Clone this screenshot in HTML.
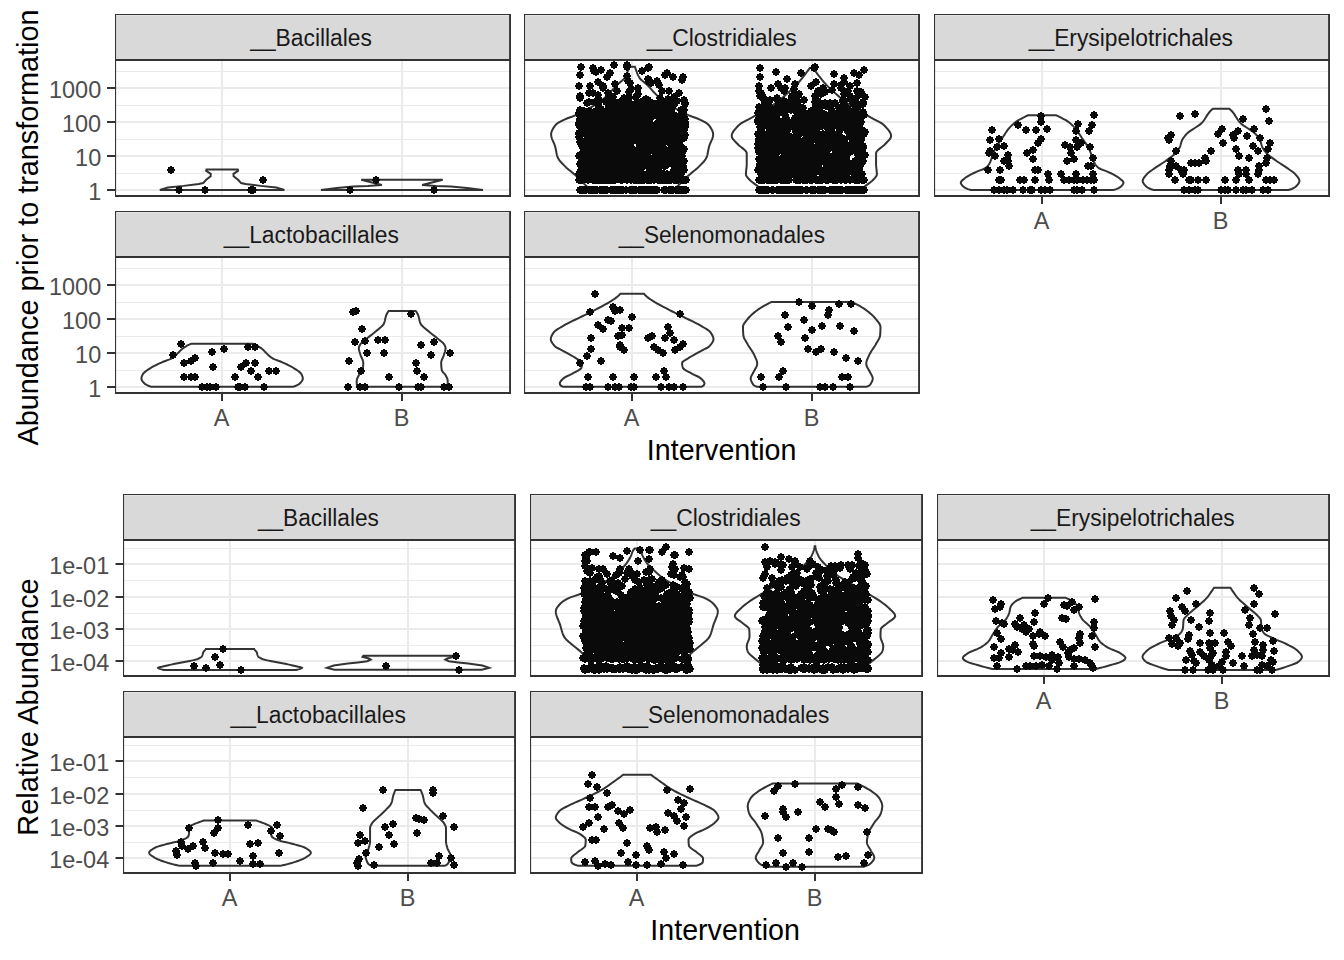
<!DOCTYPE html>
<html><head><meta charset="utf-8"><title>Abundance violin plots</title>
<style>html,body{margin:0;padding:0;background:#fff}body{width:1344px;height:960px;overflow:hidden;font-family:"Liberation Sans",sans-serif}svg{display:block}</style>
</head><body>
<svg width="1344" height="960" viewBox="0 0 1344 960" font-family="'Liberation Sans', sans-serif">
<rect width="1344" height="960" fill="#fff"/>
<defs><path id="p" d="M-1-4h2v1h2v2h1v2h-1v2h-2v1h-2v-1h-2v-2h-1v-2h1v-2h2z" fill="#0a0a0a"/></defs>
<g>
<rect x="115" y="14" width="396" height="46" fill="#D9D9D9"/>
<path d="M116 15h393v1h-392v43h-1z" fill="#E4E4E4"/>
<path d="M115 71h396v1h-396zM115 105h396v1h-396zM115 139h396v1h-396zM115 173h396v1h-396zM115 87h396v2h-396zM115 121h396v2h-396zM115 155h396v2h-396zM115 189h396v2h-396zM221 60h2v137h-2zM401 60h2v137h-2z" fill="#EBEBEB"/>
<path d="M206.5 169.48 L206.17 170.82 L210.75 173.83 L210.64 176.18 L205.94 180.09 L203.16 183.1 L198.69 184 L183.63 185.88 L168 187.45 L159.84 189.91 L284.41 189.91 L276.26 187.45 L260.63 185.88 L245.57 184 L241.1 183.1 L238.32 180.09 L233.62 176.18 L233.5 173.83 L238.09 170.82 L237.76 169.48Z" fill="none" stroke="#333333" stroke-width="2" stroke-linejoin="miter" stroke-miterlimit="6"/>
<path d="M361.24 179.73 L381.86 185.08 L367.78 186.03 L353.05 186.42 L337.01 188.03 L320.97 189.89 L483.02 189.89 L466.98 188.03 L450.94 186.42 L436.21 186.03 L422.13 185.08 L442.75 179.73Z" fill="none" stroke="#333333" stroke-width="2" stroke-linejoin="miter" stroke-miterlimit="6"/>
<use href="#p" x="171" y="170"/><use href="#p" x="179" y="190"/><use href="#p" x="205" y="190"/><use href="#p" x="251" y="190"/><use href="#p" x="253" y="190"/><use href="#p" x="263" y="180"/>
<use href="#p" x="350" y="190"/><use href="#p" x="376" y="180"/><use href="#p" x="434" y="190"/>
<path d="M115 14h396v1.1h-396zM115 14h1.1v183h-1.1zM509.1 14h1.9v183h-1.9zM115 59h396v2h-396zM115 195h396v2h-396z" fill="#333333"/>
<text x="250.2" y="46.4" font-size="23.47" fill="#1A1A1A" textLength="121.8" lengthAdjust="spacingAndGlyphs">__Bacillales</text>
<path d="M107 87H115v2H107zM107 121H115v2H107zM107 155H115v2H107zM107 189H115v2H107z" fill="#333333"/>
<text x="101.2" y="97.7" font-size="23.47" fill="#4D4D4D" text-anchor="end">1000</text>
<text x="101.2" y="131.7" font-size="23.47" fill="#4D4D4D" text-anchor="end">100</text>
<text x="101.2" y="165.7" font-size="23.47" fill="#4D4D4D" text-anchor="end">10</text>
<text x="101.2" y="199.7" font-size="23.47" fill="#4D4D4D" text-anchor="end">1</text>
</g>
<g>
<rect x="524" y="14" width="396" height="46" fill="#D9D9D9"/>
<path d="M525 15h393v1h-392v43h-1z" fill="#E4E4E4"/>
<path d="M524 71h396v1h-396zM524 105h396v1h-396zM524 139h396v1h-396zM524 173h396v1h-396zM524 87h396v2h-396zM524 121h396v2h-396zM524 155h396v2h-396zM524 189h396v2h-396zM631 60h2v137h-2zM811 60h2v137h-2z" fill="#EBEBEB"/>
<path d="M629.35 66.79 L628.83 68.35 L628.28 69.91 L627.69 71.47 L627.11 73.03 L626.48 74.59 L625.76 76.15 L624.89 77.71 L623.66 79.27 L621.95 80.83 L619.99 82.39 L618.04 83.95 L616.36 85.51 L614.92 87.07 L613.58 88.63 L612.26 90.19 L610.88 91.75 L609.38 93.31 L607.82 94.87 L606.19 96.43 L604.48 97.99 L602.64 99.55 L600.66 101.11 L598.47 102.67 L596.08 104.23 L593.53 105.79 L590.86 107.35 L588.12 108.91 L585.3 110.47 L582.35 112.03 L579.22 113.59 L575.85 115.15 L571.85 116.71 L567.48 118.27 L563.85 119.83 L560.82 121.39 L558.1 122.95 L555.99 124.51 L554.69 126.07 L553.62 127.64 L552.68 129.2 L551.92 130.76 L551.38 132.32 L551.12 133.88 L551.16 135.44 L551.46 137 L551.94 138.56 L552.55 140.12 L553.24 141.68 L553.93 143.24 L554.57 144.8 L555.11 146.36 L555.5 147.92 L555.83 149.48 L556.12 151.04 L556.41 152.6 L556.74 154.16 L557.14 155.72 L557.64 157.28 L558.4 158.84 L559.48 160.4 L560.8 161.96 L562.28 163.52 L563.81 165.08 L565.34 166.64 L566.99 168.2 L568.81 169.76 L570.73 171.32 L572.67 172.88 L574.56 174.44 L576.33 176 L577.96 177.56 L579.51 179.12 L581.01 180.68 L582.53 182.24 L584.12 183.8 L585.8 185.36 L587.55 186.92 L589.35 188.48 L591.21 190.04 L673.05 190.04 L674.9 188.48 L676.71 186.92 L678.46 185.36 L680.14 183.8 L681.72 182.24 L683.24 180.68 L684.75 179.12 L686.29 177.56 L687.92 176 L689.7 174.44 L691.59 172.88 L693.53 171.32 L695.44 169.76 L697.26 168.2 L698.92 166.64 L700.44 165.08 L701.98 163.52 L703.46 161.96 L704.78 160.4 L705.86 158.84 L706.62 157.28 L707.12 155.72 L707.52 154.16 L707.84 152.6 L708.13 151.04 L708.43 149.48 L708.75 147.92 L709.15 146.36 L709.68 144.8 L710.33 143.24 L711.02 141.68 L711.7 140.12 L712.31 138.56 L712.8 137 L713.09 135.44 L713.14 133.88 L712.87 132.32 L712.34 130.76 L711.57 129.2 L710.63 127.64 L709.56 126.07 L708.26 124.51 L706.15 122.95 L703.44 121.39 L700.41 119.83 L696.77 118.27 L692.41 116.71 L688.41 115.15 L685.04 113.59 L681.9 112.03 L678.95 110.47 L676.14 108.91 L673.39 107.35 L670.73 105.79 L668.18 104.23 L665.79 102.67 L663.6 101.11 L661.61 99.55 L659.78 97.99 L658.06 96.43 L656.44 94.87 L654.88 93.31 L653.37 91.75 L651.99 90.19 L650.67 88.63 L649.34 87.07 L647.9 85.51 L646.21 83.95 L644.27 82.39 L642.31 80.83 L640.59 79.27 L639.36 77.71 L638.49 76.15 L637.77 74.59 L637.15 73.03 L636.57 71.47 L635.98 69.91 L635.42 68.35 L634.91 66.79Z" fill="none" stroke="#333333" stroke-width="2" stroke-linejoin="miter" stroke-miterlimit="6"/>
<path d="M809.76 68.1 L808.63 69.64 L807.48 71.18 L806.32 72.73 L805.14 74.27 L803.95 75.81 L802.77 77.36 L801.58 78.9 L800.34 80.44 L799.04 81.99 L797.66 83.53 L796.21 85.08 L794.69 86.62 L793.12 88.16 L791.5 89.71 L789.83 91.25 L788.11 92.79 L786.36 94.34 L784.58 95.88 L782.76 97.42 L780.91 98.97 L779.01 100.51 L777.04 102.06 L775.01 103.6 L772.89 105.14 L770.68 106.69 L768.35 108.23 L765.82 109.77 L763.15 111.32 L760.39 112.86 L757.6 114.41 L754.86 115.95 L752.1 117.49 L749.1 119.04 L746.05 120.58 L743.17 122.12 L740.66 123.67 L738.73 125.21 L737.26 126.75 L735.83 128.3 L734.52 129.84 L733.38 131.39 L732.48 132.93 L731.89 134.47 L731.68 136.02 L732.04 137.56 L732.99 139.1 L734.33 140.65 L735.84 142.19 L737.32 143.73 L738.79 145.28 L740.69 146.82 L742.74 148.37 L744.64 149.91 L746.08 151.45 L746.73 153 L746.74 154.54 L746.74 156.08 L746.74 157.63 L746.74 159.17 L746.74 160.72 L746.74 162.26 L746.74 163.8 L746.7 165.35 L746.58 166.89 L746.42 168.43 L746.24 169.98 L746.08 171.52 L745.96 173.06 L745.93 174.61 L746.44 176.15 L747.6 177.7 L749.07 179.24 L750.57 180.78 L752.43 182.33 L754.57 183.87 L756.69 185.41 L758.62 186.96 L760.47 188.5 L762.29 190.04 L860.51 190.04 L862.32 188.5 L864.18 186.96 L866.11 185.41 L868.23 183.87 L870.37 182.33 L872.23 180.78 L873.72 179.24 L875.19 177.7 L876.36 176.15 L876.87 174.61 L876.83 173.06 L876.72 171.52 L876.56 169.98 L876.38 168.43 L876.22 166.89 L876.1 165.35 L876.06 163.8 L876.06 162.26 L876.06 160.72 L876.06 159.17 L876.06 157.63 L876.06 156.08 L876.06 154.54 L876.07 153 L876.72 151.45 L878.15 149.91 L880.06 148.37 L882.11 146.82 L884.01 145.28 L885.48 143.73 L886.96 142.19 L888.47 140.65 L889.8 139.1 L890.76 137.56 L891.12 136.02 L890.9 134.47 L890.32 132.93 L889.42 131.39 L888.28 129.84 L886.97 128.3 L885.54 126.75 L884.07 125.21 L882.14 123.67 L879.63 122.12 L876.75 120.58 L873.7 119.04 L870.7 117.49 L867.93 115.95 L865.19 114.41 L862.41 112.86 L859.65 111.32 L856.97 109.77 L854.44 108.23 L852.11 106.69 L849.9 105.14 L847.79 103.6 L845.75 102.06 L843.79 100.51 L841.89 98.97 L840.03 97.42 L838.22 95.88 L836.43 94.34 L834.68 92.79 L832.97 91.25 L831.3 89.71 L829.68 88.16 L828.1 86.62 L826.59 85.08 L825.14 83.53 L823.75 81.99 L822.45 80.44 L821.22 78.9 L820.03 77.36 L818.85 75.81 L817.66 74.27 L816.48 72.73 L815.31 71.18 L814.17 69.64 L813.04 68.1Z" fill="none" stroke="#333333" stroke-width="2" stroke-linejoin="miter" stroke-miterlimit="6"/>
<use href="#p" x="589" y="141"/><use href="#p" x="634" y="118"/><use href="#p" x="614" y="180"/><use href="#p" x="640" y="103"/><use href="#p" x="605" y="161"/><use href="#p" x="656" y="108"/><use href="#p" x="631" y="120"/><use href="#p" x="662" y="117"/><use href="#p" x="655" y="147"/><use href="#p" x="631" y="104"/><use href="#p" x="629" y="146"/><use href="#p" x="624" y="122"/><use href="#p" x="660" y="110"/><use href="#p" x="681" y="170"/><use href="#p" x="633" y="132"/><use href="#p" x="671" y="142"/><use href="#p" x="662" y="158"/><use href="#p" x="671" y="159"/><use href="#p" x="654" y="140"/><use href="#p" x="622" y="148"/><use href="#p" x="623" y="156"/><use href="#p" x="601" y="130"/><use href="#p" x="607" y="131"/><use href="#p" x="611" y="129"/><use href="#p" x="598" y="180"/><use href="#p" x="617" y="150"/><use href="#p" x="582" y="174"/><use href="#p" x="659" y="121"/><use href="#p" x="641" y="180"/><use href="#p" x="664" y="166"/><use href="#p" x="684" y="122"/><use href="#p" x="684" y="124"/><use href="#p" x="669" y="156"/><use href="#p" x="593" y="164"/><use href="#p" x="631" y="129"/><use href="#p" x="649" y="118"/><use href="#p" x="634" y="164"/><use href="#p" x="590" y="161"/><use href="#p" x="638" y="180"/><use href="#p" x="621" y="190"/><use href="#p" x="590" y="190"/><use href="#p" x="654" y="180"/><use href="#p" x="615" y="164"/><use href="#p" x="668" y="152"/><use href="#p" x="664" y="190"/><use href="#p" x="673" y="190"/><use href="#p" x="653" y="141"/><use href="#p" x="672" y="147"/><use href="#p" x="600" y="152"/><use href="#p" x="661" y="133"/><use href="#p" x="643" y="129"/><use href="#p" x="662" y="102"/><use href="#p" x="651" y="180"/><use href="#p" x="594" y="174"/><use href="#p" x="681" y="190"/><use href="#p" x="585" y="126"/><use href="#p" x="588" y="115"/><use href="#p" x="678" y="124"/><use href="#p" x="616" y="136"/><use href="#p" x="635" y="115"/><use href="#p" x="620" y="115"/><use href="#p" x="673" y="159"/><use href="#p" x="594" y="112"/><use href="#p" x="648" y="127"/><use href="#p" x="614" y="161"/><use href="#p" x="626" y="135"/><use href="#p" x="661" y="166"/><use href="#p" x="630" y="146"/><use href="#p" x="642" y="116"/><use href="#p" x="667" y="164"/><use href="#p" x="605" y="166"/><use href="#p" x="593" y="164"/><use href="#p" x="620" y="122"/><use href="#p" x="617" y="140"/><use href="#p" x="677" y="151"/><use href="#p" x="638" y="164"/><use href="#p" x="596" y="137"/><use href="#p" x="587" y="139"/><use href="#p" x="685" y="119"/><use href="#p" x="650" y="190"/><use href="#p" x="668" y="99"/><use href="#p" x="661" y="156"/><use href="#p" x="596" y="123"/><use href="#p" x="627" y="180"/><use href="#p" x="603" y="141"/><use href="#p" x="662" y="91"/><use href="#p" x="624" y="116"/><use href="#p" x="641" y="166"/><use href="#p" x="582" y="146"/><use href="#p" x="583" y="190"/><use href="#p" x="668" y="139"/><use href="#p" x="596" y="72"/><use href="#p" x="654" y="190"/><use href="#p" x="643" y="158"/><use href="#p" x="597" y="174"/><use href="#p" x="654" y="190"/><use href="#p" x="635" y="125"/><use href="#p" x="680" y="190"/><use href="#p" x="662" y="126"/><use href="#p" x="682" y="113"/><use href="#p" x="681" y="156"/><use href="#p" x="640" y="106"/><use href="#p" x="624" y="145"/><use href="#p" x="648" y="147"/><use href="#p" x="633" y="134"/><use href="#p" x="640" y="147"/><use href="#p" x="666" y="190"/><use href="#p" x="672" y="190"/><use href="#p" x="658" y="103"/><use href="#p" x="683" y="130"/><use href="#p" x="675" y="164"/><use href="#p" x="622" y="190"/><use href="#p" x="650" y="140"/><use href="#p" x="663" y="147"/><use href="#p" x="627" y="107"/><use href="#p" x="588" y="159"/><use href="#p" x="580" y="98"/><use href="#p" x="672" y="147"/><use href="#p" x="626" y="190"/><use href="#p" x="626" y="137"/><use href="#p" x="624" y="103"/><use href="#p" x="670" y="190"/><use href="#p" x="622" y="110"/><use href="#p" x="586" y="117"/><use href="#p" x="630" y="112"/><use href="#p" x="675" y="161"/><use href="#p" x="586" y="132"/><use href="#p" x="671" y="110"/><use href="#p" x="590" y="118"/><use href="#p" x="673" y="149"/><use href="#p" x="652" y="190"/><use href="#p" x="665" y="139"/><use href="#p" x="671" y="133"/><use href="#p" x="646" y="155"/><use href="#p" x="645" y="136"/><use href="#p" x="599" y="142"/><use href="#p" x="684" y="190"/><use href="#p" x="672" y="100"/><use href="#p" x="642" y="190"/><use href="#p" x="674" y="166"/><use href="#p" x="598" y="149"/><use href="#p" x="613" y="97"/><use href="#p" x="657" y="161"/><use href="#p" x="616" y="136"/><use href="#p" x="655" y="170"/><use href="#p" x="585" y="153"/><use href="#p" x="673" y="131"/><use href="#p" x="685" y="180"/><use href="#p" x="637" y="123"/><use href="#p" x="586" y="156"/><use href="#p" x="621" y="144"/><use href="#p" x="660" y="115"/><use href="#p" x="579" y="180"/><use href="#p" x="649" y="80"/><use href="#p" x="607" y="190"/><use href="#p" x="583" y="122"/><use href="#p" x="663" y="174"/><use href="#p" x="613" y="140"/><use href="#p" x="644" y="144"/><use href="#p" x="583" y="170"/><use href="#p" x="667" y="137"/><use href="#p" x="595" y="150"/><use href="#p" x="678" y="190"/><use href="#p" x="674" y="144"/><use href="#p" x="620" y="159"/><use href="#p" x="646" y="123"/><use href="#p" x="581" y="141"/><use href="#p" x="625" y="111"/><use href="#p" x="652" y="138"/><use href="#p" x="602" y="123"/><use href="#p" x="630" y="114"/><use href="#p" x="627" y="158"/><use href="#p" x="667" y="156"/><use href="#p" x="582" y="190"/><use href="#p" x="639" y="156"/><use href="#p" x="622" y="136"/><use href="#p" x="602" y="126"/><use href="#p" x="591" y="190"/><use href="#p" x="645" y="190"/><use href="#p" x="582" y="132"/><use href="#p" x="638" y="141"/><use href="#p" x="621" y="138"/><use href="#p" x="590" y="156"/><use href="#p" x="621" y="136"/><use href="#p" x="623" y="139"/><use href="#p" x="673" y="106"/><use href="#p" x="668" y="142"/><use href="#p" x="604" y="122"/><use href="#p" x="636" y="170"/><use href="#p" x="605" y="116"/><use href="#p" x="590" y="190"/><use href="#p" x="615" y="190"/><use href="#p" x="608" y="99"/><use href="#p" x="638" y="132"/><use href="#p" x="665" y="111"/><use href="#p" x="580" y="75"/><use href="#p" x="664" y="124"/><use href="#p" x="671" y="190"/><use href="#p" x="664" y="161"/><use href="#p" x="655" y="104"/><use href="#p" x="630" y="117"/><use href="#p" x="615" y="125"/><use href="#p" x="631" y="131"/><use href="#p" x="619" y="190"/><use href="#p" x="665" y="150"/><use href="#p" x="581" y="127"/><use href="#p" x="651" y="136"/><use href="#p" x="580" y="190"/><use href="#p" x="638" y="174"/><use href="#p" x="592" y="143"/><use href="#p" x="674" y="137"/><use href="#p" x="665" y="142"/><use href="#p" x="597" y="180"/><use href="#p" x="667" y="174"/><use href="#p" x="628" y="110"/><use href="#p" x="673" y="77"/><use href="#p" x="587" y="114"/><use href="#p" x="626" y="174"/><use href="#p" x="685" y="127"/><use href="#p" x="670" y="126"/><use href="#p" x="590" y="190"/><use href="#p" x="603" y="174"/><use href="#p" x="604" y="119"/><use href="#p" x="581" y="170"/><use href="#p" x="621" y="180"/><use href="#p" x="616" y="190"/><use href="#p" x="642" y="148"/><use href="#p" x="607" y="134"/><use href="#p" x="625" y="113"/><use href="#p" x="675" y="121"/><use href="#p" x="598" y="151"/><use href="#p" x="600" y="137"/><use href="#p" x="651" y="83"/><use href="#p" x="634" y="138"/><use href="#p" x="660" y="119"/><use href="#p" x="644" y="190"/><use href="#p" x="606" y="180"/><use href="#p" x="589" y="125"/><use href="#p" x="606" y="190"/><use href="#p" x="592" y="190"/><use href="#p" x="626" y="174"/><use href="#p" x="587" y="147"/><use href="#p" x="678" y="180"/><use href="#p" x="666" y="108"/><use href="#p" x="632" y="174"/><use href="#p" x="589" y="93"/><use href="#p" x="671" y="174"/><use href="#p" x="591" y="150"/><use href="#p" x="635" y="174"/><use href="#p" x="590" y="113"/><use href="#p" x="648" y="140"/><use href="#p" x="631" y="190"/><use href="#p" x="608" y="93"/><use href="#p" x="636" y="137"/><use href="#p" x="634" y="125"/><use href="#p" x="668" y="159"/><use href="#p" x="614" y="135"/><use href="#p" x="651" y="190"/><use href="#p" x="664" y="105"/><use href="#p" x="607" y="190"/><use href="#p" x="592" y="114"/><use href="#p" x="607" y="170"/><use href="#p" x="672" y="103"/><use href="#p" x="635" y="190"/><use href="#p" x="591" y="152"/><use href="#p" x="611" y="180"/><use href="#p" x="628" y="144"/><use href="#p" x="685" y="122"/><use href="#p" x="637" y="174"/><use href="#p" x="618" y="190"/><use href="#p" x="598" y="82"/><use href="#p" x="616" y="109"/><use href="#p" x="617" y="129"/><use href="#p" x="657" y="170"/><use href="#p" x="682" y="115"/><use href="#p" x="605" y="147"/><use href="#p" x="615" y="190"/><use href="#p" x="615" y="150"/><use href="#p" x="600" y="119"/><use href="#p" x="634" y="170"/><use href="#p" x="631" y="170"/><use href="#p" x="684" y="129"/><use href="#p" x="683" y="114"/><use href="#p" x="651" y="190"/><use href="#p" x="657" y="126"/><use href="#p" x="633" y="108"/><use href="#p" x="681" y="124"/><use href="#p" x="672" y="132"/><use href="#p" x="686" y="190"/><use href="#p" x="648" y="115"/><use href="#p" x="582" y="120"/><use href="#p" x="673" y="115"/><use href="#p" x="613" y="134"/><use href="#p" x="679" y="127"/><use href="#p" x="614" y="174"/><use href="#p" x="613" y="155"/><use href="#p" x="587" y="161"/><use href="#p" x="628" y="147"/><use href="#p" x="646" y="156"/><use href="#p" x="585" y="190"/><use href="#p" x="660" y="113"/><use href="#p" x="634" y="159"/><use href="#p" x="658" y="150"/><use href="#p" x="627" y="120"/><use href="#p" x="652" y="170"/><use href="#p" x="683" y="116"/><use href="#p" x="615" y="84"/><use href="#p" x="671" y="180"/><use href="#p" x="597" y="112"/><use href="#p" x="586" y="123"/><use href="#p" x="601" y="109"/><use href="#p" x="638" y="111"/><use href="#p" x="604" y="138"/><use href="#p" x="678" y="159"/><use href="#p" x="600" y="153"/><use href="#p" x="614" y="151"/><use href="#p" x="677" y="158"/><use href="#p" x="591" y="153"/><use href="#p" x="661" y="174"/><use href="#p" x="581" y="180"/><use href="#p" x="682" y="153"/><use href="#p" x="663" y="138"/><use href="#p" x="667" y="159"/><use href="#p" x="679" y="147"/><use href="#p" x="597" y="161"/><use href="#p" x="651" y="114"/><use href="#p" x="622" y="190"/><use href="#p" x="602" y="153"/><use href="#p" x="622" y="170"/><use href="#p" x="610" y="159"/><use href="#p" x="663" y="180"/><use href="#p" x="597" y="180"/><use href="#p" x="586" y="116"/><use href="#p" x="611" y="133"/><use href="#p" x="598" y="112"/><use href="#p" x="605" y="161"/><use href="#p" x="674" y="174"/><use href="#p" x="590" y="86"/><use href="#p" x="587" y="127"/><use href="#p" x="657" y="137"/><use href="#p" x="595" y="180"/><use href="#p" x="627" y="98"/><use href="#p" x="596" y="131"/><use href="#p" x="617" y="128"/><use href="#p" x="607" y="124"/><use href="#p" x="664" y="174"/><use href="#p" x="621" y="174"/><use href="#p" x="682" y="114"/><use href="#p" x="652" y="174"/><use href="#p" x="579" y="133"/><use href="#p" x="660" y="98"/><use href="#p" x="658" y="133"/><use href="#p" x="595" y="180"/><use href="#p" x="667" y="174"/><use href="#p" x="678" y="180"/><use href="#p" x="599" y="112"/><use href="#p" x="614" y="190"/><use href="#p" x="643" y="180"/><use href="#p" x="674" y="132"/><use href="#p" x="599" y="126"/><use href="#p" x="627" y="118"/><use href="#p" x="614" y="134"/><use href="#p" x="617" y="164"/><use href="#p" x="602" y="123"/><use href="#p" x="596" y="126"/><use href="#p" x="617" y="119"/><use href="#p" x="649" y="190"/><use href="#p" x="614" y="118"/><use href="#p" x="678" y="146"/><use href="#p" x="602" y="129"/><use href="#p" x="685" y="103"/><use href="#p" x="630" y="190"/><use href="#p" x="674" y="97"/><use href="#p" x="651" y="161"/><use href="#p" x="605" y="153"/><use href="#p" x="594" y="145"/><use href="#p" x="596" y="133"/><use href="#p" x="631" y="143"/><use href="#p" x="639" y="190"/><use href="#p" x="608" y="115"/><use href="#p" x="645" y="131"/><use href="#p" x="653" y="144"/><use href="#p" x="653" y="108"/><use href="#p" x="586" y="142"/><use href="#p" x="649" y="124"/><use href="#p" x="583" y="125"/><use href="#p" x="600" y="134"/><use href="#p" x="616" y="190"/><use href="#p" x="629" y="121"/><use href="#p" x="600" y="190"/><use href="#p" x="636" y="161"/><use href="#p" x="683" y="119"/><use href="#p" x="667" y="134"/><use href="#p" x="621" y="190"/><use href="#p" x="584" y="142"/><use href="#p" x="658" y="127"/><use href="#p" x="658" y="149"/><use href="#p" x="580" y="190"/><use href="#p" x="602" y="119"/><use href="#p" x="677" y="190"/><use href="#p" x="652" y="142"/><use href="#p" x="593" y="151"/><use href="#p" x="598" y="129"/><use href="#p" x="593" y="93"/><use href="#p" x="595" y="102"/><use href="#p" x="592" y="151"/><use href="#p" x="679" y="119"/><use href="#p" x="637" y="112"/><use href="#p" x="661" y="133"/><use href="#p" x="681" y="190"/><use href="#p" x="600" y="180"/><use href="#p" x="600" y="174"/><use href="#p" x="639" y="126"/><use href="#p" x="597" y="190"/><use href="#p" x="607" y="77"/><use href="#p" x="654" y="143"/><use href="#p" x="667" y="180"/><use href="#p" x="592" y="124"/><use href="#p" x="617" y="156"/><use href="#p" x="595" y="141"/><use href="#p" x="662" y="180"/><use href="#p" x="636" y="155"/><use href="#p" x="604" y="158"/><use href="#p" x="633" y="125"/><use href="#p" x="612" y="164"/><use href="#p" x="661" y="140"/><use href="#p" x="623" y="161"/><use href="#p" x="673" y="138"/><use href="#p" x="614" y="152"/><use href="#p" x="652" y="103"/><use href="#p" x="631" y="138"/><use href="#p" x="608" y="119"/><use href="#p" x="684" y="137"/><use href="#p" x="648" y="153"/><use href="#p" x="586" y="150"/><use href="#p" x="620" y="170"/><use href="#p" x="595" y="125"/><use href="#p" x="603" y="125"/><use href="#p" x="619" y="174"/><use href="#p" x="669" y="124"/><use href="#p" x="650" y="159"/><use href="#p" x="603" y="116"/><use href="#p" x="679" y="190"/><use href="#p" x="624" y="126"/><use href="#p" x="591" y="170"/><use href="#p" x="627" y="155"/><use href="#p" x="603" y="88"/><use href="#p" x="591" y="190"/><use href="#p" x="657" y="174"/><use href="#p" x="680" y="190"/><use href="#p" x="654" y="158"/><use href="#p" x="677" y="151"/><use href="#p" x="661" y="129"/><use href="#p" x="596" y="190"/><use href="#p" x="684" y="161"/><use href="#p" x="650" y="119"/><use href="#p" x="624" y="122"/><use href="#p" x="603" y="142"/><use href="#p" x="598" y="180"/><use href="#p" x="591" y="114"/><use href="#p" x="611" y="110"/><use href="#p" x="614" y="133"/><use href="#p" x="659" y="123"/><use href="#p" x="613" y="111"/><use href="#p" x="607" y="170"/><use href="#p" x="615" y="136"/><use href="#p" x="653" y="190"/><use href="#p" x="666" y="161"/><use href="#p" x="597" y="122"/><use href="#p" x="603" y="190"/><use href="#p" x="602" y="166"/><use href="#p" x="672" y="142"/><use href="#p" x="657" y="152"/><use href="#p" x="665" y="166"/><use href="#p" x="606" y="174"/><use href="#p" x="612" y="141"/><use href="#p" x="614" y="151"/><use href="#p" x="638" y="88"/><use href="#p" x="640" y="140"/><use href="#p" x="602" y="130"/><use href="#p" x="681" y="190"/><use href="#p" x="668" y="153"/><use href="#p" x="668" y="141"/><use href="#p" x="614" y="174"/><use href="#p" x="602" y="142"/><use href="#p" x="665" y="116"/><use href="#p" x="589" y="158"/><use href="#p" x="605" y="164"/><use href="#p" x="609" y="117"/><use href="#p" x="599" y="170"/><use href="#p" x="659" y="133"/><use href="#p" x="600" y="164"/><use href="#p" x="642" y="180"/><use href="#p" x="670" y="151"/><use href="#p" x="599" y="180"/><use href="#p" x="644" y="141"/><use href="#p" x="686" y="190"/><use href="#p" x="579" y="174"/><use href="#p" x="580" y="164"/><use href="#p" x="640" y="180"/><use href="#p" x="608" y="116"/><use href="#p" x="612" y="170"/><use href="#p" x="620" y="103"/><use href="#p" x="681" y="161"/><use href="#p" x="598" y="155"/><use href="#p" x="673" y="164"/><use href="#p" x="664" y="156"/><use href="#p" x="643" y="190"/><use href="#p" x="678" y="174"/><use href="#p" x="621" y="190"/><use href="#p" x="657" y="134"/><use href="#p" x="658" y="174"/><use href="#p" x="628" y="139"/><use href="#p" x="606" y="174"/><use href="#p" x="643" y="101"/><use href="#p" x="606" y="102"/><use href="#p" x="642" y="131"/><use href="#p" x="670" y="190"/><use href="#p" x="597" y="164"/><use href="#p" x="592" y="129"/><use href="#p" x="678" y="142"/><use href="#p" x="677" y="133"/><use href="#p" x="618" y="119"/><use href="#p" x="665" y="190"/><use href="#p" x="623" y="190"/><use href="#p" x="646" y="150"/><use href="#p" x="677" y="180"/><use href="#p" x="636" y="170"/><use href="#p" x="588" y="146"/><use href="#p" x="661" y="150"/><use href="#p" x="591" y="190"/><use href="#p" x="589" y="190"/><use href="#p" x="597" y="174"/><use href="#p" x="678" y="126"/><use href="#p" x="630" y="143"/><use href="#p" x="648" y="121"/><use href="#p" x="598" y="130"/><use href="#p" x="619" y="174"/><use href="#p" x="639" y="142"/><use href="#p" x="648" y="153"/><use href="#p" x="591" y="122"/><use href="#p" x="676" y="138"/><use href="#p" x="662" y="156"/><use href="#p" x="618" y="146"/><use href="#p" x="604" y="136"/><use href="#p" x="624" y="126"/><use href="#p" x="671" y="143"/><use href="#p" x="591" y="116"/><use href="#p" x="606" y="139"/><use href="#p" x="664" y="190"/><use href="#p" x="663" y="111"/><use href="#p" x="676" y="174"/><use href="#p" x="671" y="119"/><use href="#p" x="668" y="100"/><use href="#p" x="594" y="180"/><use href="#p" x="628" y="164"/><use href="#p" x="620" y="123"/><use href="#p" x="636" y="180"/><use href="#p" x="596" y="149"/><use href="#p" x="607" y="159"/><use href="#p" x="610" y="180"/><use href="#p" x="646" y="134"/><use href="#p" x="674" y="125"/><use href="#p" x="633" y="158"/><use href="#p" x="586" y="141"/><use href="#p" x="607" y="180"/><use href="#p" x="679" y="151"/><use href="#p" x="671" y="141"/><use href="#p" x="617" y="126"/><use href="#p" x="580" y="110"/><use href="#p" x="678" y="138"/><use href="#p" x="664" y="156"/><use href="#p" x="612" y="174"/><use href="#p" x="625" y="152"/><use href="#p" x="587" y="141"/><use href="#p" x="590" y="190"/><use href="#p" x="629" y="148"/><use href="#p" x="594" y="190"/><use href="#p" x="639" y="106"/><use href="#p" x="641" y="166"/><use href="#p" x="657" y="164"/><use href="#p" x="663" y="147"/><use href="#p" x="656" y="147"/><use href="#p" x="622" y="132"/><use href="#p" x="619" y="117"/><use href="#p" x="668" y="164"/><use href="#p" x="599" y="107"/><use href="#p" x="580" y="142"/><use href="#p" x="646" y="146"/><use href="#p" x="665" y="190"/><use href="#p" x="604" y="131"/><use href="#p" x="626" y="164"/><use href="#p" x="646" y="106"/><use href="#p" x="640" y="166"/><use href="#p" x="654" y="180"/><use href="#p" x="651" y="134"/><use href="#p" x="654" y="134"/><use href="#p" x="626" y="153"/><use href="#p" x="680" y="190"/><use href="#p" x="646" y="106"/><use href="#p" x="658" y="180"/><use href="#p" x="650" y="132"/><use href="#p" x="669" y="190"/><use href="#p" x="585" y="159"/><use href="#p" x="656" y="115"/><use href="#p" x="661" y="106"/><use href="#p" x="684" y="136"/><use href="#p" x="595" y="152"/><use href="#p" x="639" y="148"/><use href="#p" x="641" y="190"/><use href="#p" x="683" y="170"/><use href="#p" x="647" y="112"/><use href="#p" x="682" y="119"/><use href="#p" x="652" y="125"/><use href="#p" x="648" y="152"/><use href="#p" x="631" y="116"/><use href="#p" x="615" y="161"/><use href="#p" x="613" y="121"/><use href="#p" x="605" y="122"/><use href="#p" x="632" y="133"/><use href="#p" x="657" y="81"/><use href="#p" x="584" y="159"/><use href="#p" x="590" y="166"/><use href="#p" x="585" y="155"/><use href="#p" x="580" y="164"/><use href="#p" x="609" y="117"/><use href="#p" x="662" y="126"/><use href="#p" x="633" y="136"/><use href="#p" x="647" y="190"/><use href="#p" x="667" y="174"/><use href="#p" x="624" y="122"/><use href="#p" x="643" y="140"/><use href="#p" x="632" y="139"/><use href="#p" x="606" y="180"/><use href="#p" x="623" y="153"/><use href="#p" x="677" y="122"/><use href="#p" x="643" y="190"/><use href="#p" x="639" y="170"/><use href="#p" x="677" y="151"/><use href="#p" x="597" y="190"/><use href="#p" x="624" y="147"/><use href="#p" x="594" y="190"/><use href="#p" x="602" y="174"/><use href="#p" x="633" y="190"/><use href="#p" x="614" y="180"/><use href="#p" x="584" y="133"/><use href="#p" x="583" y="174"/><use href="#p" x="610" y="151"/><use href="#p" x="623" y="190"/><use href="#p" x="682" y="180"/><use href="#p" x="678" y="180"/><use href="#p" x="620" y="120"/><use href="#p" x="595" y="148"/><use href="#p" x="619" y="140"/><use href="#p" x="598" y="170"/><use href="#p" x="634" y="113"/><use href="#p" x="620" y="142"/><use href="#p" x="654" y="159"/><use href="#p" x="604" y="180"/><use href="#p" x="669" y="119"/><use href="#p" x="619" y="156"/><use href="#p" x="627" y="151"/><use href="#p" x="646" y="99"/><use href="#p" x="611" y="190"/><use href="#p" x="659" y="123"/><use href="#p" x="636" y="180"/><use href="#p" x="671" y="158"/><use href="#p" x="674" y="170"/><use href="#p" x="680" y="119"/><use href="#p" x="588" y="132"/><use href="#p" x="649" y="149"/><use href="#p" x="660" y="180"/><use href="#p" x="640" y="180"/><use href="#p" x="592" y="130"/><use href="#p" x="657" y="111"/><use href="#p" x="640" y="131"/><use href="#p" x="588" y="128"/><use href="#p" x="624" y="174"/><use href="#p" x="627" y="180"/><use href="#p" x="587" y="166"/><use href="#p" x="623" y="120"/><use href="#p" x="600" y="159"/><use href="#p" x="632" y="190"/><use href="#p" x="595" y="112"/><use href="#p" x="630" y="174"/><use href="#p" x="668" y="161"/><use href="#p" x="589" y="159"/><use href="#p" x="611" y="103"/><use href="#p" x="592" y="117"/><use href="#p" x="621" y="164"/><use href="#p" x="613" y="161"/><use href="#p" x="634" y="128"/><use href="#p" x="607" y="142"/><use href="#p" x="640" y="190"/><use href="#p" x="605" y="120"/><use href="#p" x="647" y="180"/><use href="#p" x="672" y="114"/><use href="#p" x="636" y="190"/><use href="#p" x="618" y="153"/><use href="#p" x="662" y="161"/><use href="#p" x="649" y="67"/><use href="#p" x="637" y="125"/><use href="#p" x="669" y="130"/><use href="#p" x="660" y="129"/><use href="#p" x="673" y="131"/><use href="#p" x="620" y="121"/><use href="#p" x="611" y="156"/><use href="#p" x="642" y="174"/><use href="#p" x="653" y="144"/><use href="#p" x="616" y="138"/><use href="#p" x="619" y="166"/><use href="#p" x="626" y="141"/><use href="#p" x="685" y="180"/><use href="#p" x="680" y="130"/><use href="#p" x="630" y="170"/><use href="#p" x="658" y="153"/><use href="#p" x="580" y="134"/><use href="#p" x="613" y="138"/><use href="#p" x="683" y="117"/><use href="#p" x="677" y="133"/><use href="#p" x="592" y="116"/><use href="#p" x="651" y="115"/><use href="#p" x="671" y="134"/><use href="#p" x="645" y="133"/><use href="#p" x="605" y="131"/><use href="#p" x="646" y="114"/><use href="#p" x="626" y="159"/><use href="#p" x="620" y="164"/><use href="#p" x="684" y="161"/><use href="#p" x="630" y="83"/><use href="#p" x="651" y="170"/><use href="#p" x="643" y="174"/><use href="#p" x="682" y="156"/><use href="#p" x="581" y="190"/><use href="#p" x="684" y="138"/><use href="#p" x="656" y="174"/><use href="#p" x="636" y="155"/><use href="#p" x="630" y="148"/><use href="#p" x="600" y="174"/><use href="#p" x="620" y="102"/><use href="#p" x="643" y="156"/><use href="#p" x="587" y="120"/><use href="#p" x="681" y="147"/><use href="#p" x="674" y="140"/><use href="#p" x="580" y="96"/><use href="#p" x="681" y="180"/><use href="#p" x="609" y="132"/><use href="#p" x="676" y="149"/><use href="#p" x="637" y="102"/><use href="#p" x="684" y="180"/><use href="#p" x="582" y="190"/><use href="#p" x="641" y="123"/><use href="#p" x="634" y="190"/><use href="#p" x="642" y="122"/><use href="#p" x="676" y="117"/><use href="#p" x="647" y="124"/><use href="#p" x="638" y="115"/><use href="#p" x="631" y="152"/><use href="#p" x="649" y="123"/><use href="#p" x="682" y="159"/><use href="#p" x="579" y="123"/><use href="#p" x="645" y="164"/><use href="#p" x="681" y="127"/><use href="#p" x="603" y="111"/><use href="#p" x="639" y="120"/><use href="#p" x="642" y="134"/><use href="#p" x="614" y="190"/><use href="#p" x="669" y="180"/><use href="#p" x="622" y="105"/><use href="#p" x="601" y="174"/><use href="#p" x="598" y="180"/><use href="#p" x="666" y="164"/><use href="#p" x="661" y="164"/><use href="#p" x="682" y="137"/><use href="#p" x="662" y="155"/><use href="#p" x="614" y="135"/><use href="#p" x="675" y="180"/><use href="#p" x="593" y="125"/><use href="#p" x="653" y="151"/><use href="#p" x="660" y="149"/><use href="#p" x="682" y="139"/><use href="#p" x="613" y="146"/><use href="#p" x="648" y="159"/><use href="#p" x="621" y="174"/><use href="#p" x="677" y="170"/><use href="#p" x="666" y="107"/><use href="#p" x="642" y="140"/><use href="#p" x="605" y="153"/><use href="#p" x="586" y="128"/><use href="#p" x="653" y="170"/><use href="#p" x="614" y="155"/><use href="#p" x="677" y="170"/><use href="#p" x="589" y="102"/><use href="#p" x="626" y="151"/><use href="#p" x="675" y="174"/><use href="#p" x="669" y="91"/><use href="#p" x="602" y="147"/><use href="#p" x="582" y="161"/><use href="#p" x="679" y="174"/><use href="#p" x="626" y="190"/><use href="#p" x="590" y="190"/><use href="#p" x="582" y="133"/><use href="#p" x="659" y="155"/><use href="#p" x="656" y="148"/><use href="#p" x="628" y="81"/><use href="#p" x="668" y="139"/><use href="#p" x="634" y="170"/><use href="#p" x="612" y="180"/><use href="#p" x="587" y="103"/><use href="#p" x="679" y="151"/><use href="#p" x="662" y="138"/><use href="#p" x="595" y="161"/><use href="#p" x="678" y="174"/><use href="#p" x="583" y="190"/><use href="#p" x="639" y="136"/><use href="#p" x="593" y="180"/><use href="#p" x="597" y="170"/><use href="#p" x="651" y="114"/><use href="#p" x="624" y="151"/><use href="#p" x="612" y="180"/><use href="#p" x="653" y="166"/><use href="#p" x="589" y="111"/><use href="#p" x="618" y="164"/><use href="#p" x="681" y="161"/><use href="#p" x="634" y="110"/><use href="#p" x="594" y="132"/><use href="#p" x="620" y="174"/><use href="#p" x="635" y="116"/><use href="#p" x="580" y="119"/><use href="#p" x="660" y="127"/><use href="#p" x="579" y="125"/><use href="#p" x="679" y="144"/><use href="#p" x="598" y="151"/><use href="#p" x="673" y="141"/><use href="#p" x="655" y="148"/><use href="#p" x="638" y="170"/><use href="#p" x="583" y="129"/><use href="#p" x="586" y="146"/><use href="#p" x="596" y="130"/><use href="#p" x="622" y="190"/><use href="#p" x="634" y="180"/><use href="#p" x="674" y="141"/><use href="#p" x="617" y="144"/><use href="#p" x="671" y="116"/><use href="#p" x="665" y="166"/><use href="#p" x="639" y="135"/><use href="#p" x="655" y="174"/><use href="#p" x="675" y="118"/><use href="#p" x="623" y="174"/><use href="#p" x="589" y="135"/><use href="#p" x="685" y="123"/><use href="#p" x="662" y="138"/><use href="#p" x="629" y="125"/><use href="#p" x="648" y="152"/><use href="#p" x="638" y="94"/><use href="#p" x="677" y="101"/><use href="#p" x="628" y="166"/><use href="#p" x="653" y="174"/><use href="#p" x="647" y="180"/><use href="#p" x="657" y="124"/><use href="#p" x="644" y="180"/><use href="#p" x="641" y="112"/><use href="#p" x="587" y="139"/><use href="#p" x="631" y="190"/><use href="#p" x="622" y="106"/><use href="#p" x="675" y="158"/><use href="#p" x="656" y="166"/><use href="#p" x="642" y="152"/><use href="#p" x="646" y="125"/><use href="#p" x="634" y="138"/><use href="#p" x="666" y="119"/><use href="#p" x="669" y="180"/><use href="#p" x="601" y="190"/><use href="#p" x="614" y="141"/><use href="#p" x="655" y="146"/><use href="#p" x="599" y="131"/><use href="#p" x="674" y="155"/><use href="#p" x="584" y="111"/><use href="#p" x="592" y="119"/><use href="#p" x="616" y="111"/><use href="#p" x="621" y="137"/><use href="#p" x="642" y="140"/><use href="#p" x="681" y="166"/><use href="#p" x="615" y="152"/><use href="#p" x="645" y="136"/><use href="#p" x="615" y="158"/><use href="#p" x="607" y="156"/><use href="#p" x="671" y="132"/><use href="#p" x="677" y="190"/><use href="#p" x="630" y="134"/><use href="#p" x="636" y="97"/><use href="#p" x="596" y="180"/><use href="#p" x="673" y="120"/><use href="#p" x="685" y="125"/><use href="#p" x="663" y="180"/><use href="#p" x="609" y="139"/><use href="#p" x="584" y="150"/><use href="#p" x="678" y="180"/><use href="#p" x="667" y="161"/><use href="#p" x="605" y="137"/><use href="#p" x="615" y="190"/><use href="#p" x="606" y="145"/><use href="#p" x="594" y="174"/><use href="#p" x="658" y="153"/><use href="#p" x="666" y="133"/><use href="#p" x="601" y="115"/><use href="#p" x="636" y="164"/><use href="#p" x="660" y="164"/><use href="#p" x="620" y="143"/><use href="#p" x="684" y="149"/><use href="#p" x="679" y="93"/><use href="#p" x="612" y="130"/><use href="#p" x="589" y="170"/><use href="#p" x="595" y="190"/><use href="#p" x="599" y="101"/><use href="#p" x="596" y="161"/><use href="#p" x="595" y="190"/><use href="#p" x="605" y="144"/><use href="#p" x="642" y="129"/><use href="#p" x="644" y="190"/><use href="#p" x="660" y="116"/><use href="#p" x="633" y="156"/><use href="#p" x="667" y="164"/><use href="#p" x="650" y="170"/><use href="#p" x="633" y="166"/><use href="#p" x="594" y="180"/><use href="#p" x="666" y="153"/><use href="#p" x="684" y="190"/><use href="#p" x="612" y="180"/><use href="#p" x="625" y="107"/><use href="#p" x="584" y="170"/><use href="#p" x="674" y="150"/><use href="#p" x="630" y="120"/><use href="#p" x="636" y="126"/><use href="#p" x="594" y="174"/><use href="#p" x="581" y="128"/><use href="#p" x="589" y="161"/><use href="#p" x="651" y="174"/><use href="#p" x="638" y="140"/><use href="#p" x="597" y="125"/><use href="#p" x="631" y="158"/><use href="#p" x="684" y="130"/><use href="#p" x="640" y="142"/><use href="#p" x="599" y="128"/><use href="#p" x="621" y="131"/><use href="#p" x="667" y="152"/><use href="#p" x="643" y="113"/><use href="#p" x="595" y="148"/><use href="#p" x="665" y="75"/><use href="#p" x="661" y="142"/><use href="#p" x="623" y="138"/><use href="#p" x="659" y="161"/><use href="#p" x="603" y="190"/><use href="#p" x="675" y="122"/><use href="#p" x="610" y="180"/><use href="#p" x="660" y="180"/><use href="#p" x="681" y="174"/><use href="#p" x="584" y="153"/><use href="#p" x="594" y="190"/><use href="#p" x="663" y="123"/><use href="#p" x="609" y="99"/><use href="#p" x="602" y="180"/><use href="#p" x="682" y="164"/><use href="#p" x="617" y="91"/><use href="#p" x="683" y="123"/><use href="#p" x="673" y="190"/><use href="#p" x="582" y="146"/><use href="#p" x="656" y="190"/><use href="#p" x="610" y="116"/><use href="#p" x="615" y="161"/><use href="#p" x="677" y="136"/><use href="#p" x="673" y="126"/><use href="#p" x="684" y="100"/><use href="#p" x="629" y="98"/><use href="#p" x="676" y="190"/><use href="#p" x="620" y="190"/><use href="#p" x="643" y="174"/><use href="#p" x="624" y="111"/><use href="#p" x="639" y="119"/><use href="#p" x="682" y="148"/><use href="#p" x="635" y="114"/><use href="#p" x="596" y="141"/><use href="#p" x="685" y="180"/><use href="#p" x="600" y="190"/><use href="#p" x="640" y="123"/><use href="#p" x="599" y="107"/><use href="#p" x="579" y="174"/><use href="#p" x="595" y="119"/><use href="#p" x="604" y="143"/><use href="#p" x="673" y="122"/><use href="#p" x="684" y="110"/><use href="#p" x="622" y="190"/><use href="#p" x="594" y="180"/><use href="#p" x="607" y="161"/><use href="#p" x="592" y="127"/><use href="#p" x="641" y="137"/><use href="#p" x="632" y="149"/><use href="#p" x="648" y="100"/><use href="#p" x="617" y="190"/><use href="#p" x="601" y="141"/><use href="#p" x="608" y="109"/><use href="#p" x="583" y="145"/><use href="#p" x="665" y="166"/><use href="#p" x="647" y="130"/><use href="#p" x="593" y="122"/><use href="#p" x="685" y="124"/><use href="#p" x="651" y="164"/><use href="#p" x="659" y="131"/><use href="#p" x="678" y="138"/><use href="#p" x="612" y="120"/><use href="#p" x="616" y="123"/><use href="#p" x="618" y="170"/><use href="#p" x="660" y="110"/><use href="#p" x="680" y="133"/><use href="#p" x="677" y="127"/><use href="#p" x="616" y="130"/><use href="#p" x="637" y="128"/><use href="#p" x="623" y="137"/><use href="#p" x="630" y="118"/><use href="#p" x="664" y="128"/><use href="#p" x="674" y="139"/><use href="#p" x="602" y="130"/><use href="#p" x="629" y="120"/><use href="#p" x="584" y="133"/><use href="#p" x="673" y="190"/><use href="#p" x="642" y="71"/><use href="#p" x="655" y="174"/><use href="#p" x="614" y="65"/><use href="#p" x="674" y="164"/><use href="#p" x="661" y="106"/><use href="#p" x="618" y="190"/><use href="#p" x="579" y="137"/><use href="#p" x="657" y="135"/><use href="#p" x="664" y="180"/><use href="#p" x="683" y="190"/><use href="#p" x="633" y="127"/><use href="#p" x="633" y="156"/><use href="#p" x="621" y="147"/><use href="#p" x="649" y="149"/><use href="#p" x="596" y="111"/><use href="#p" x="658" y="137"/><use href="#p" x="594" y="180"/><use href="#p" x="603" y="190"/><use href="#p" x="621" y="164"/><use href="#p" x="661" y="138"/><use href="#p" x="612" y="110"/><use href="#p" x="592" y="159"/><use href="#p" x="639" y="133"/><use href="#p" x="645" y="139"/><use href="#p" x="586" y="190"/><use href="#p" x="659" y="111"/><use href="#p" x="594" y="174"/><use href="#p" x="671" y="116"/><use href="#p" x="603" y="152"/><use href="#p" x="664" y="105"/><use href="#p" x="656" y="151"/><use href="#p" x="609" y="126"/><use href="#p" x="679" y="164"/><use href="#p" x="643" y="174"/><use href="#p" x="647" y="150"/><use href="#p" x="588" y="134"/><use href="#p" x="579" y="156"/><use href="#p" x="675" y="152"/><use href="#p" x="673" y="150"/><use href="#p" x="610" y="115"/><use href="#p" x="643" y="132"/><use href="#p" x="651" y="170"/><use href="#p" x="650" y="158"/><use href="#p" x="657" y="148"/><use href="#p" x="648" y="79"/><use href="#p" x="674" y="119"/><use href="#p" x="653" y="159"/><use href="#p" x="588" y="180"/><use href="#p" x="627" y="128"/><use href="#p" x="588" y="174"/><use href="#p" x="579" y="114"/><use href="#p" x="677" y="130"/><use href="#p" x="603" y="150"/><use href="#p" x="583" y="155"/><use href="#p" x="604" y="116"/><use href="#p" x="657" y="190"/><use href="#p" x="604" y="190"/><use href="#p" x="660" y="158"/><use href="#p" x="607" y="152"/><use href="#p" x="590" y="117"/><use href="#p" x="619" y="123"/><use href="#p" x="604" y="190"/><use href="#p" x="663" y="133"/><use href="#p" x="624" y="98"/><use href="#p" x="603" y="190"/><use href="#p" x="632" y="141"/><use href="#p" x="680" y="164"/><use href="#p" x="582" y="190"/><use href="#p" x="590" y="155"/><use href="#p" x="648" y="134"/><use href="#p" x="622" y="142"/><use href="#p" x="609" y="127"/><use href="#p" x="625" y="150"/><use href="#p" x="581" y="67"/><use href="#p" x="594" y="71"/><use href="#p" x="625" y="126"/><use href="#p" x="603" y="174"/><use href="#p" x="638" y="124"/><use href="#p" x="651" y="147"/><use href="#p" x="647" y="135"/><use href="#p" x="629" y="92"/><use href="#p" x="610" y="114"/><use href="#p" x="673" y="131"/><use href="#p" x="649" y="180"/><use href="#p" x="681" y="170"/><use href="#p" x="608" y="151"/><use href="#p" x="640" y="110"/><use href="#p" x="681" y="110"/><use href="#p" x="615" y="132"/><use href="#p" x="668" y="159"/><use href="#p" x="648" y="105"/><use href="#p" x="649" y="164"/><use href="#p" x="618" y="122"/><use href="#p" x="649" y="82"/><use href="#p" x="658" y="170"/><use href="#p" x="668" y="161"/><use href="#p" x="644" y="190"/><use href="#p" x="681" y="118"/><use href="#p" x="665" y="155"/><use href="#p" x="615" y="180"/><use href="#p" x="605" y="190"/><use href="#p" x="613" y="180"/><use href="#p" x="622" y="164"/><use href="#p" x="591" y="121"/><use href="#p" x="626" y="164"/><use href="#p" x="608" y="170"/><use href="#p" x="631" y="180"/><use href="#p" x="595" y="180"/><use href="#p" x="597" y="190"/><use href="#p" x="594" y="170"/><use href="#p" x="615" y="116"/><use href="#p" x="656" y="153"/><use href="#p" x="599" y="100"/><use href="#p" x="648" y="174"/><use href="#p" x="671" y="101"/><use href="#p" x="582" y="180"/><use href="#p" x="636" y="116"/><use href="#p" x="676" y="190"/><use href="#p" x="642" y="125"/><use href="#p" x="603" y="148"/><use href="#p" x="685" y="135"/><use href="#p" x="597" y="180"/><use href="#p" x="647" y="174"/><use href="#p" x="654" y="115"/><use href="#p" x="626" y="149"/><use href="#p" x="638" y="153"/><use href="#p" x="633" y="190"/><use href="#p" x="603" y="86"/><use href="#p" x="600" y="131"/><use href="#p" x="602" y="190"/><use href="#p" x="594" y="164"/><use href="#p" x="645" y="132"/><use href="#p" x="642" y="166"/><use href="#p" x="589" y="131"/><use href="#p" x="674" y="180"/><use href="#p" x="591" y="174"/><use href="#p" x="634" y="158"/><use href="#p" x="669" y="127"/><use href="#p" x="676" y="174"/><use href="#p" x="637" y="125"/><use href="#p" x="662" y="146"/><use href="#p" x="579" y="113"/><use href="#p" x="621" y="170"/><use href="#p" x="675" y="161"/><use href="#p" x="616" y="103"/><use href="#p" x="643" y="147"/><use href="#p" x="644" y="166"/><use href="#p" x="647" y="190"/><use href="#p" x="623" y="118"/><use href="#p" x="641" y="164"/><use href="#p" x="618" y="141"/><use href="#p" x="684" y="170"/><use href="#p" x="675" y="103"/><use href="#p" x="613" y="180"/><use href="#p" x="602" y="124"/><use href="#p" x="667" y="155"/><use href="#p" x="669" y="130"/><use href="#p" x="639" y="190"/><use href="#p" x="650" y="147"/><use href="#p" x="671" y="156"/><use href="#p" x="596" y="113"/><use href="#p" x="682" y="139"/><use href="#p" x="676" y="123"/><use href="#p" x="657" y="113"/><use href="#p" x="666" y="180"/><use href="#p" x="672" y="138"/><use href="#p" x="627" y="125"/><use href="#p" x="589" y="166"/><use href="#p" x="580" y="155"/><use href="#p" x="666" y="114"/><use href="#p" x="685" y="190"/><use href="#p" x="654" y="180"/><use href="#p" x="641" y="174"/><use href="#p" x="683" y="166"/><use href="#p" x="608" y="174"/><use href="#p" x="640" y="129"/><use href="#p" x="619" y="148"/><use href="#p" x="605" y="190"/><use href="#p" x="665" y="119"/><use href="#p" x="630" y="108"/><use href="#p" x="613" y="190"/><use href="#p" x="655" y="126"/><use href="#p" x="633" y="161"/><use href="#p" x="625" y="151"/><use href="#p" x="611" y="139"/><use href="#p" x="681" y="166"/><use href="#p" x="609" y="141"/><use href="#p" x="670" y="130"/><use href="#p" x="658" y="134"/><use href="#p" x="674" y="161"/><use href="#p" x="630" y="110"/><use href="#p" x="591" y="190"/><use href="#p" x="664" y="174"/><use href="#p" x="579" y="134"/><use href="#p" x="659" y="85"/><use href="#p" x="647" y="114"/><use href="#p" x="636" y="133"/><use href="#p" x="609" y="174"/><use href="#p" x="670" y="180"/><use href="#p" x="601" y="119"/><use href="#p" x="591" y="142"/><use href="#p" x="581" y="120"/><use href="#p" x="594" y="180"/><use href="#p" x="622" y="180"/><use href="#p" x="626" y="164"/><use href="#p" x="600" y="180"/><use href="#p" x="595" y="164"/><use href="#p" x="676" y="190"/><use href="#p" x="600" y="190"/><use href="#p" x="657" y="174"/><use href="#p" x="595" y="151"/><use href="#p" x="686" y="180"/><use href="#p" x="598" y="95"/><use href="#p" x="648" y="133"/><use href="#p" x="683" y="77"/><use href="#p" x="671" y="100"/><use href="#p" x="606" y="124"/><use href="#p" x="660" y="152"/><use href="#p" x="684" y="117"/><use href="#p" x="631" y="89"/><use href="#p" x="591" y="148"/><use href="#p" x="638" y="116"/><use href="#p" x="606" y="101"/><use href="#p" x="605" y="161"/><use href="#p" x="654" y="190"/><use href="#p" x="676" y="122"/><use href="#p" x="618" y="170"/><use href="#p" x="661" y="127"/><use href="#p" x="583" y="190"/><use href="#p" x="623" y="174"/><use href="#p" x="586" y="127"/><use href="#p" x="670" y="190"/><use href="#p" x="583" y="112"/><use href="#p" x="661" y="143"/><use href="#p" x="634" y="136"/><use href="#p" x="633" y="129"/><use href="#p" x="665" y="141"/><use href="#p" x="640" y="116"/><use href="#p" x="613" y="190"/><use href="#p" x="651" y="131"/><use href="#p" x="658" y="123"/><use href="#p" x="609" y="180"/><use href="#p" x="676" y="116"/><use href="#p" x="629" y="144"/><use href="#p" x="644" y="131"/><use href="#p" x="662" y="174"/><use href="#p" x="631" y="123"/><use href="#p" x="595" y="152"/><use href="#p" x="629" y="117"/><use href="#p" x="592" y="113"/><use href="#p" x="627" y="76"/><use href="#p" x="627" y="65"/><use href="#p" x="621" y="164"/><use href="#p" x="581" y="127"/><use href="#p" x="680" y="190"/><use href="#p" x="593" y="68"/><use href="#p" x="601" y="70"/><use href="#p" x="610" y="73"/><use href="#p" x="627" y="67"/><use href="#p" x="648" y="68"/><use href="#p" x="667" y="73"/><use href="#p" x="682" y="80"/><use href="#p" x="685" y="104"/><use href="#p" x="579" y="86"/>
<use href="#p" x="854" y="103"/><use href="#p" x="794" y="190"/><use href="#p" x="818" y="164"/><use href="#p" x="791" y="104"/><use href="#p" x="802" y="148"/><use href="#p" x="785" y="123"/><use href="#p" x="821" y="149"/><use href="#p" x="806" y="190"/><use href="#p" x="796" y="164"/><use href="#p" x="852" y="190"/><use href="#p" x="818" y="150"/><use href="#p" x="799" y="94"/><use href="#p" x="818" y="180"/><use href="#p" x="822" y="106"/><use href="#p" x="782" y="140"/><use href="#p" x="774" y="115"/><use href="#p" x="759" y="91"/><use href="#p" x="801" y="142"/><use href="#p" x="841" y="166"/><use href="#p" x="814" y="113"/><use href="#p" x="840" y="129"/><use href="#p" x="758" y="113"/><use href="#p" x="849" y="120"/><use href="#p" x="769" y="144"/><use href="#p" x="778" y="101"/><use href="#p" x="825" y="121"/><use href="#p" x="855" y="180"/><use href="#p" x="773" y="115"/><use href="#p" x="816" y="151"/><use href="#p" x="760" y="145"/><use href="#p" x="830" y="103"/><use href="#p" x="782" y="126"/><use href="#p" x="788" y="161"/><use href="#p" x="788" y="166"/><use href="#p" x="825" y="147"/><use href="#p" x="834" y="84"/><use href="#p" x="779" y="138"/><use href="#p" x="862" y="115"/><use href="#p" x="760" y="145"/><use href="#p" x="808" y="119"/><use href="#p" x="821" y="118"/><use href="#p" x="860" y="153"/><use href="#p" x="765" y="174"/><use href="#p" x="838" y="137"/><use href="#p" x="792" y="174"/><use href="#p" x="809" y="158"/><use href="#p" x="771" y="88"/><use href="#p" x="836" y="190"/><use href="#p" x="861" y="164"/><use href="#p" x="817" y="147"/><use href="#p" x="804" y="121"/><use href="#p" x="801" y="174"/><use href="#p" x="833" y="158"/><use href="#p" x="772" y="128"/><use href="#p" x="803" y="144"/><use href="#p" x="771" y="170"/><use href="#p" x="801" y="190"/><use href="#p" x="814" y="174"/><use href="#p" x="807" y="132"/><use href="#p" x="810" y="174"/><use href="#p" x="828" y="170"/><use href="#p" x="778" y="170"/><use href="#p" x="800" y="117"/><use href="#p" x="793" y="141"/><use href="#p" x="797" y="170"/><use href="#p" x="780" y="170"/><use href="#p" x="761" y="164"/><use href="#p" x="821" y="190"/><use href="#p" x="794" y="146"/><use href="#p" x="759" y="152"/><use href="#p" x="844" y="174"/><use href="#p" x="859" y="161"/><use href="#p" x="779" y="151"/><use href="#p" x="845" y="153"/><use href="#p" x="857" y="170"/><use href="#p" x="797" y="135"/><use href="#p" x="761" y="153"/><use href="#p" x="794" y="147"/><use href="#p" x="802" y="144"/><use href="#p" x="829" y="170"/><use href="#p" x="804" y="158"/><use href="#p" x="786" y="190"/><use href="#p" x="785" y="158"/><use href="#p" x="791" y="100"/><use href="#p" x="810" y="143"/><use href="#p" x="822" y="180"/><use href="#p" x="809" y="116"/><use href="#p" x="782" y="123"/><use href="#p" x="760" y="190"/><use href="#p" x="808" y="133"/><use href="#p" x="808" y="149"/><use href="#p" x="811" y="86"/><use href="#p" x="759" y="190"/><use href="#p" x="776" y="158"/><use href="#p" x="776" y="147"/><use href="#p" x="806" y="190"/><use href="#p" x="778" y="84"/><use href="#p" x="810" y="180"/><use href="#p" x="799" y="122"/><use href="#p" x="812" y="131"/><use href="#p" x="816" y="113"/><use href="#p" x="792" y="190"/><use href="#p" x="833" y="164"/><use href="#p" x="768" y="155"/><use href="#p" x="809" y="174"/><use href="#p" x="798" y="180"/><use href="#p" x="761" y="174"/><use href="#p" x="788" y="166"/><use href="#p" x="822" y="150"/><use href="#p" x="805" y="166"/><use href="#p" x="848" y="109"/><use href="#p" x="813" y="158"/><use href="#p" x="840" y="190"/><use href="#p" x="863" y="153"/><use href="#p" x="822" y="113"/><use href="#p" x="806" y="180"/><use href="#p" x="824" y="152"/><use href="#p" x="854" y="174"/><use href="#p" x="793" y="190"/><use href="#p" x="841" y="85"/><use href="#p" x="801" y="129"/><use href="#p" x="804" y="149"/><use href="#p" x="759" y="149"/><use href="#p" x="830" y="170"/><use href="#p" x="815" y="67"/><use href="#p" x="797" y="190"/><use href="#p" x="824" y="149"/><use href="#p" x="856" y="174"/><use href="#p" x="857" y="190"/><use href="#p" x="835" y="174"/><use href="#p" x="850" y="152"/><use href="#p" x="814" y="156"/><use href="#p" x="818" y="137"/><use href="#p" x="797" y="150"/><use href="#p" x="785" y="190"/><use href="#p" x="819" y="105"/><use href="#p" x="794" y="153"/><use href="#p" x="842" y="161"/><use href="#p" x="776" y="159"/><use href="#p" x="844" y="104"/><use href="#p" x="823" y="158"/><use href="#p" x="779" y="127"/><use href="#p" x="833" y="170"/><use href="#p" x="764" y="113"/><use href="#p" x="778" y="148"/><use href="#p" x="847" y="130"/><use href="#p" x="820" y="170"/><use href="#p" x="856" y="119"/><use href="#p" x="785" y="153"/><use href="#p" x="829" y="117"/><use href="#p" x="838" y="156"/><use href="#p" x="796" y="143"/><use href="#p" x="833" y="166"/><use href="#p" x="831" y="164"/><use href="#p" x="859" y="180"/><use href="#p" x="847" y="161"/><use href="#p" x="786" y="135"/><use href="#p" x="763" y="97"/><use href="#p" x="824" y="190"/><use href="#p" x="802" y="129"/><use href="#p" x="776" y="138"/><use href="#p" x="760" y="120"/><use href="#p" x="851" y="190"/><use href="#p" x="792" y="149"/><use href="#p" x="764" y="100"/><use href="#p" x="783" y="190"/><use href="#p" x="777" y="190"/><use href="#p" x="779" y="107"/><use href="#p" x="792" y="96"/><use href="#p" x="833" y="143"/><use href="#p" x="842" y="190"/><use href="#p" x="811" y="166"/><use href="#p" x="808" y="126"/><use href="#p" x="802" y="113"/><use href="#p" x="826" y="125"/><use href="#p" x="844" y="152"/><use href="#p" x="759" y="139"/><use href="#p" x="815" y="190"/><use href="#p" x="765" y="114"/><use href="#p" x="765" y="149"/><use href="#p" x="838" y="153"/><use href="#p" x="772" y="174"/><use href="#p" x="779" y="113"/><use href="#p" x="830" y="190"/><use href="#p" x="825" y="103"/><use href="#p" x="807" y="180"/><use href="#p" x="815" y="115"/><use href="#p" x="782" y="128"/><use href="#p" x="801" y="133"/><use href="#p" x="828" y="147"/><use href="#p" x="787" y="137"/><use href="#p" x="795" y="143"/><use href="#p" x="789" y="174"/><use href="#p" x="764" y="170"/><use href="#p" x="860" y="161"/><use href="#p" x="788" y="159"/><use href="#p" x="838" y="164"/><use href="#p" x="768" y="118"/><use href="#p" x="845" y="92"/><use href="#p" x="858" y="147"/><use href="#p" x="772" y="128"/><use href="#p" x="840" y="144"/><use href="#p" x="760" y="68"/><use href="#p" x="852" y="134"/><use href="#p" x="863" y="148"/><use href="#p" x="834" y="190"/><use href="#p" x="795" y="129"/><use href="#p" x="785" y="166"/><use href="#p" x="839" y="190"/><use href="#p" x="809" y="151"/><use href="#p" x="838" y="141"/><use href="#p" x="844" y="170"/><use href="#p" x="770" y="161"/><use href="#p" x="862" y="135"/><use href="#p" x="763" y="122"/><use href="#p" x="857" y="153"/><use href="#p" x="809" y="151"/><use href="#p" x="860" y="190"/><use href="#p" x="813" y="174"/><use href="#p" x="848" y="122"/><use href="#p" x="839" y="166"/><use href="#p" x="820" y="115"/><use href="#p" x="825" y="121"/><use href="#p" x="851" y="120"/><use href="#p" x="808" y="140"/><use href="#p" x="780" y="170"/><use href="#p" x="832" y="111"/><use href="#p" x="759" y="111"/><use href="#p" x="856" y="98"/><use href="#p" x="820" y="125"/><use href="#p" x="858" y="159"/><use href="#p" x="762" y="136"/><use href="#p" x="840" y="141"/><use href="#p" x="820" y="143"/><use href="#p" x="761" y="144"/><use href="#p" x="788" y="144"/><use href="#p" x="762" y="190"/><use href="#p" x="803" y="161"/><use href="#p" x="825" y="170"/><use href="#p" x="774" y="180"/><use href="#p" x="802" y="190"/><use href="#p" x="826" y="140"/><use href="#p" x="787" y="174"/><use href="#p" x="815" y="151"/><use href="#p" x="763" y="119"/><use href="#p" x="798" y="131"/><use href="#p" x="767" y="164"/><use href="#p" x="777" y="119"/><use href="#p" x="761" y="130"/><use href="#p" x="802" y="170"/><use href="#p" x="789" y="136"/><use href="#p" x="762" y="118"/><use href="#p" x="810" y="143"/><use href="#p" x="777" y="174"/><use href="#p" x="812" y="190"/><use href="#p" x="793" y="170"/><use href="#p" x="837" y="180"/><use href="#p" x="824" y="174"/><use href="#p" x="831" y="161"/><use href="#p" x="807" y="164"/><use href="#p" x="835" y="147"/><use href="#p" x="797" y="113"/><use href="#p" x="829" y="133"/><use href="#p" x="859" y="170"/><use href="#p" x="856" y="151"/><use href="#p" x="857" y="143"/><use href="#p" x="761" y="190"/><use href="#p" x="808" y="161"/><use href="#p" x="758" y="122"/><use href="#p" x="853" y="103"/><use href="#p" x="825" y="170"/><use href="#p" x="784" y="147"/><use href="#p" x="834" y="180"/><use href="#p" x="856" y="119"/><use href="#p" x="770" y="180"/><use href="#p" x="777" y="98"/><use href="#p" x="780" y="127"/><use href="#p" x="848" y="166"/><use href="#p" x="846" y="174"/><use href="#p" x="824" y="92"/><use href="#p" x="817" y="166"/><use href="#p" x="864" y="70"/><use href="#p" x="856" y="126"/><use href="#p" x="759" y="140"/><use href="#p" x="767" y="114"/><use href="#p" x="780" y="128"/><use href="#p" x="779" y="121"/><use href="#p" x="772" y="170"/><use href="#p" x="789" y="159"/><use href="#p" x="827" y="161"/><use href="#p" x="806" y="134"/><use href="#p" x="827" y="123"/><use href="#p" x="782" y="145"/><use href="#p" x="760" y="121"/><use href="#p" x="862" y="180"/><use href="#p" x="844" y="153"/><use href="#p" x="776" y="161"/><use href="#p" x="838" y="138"/><use href="#p" x="817" y="159"/><use href="#p" x="817" y="121"/><use href="#p" x="834" y="126"/><use href="#p" x="759" y="86"/><use href="#p" x="773" y="142"/><use href="#p" x="788" y="139"/><use href="#p" x="770" y="125"/><use href="#p" x="835" y="103"/><use href="#p" x="863" y="146"/><use href="#p" x="843" y="170"/><use href="#p" x="833" y="144"/><use href="#p" x="788" y="129"/><use href="#p" x="832" y="174"/><use href="#p" x="857" y="161"/><use href="#p" x="815" y="108"/><use href="#p" x="775" y="156"/><use href="#p" x="771" y="113"/><use href="#p" x="825" y="92"/><use href="#p" x="825" y="146"/><use href="#p" x="766" y="190"/><use href="#p" x="816" y="131"/><use href="#p" x="850" y="133"/><use href="#p" x="796" y="132"/><use href="#p" x="820" y="116"/><use href="#p" x="799" y="190"/><use href="#p" x="783" y="106"/><use href="#p" x="768" y="142"/><use href="#p" x="818" y="112"/><use href="#p" x="822" y="156"/><use href="#p" x="817" y="164"/><use href="#p" x="785" y="131"/><use href="#p" x="772" y="138"/><use href="#p" x="771" y="164"/><use href="#p" x="853" y="150"/><use href="#p" x="798" y="139"/><use href="#p" x="859" y="166"/><use href="#p" x="773" y="147"/><use href="#p" x="801" y="190"/><use href="#p" x="796" y="156"/><use href="#p" x="765" y="138"/><use href="#p" x="852" y="116"/><use href="#p" x="796" y="180"/><use href="#p" x="833" y="190"/><use href="#p" x="793" y="124"/><use href="#p" x="776" y="145"/><use href="#p" x="784" y="91"/><use href="#p" x="795" y="123"/><use href="#p" x="852" y="148"/><use href="#p" x="811" y="152"/><use href="#p" x="794" y="158"/><use href="#p" x="813" y="156"/><use href="#p" x="784" y="174"/><use href="#p" x="839" y="148"/><use href="#p" x="797" y="125"/><use href="#p" x="801" y="122"/><use href="#p" x="784" y="153"/><use href="#p" x="814" y="159"/><use href="#p" x="823" y="118"/><use href="#p" x="772" y="174"/><use href="#p" x="785" y="103"/><use href="#p" x="843" y="102"/><use href="#p" x="833" y="190"/><use href="#p" x="834" y="166"/><use href="#p" x="784" y="190"/><use href="#p" x="799" y="121"/><use href="#p" x="758" y="148"/><use href="#p" x="852" y="138"/><use href="#p" x="784" y="174"/><use href="#p" x="799" y="116"/><use href="#p" x="800" y="180"/><use href="#p" x="780" y="123"/><use href="#p" x="842" y="166"/><use href="#p" x="811" y="174"/><use href="#p" x="775" y="174"/><use href="#p" x="797" y="164"/><use href="#p" x="760" y="190"/><use href="#p" x="832" y="133"/><use href="#p" x="801" y="128"/><use href="#p" x="836" y="139"/><use href="#p" x="838" y="115"/><use href="#p" x="794" y="170"/><use href="#p" x="783" y="141"/><use href="#p" x="823" y="88"/><use href="#p" x="773" y="116"/><use href="#p" x="797" y="180"/><use href="#p" x="780" y="130"/><use href="#p" x="770" y="119"/><use href="#p" x="797" y="102"/><use href="#p" x="822" y="121"/><use href="#p" x="832" y="170"/><use href="#p" x="797" y="96"/><use href="#p" x="768" y="156"/><use href="#p" x="797" y="170"/><use href="#p" x="827" y="150"/><use href="#p" x="793" y="156"/><use href="#p" x="802" y="122"/><use href="#p" x="765" y="170"/><use href="#p" x="842" y="127"/><use href="#p" x="781" y="125"/><use href="#p" x="802" y="190"/><use href="#p" x="790" y="158"/><use href="#p" x="789" y="180"/><use href="#p" x="777" y="129"/><use href="#p" x="788" y="156"/><use href="#p" x="844" y="107"/><use href="#p" x="798" y="143"/><use href="#p" x="826" y="115"/><use href="#p" x="804" y="180"/><use href="#p" x="785" y="159"/><use href="#p" x="826" y="164"/><use href="#p" x="797" y="138"/><use href="#p" x="766" y="148"/><use href="#p" x="774" y="110"/><use href="#p" x="784" y="156"/><use href="#p" x="789" y="122"/><use href="#p" x="778" y="106"/><use href="#p" x="798" y="95"/><use href="#p" x="800" y="174"/><use href="#p" x="798" y="170"/><use href="#p" x="788" y="190"/><use href="#p" x="832" y="90"/><use href="#p" x="773" y="147"/><use href="#p" x="849" y="148"/><use href="#p" x="822" y="126"/><use href="#p" x="850" y="137"/><use href="#p" x="812" y="118"/><use href="#p" x="812" y="140"/><use href="#p" x="851" y="137"/><use href="#p" x="845" y="143"/><use href="#p" x="781" y="88"/><use href="#p" x="864" y="190"/><use href="#p" x="784" y="133"/><use href="#p" x="816" y="170"/><use href="#p" x="760" y="96"/><use href="#p" x="800" y="161"/><use href="#p" x="767" y="180"/><use href="#p" x="785" y="88"/><use href="#p" x="806" y="180"/><use href="#p" x="782" y="122"/><use href="#p" x="860" y="159"/><use href="#p" x="802" y="190"/><use href="#p" x="828" y="156"/><use href="#p" x="773" y="190"/><use href="#p" x="764" y="151"/><use href="#p" x="798" y="158"/><use href="#p" x="860" y="190"/><use href="#p" x="864" y="180"/><use href="#p" x="775" y="119"/><use href="#p" x="844" y="82"/><use href="#p" x="857" y="152"/><use href="#p" x="837" y="136"/><use href="#p" x="852" y="144"/><use href="#p" x="820" y="125"/><use href="#p" x="774" y="127"/><use href="#p" x="788" y="140"/><use href="#p" x="814" y="112"/><use href="#p" x="817" y="180"/><use href="#p" x="779" y="150"/><use href="#p" x="832" y="137"/><use href="#p" x="833" y="113"/><use href="#p" x="830" y="143"/><use href="#p" x="846" y="118"/><use href="#p" x="847" y="190"/><use href="#p" x="775" y="140"/><use href="#p" x="806" y="170"/><use href="#p" x="861" y="174"/><use href="#p" x="797" y="112"/><use href="#p" x="841" y="180"/><use href="#p" x="839" y="190"/><use href="#p" x="825" y="145"/><use href="#p" x="863" y="112"/><use href="#p" x="782" y="159"/><use href="#p" x="859" y="95"/><use href="#p" x="838" y="190"/><use href="#p" x="857" y="180"/><use href="#p" x="780" y="174"/><use href="#p" x="758" y="144"/><use href="#p" x="758" y="170"/><use href="#p" x="774" y="135"/><use href="#p" x="827" y="155"/><use href="#p" x="782" y="139"/><use href="#p" x="791" y="155"/><use href="#p" x="764" y="159"/><use href="#p" x="813" y="138"/><use href="#p" x="846" y="150"/><use href="#p" x="817" y="109"/><use href="#p" x="849" y="190"/><use href="#p" x="836" y="145"/><use href="#p" x="799" y="155"/><use href="#p" x="815" y="102"/><use href="#p" x="769" y="106"/><use href="#p" x="841" y="170"/><use href="#p" x="765" y="125"/><use href="#p" x="796" y="170"/><use href="#p" x="841" y="164"/><use href="#p" x="823" y="190"/><use href="#p" x="833" y="119"/><use href="#p" x="788" y="159"/><use href="#p" x="830" y="164"/><use href="#p" x="777" y="150"/><use href="#p" x="789" y="127"/><use href="#p" x="805" y="151"/><use href="#p" x="783" y="190"/><use href="#p" x="780" y="170"/><use href="#p" x="787" y="122"/><use href="#p" x="820" y="180"/><use href="#p" x="863" y="104"/><use href="#p" x="800" y="142"/><use href="#p" x="824" y="150"/><use href="#p" x="760" y="110"/><use href="#p" x="818" y="126"/><use href="#p" x="783" y="124"/><use href="#p" x="785" y="174"/><use href="#p" x="855" y="190"/><use href="#p" x="760" y="132"/><use href="#p" x="761" y="164"/><use href="#p" x="818" y="161"/><use href="#p" x="825" y="119"/><use href="#p" x="802" y="170"/><use href="#p" x="788" y="180"/><use href="#p" x="770" y="129"/><use href="#p" x="819" y="117"/><use href="#p" x="819" y="121"/><use href="#p" x="847" y="164"/><use href="#p" x="782" y="127"/><use href="#p" x="856" y="124"/><use href="#p" x="835" y="174"/><use href="#p" x="856" y="133"/><use href="#p" x="784" y="101"/><use href="#p" x="773" y="166"/><use href="#p" x="807" y="123"/><use href="#p" x="759" y="114"/><use href="#p" x="838" y="164"/><use href="#p" x="859" y="119"/><use href="#p" x="789" y="156"/><use href="#p" x="804" y="143"/><use href="#p" x="810" y="121"/><use href="#p" x="839" y="136"/><use href="#p" x="829" y="170"/><use href="#p" x="832" y="166"/><use href="#p" x="818" y="147"/><use href="#p" x="814" y="170"/><use href="#p" x="862" y="130"/><use href="#p" x="856" y="102"/><use href="#p" x="764" y="180"/><use href="#p" x="811" y="159"/><use href="#p" x="772" y="151"/><use href="#p" x="787" y="124"/><use href="#p" x="827" y="174"/><use href="#p" x="836" y="137"/><use href="#p" x="848" y="91"/><use href="#p" x="859" y="132"/><use href="#p" x="792" y="138"/><use href="#p" x="761" y="133"/><use href="#p" x="762" y="132"/><use href="#p" x="853" y="170"/><use href="#p" x="808" y="122"/><use href="#p" x="849" y="132"/><use href="#p" x="783" y="148"/><use href="#p" x="803" y="180"/><use href="#p" x="863" y="155"/><use href="#p" x="761" y="131"/><use href="#p" x="811" y="170"/><use href="#p" x="836" y="151"/><use href="#p" x="832" y="142"/><use href="#p" x="846" y="180"/><use href="#p" x="809" y="174"/><use href="#p" x="790" y="190"/><use href="#p" x="861" y="159"/><use href="#p" x="838" y="190"/><use href="#p" x="815" y="96"/><use href="#p" x="795" y="84"/><use href="#p" x="853" y="190"/><use href="#p" x="773" y="136"/><use href="#p" x="839" y="136"/><use href="#p" x="853" y="150"/><use href="#p" x="766" y="164"/><use href="#p" x="762" y="158"/><use href="#p" x="828" y="174"/><use href="#p" x="856" y="143"/><use href="#p" x="813" y="164"/><use href="#p" x="787" y="125"/><use href="#p" x="832" y="190"/><use href="#p" x="826" y="106"/><use href="#p" x="841" y="122"/><use href="#p" x="842" y="116"/><use href="#p" x="787" y="105"/><use href="#p" x="834" y="156"/><use href="#p" x="768" y="126"/><use href="#p" x="782" y="149"/><use href="#p" x="777" y="180"/><use href="#p" x="776" y="131"/><use href="#p" x="834" y="74"/><use href="#p" x="855" y="115"/><use href="#p" x="801" y="166"/><use href="#p" x="784" y="134"/><use href="#p" x="810" y="164"/><use href="#p" x="799" y="180"/><use href="#p" x="775" y="180"/><use href="#p" x="760" y="180"/><use href="#p" x="795" y="118"/><use href="#p" x="771" y="126"/><use href="#p" x="790" y="174"/><use href="#p" x="805" y="147"/><use href="#p" x="789" y="170"/><use href="#p" x="786" y="122"/><use href="#p" x="770" y="164"/><use href="#p" x="843" y="100"/><use href="#p" x="842" y="118"/><use href="#p" x="796" y="170"/><use href="#p" x="846" y="190"/><use href="#p" x="862" y="174"/><use href="#p" x="803" y="146"/><use href="#p" x="771" y="180"/><use href="#p" x="805" y="159"/><use href="#p" x="850" y="112"/><use href="#p" x="784" y="140"/><use href="#p" x="794" y="164"/><use href="#p" x="816" y="180"/><use href="#p" x="831" y="170"/><use href="#p" x="759" y="159"/><use href="#p" x="770" y="100"/><use href="#p" x="775" y="164"/><use href="#p" x="823" y="190"/><use href="#p" x="852" y="125"/><use href="#p" x="817" y="166"/><use href="#p" x="812" y="166"/><use href="#p" x="764" y="151"/><use href="#p" x="773" y="142"/><use href="#p" x="767" y="190"/><use href="#p" x="776" y="128"/><use href="#p" x="859" y="156"/><use href="#p" x="760" y="132"/><use href="#p" x="764" y="152"/><use href="#p" x="855" y="190"/><use href="#p" x="840" y="110"/><use href="#p" x="763" y="180"/><use href="#p" x="828" y="180"/><use href="#p" x="822" y="174"/><use href="#p" x="821" y="94"/><use href="#p" x="778" y="134"/><use href="#p" x="786" y="136"/><use href="#p" x="858" y="131"/><use href="#p" x="843" y="150"/><use href="#p" x="861" y="140"/><use href="#p" x="811" y="114"/><use href="#p" x="815" y="159"/><use href="#p" x="763" y="146"/><use href="#p" x="791" y="147"/><use href="#p" x="767" y="190"/><use href="#p" x="820" y="170"/><use href="#p" x="849" y="133"/><use href="#p" x="850" y="86"/><use href="#p" x="791" y="164"/><use href="#p" x="863" y="102"/><use href="#p" x="855" y="127"/><use href="#p" x="835" y="136"/><use href="#p" x="805" y="113"/><use href="#p" x="863" y="134"/><use href="#p" x="791" y="190"/><use href="#p" x="852" y="130"/><use href="#p" x="769" y="109"/><use href="#p" x="850" y="180"/><use href="#p" x="851" y="137"/><use href="#p" x="768" y="180"/><use href="#p" x="820" y="119"/><use href="#p" x="817" y="149"/><use href="#p" x="812" y="161"/><use href="#p" x="834" y="174"/><use href="#p" x="816" y="105"/><use href="#p" x="771" y="156"/><use href="#p" x="847" y="155"/><use href="#p" x="854" y="73"/><use href="#p" x="790" y="152"/><use href="#p" x="761" y="93"/><use href="#p" x="839" y="132"/><use href="#p" x="820" y="190"/><use href="#p" x="806" y="132"/><use href="#p" x="833" y="180"/><use href="#p" x="820" y="159"/><use href="#p" x="830" y="120"/><use href="#p" x="816" y="139"/><use href="#p" x="781" y="149"/><use href="#p" x="796" y="109"/><use href="#p" x="844" y="152"/><use href="#p" x="836" y="159"/><use href="#p" x="819" y="161"/><use href="#p" x="825" y="190"/><use href="#p" x="784" y="164"/><use href="#p" x="850" y="99"/><use href="#p" x="788" y="161"/><use href="#p" x="794" y="174"/><use href="#p" x="806" y="166"/><use href="#p" x="850" y="170"/><use href="#p" x="862" y="180"/><use href="#p" x="805" y="174"/><use href="#p" x="786" y="166"/><use href="#p" x="786" y="118"/><use href="#p" x="818" y="101"/><use href="#p" x="799" y="150"/><use href="#p" x="821" y="117"/><use href="#p" x="844" y="78"/><use href="#p" x="784" y="190"/><use href="#p" x="806" y="120"/><use href="#p" x="778" y="138"/><use href="#p" x="761" y="190"/><use href="#p" x="780" y="147"/><use href="#p" x="834" y="158"/><use href="#p" x="823" y="134"/><use href="#p" x="844" y="148"/><use href="#p" x="859" y="146"/><use href="#p" x="775" y="109"/><use href="#p" x="818" y="134"/><use href="#p" x="773" y="164"/><use href="#p" x="841" y="88"/><use href="#p" x="770" y="112"/><use href="#p" x="854" y="174"/><use href="#p" x="788" y="109"/><use href="#p" x="773" y="190"/><use href="#p" x="785" y="180"/><use href="#p" x="830" y="129"/><use href="#p" x="763" y="134"/><use href="#p" x="762" y="180"/><use href="#p" x="787" y="103"/><use href="#p" x="855" y="161"/><use href="#p" x="776" y="180"/><use href="#p" x="762" y="122"/><use href="#p" x="830" y="136"/><use href="#p" x="853" y="190"/><use href="#p" x="844" y="115"/><use href="#p" x="859" y="105"/><use href="#p" x="818" y="142"/><use href="#p" x="760" y="127"/><use href="#p" x="791" y="170"/><use href="#p" x="803" y="108"/><use href="#p" x="834" y="190"/><use href="#p" x="787" y="140"/><use href="#p" x="851" y="130"/><use href="#p" x="767" y="119"/><use href="#p" x="796" y="166"/><use href="#p" x="783" y="180"/><use href="#p" x="769" y="101"/><use href="#p" x="771" y="116"/><use href="#p" x="773" y="118"/><use href="#p" x="789" y="138"/><use href="#p" x="815" y="164"/><use href="#p" x="812" y="156"/><use href="#p" x="825" y="170"/><use href="#p" x="841" y="120"/><use href="#p" x="842" y="190"/><use href="#p" x="822" y="126"/><use href="#p" x="771" y="140"/><use href="#p" x="816" y="82"/><use href="#p" x="809" y="156"/><use href="#p" x="812" y="190"/><use href="#p" x="815" y="125"/><use href="#p" x="808" y="155"/><use href="#p" x="800" y="129"/><use href="#p" x="781" y="124"/><use href="#p" x="800" y="166"/><use href="#p" x="850" y="96"/><use href="#p" x="798" y="105"/><use href="#p" x="842" y="138"/><use href="#p" x="768" y="109"/><use href="#p" x="771" y="125"/><use href="#p" x="772" y="190"/><use href="#p" x="837" y="180"/><use href="#p" x="787" y="190"/><use href="#p" x="802" y="153"/><use href="#p" x="844" y="94"/><use href="#p" x="779" y="190"/><use href="#p" x="766" y="112"/><use href="#p" x="778" y="121"/><use href="#p" x="849" y="151"/><use href="#p" x="783" y="136"/><use href="#p" x="832" y="116"/><use href="#p" x="820" y="153"/><use href="#p" x="790" y="123"/><use href="#p" x="765" y="116"/><use href="#p" x="844" y="113"/><use href="#p" x="836" y="116"/><use href="#p" x="845" y="128"/><use href="#p" x="771" y="153"/><use href="#p" x="819" y="144"/><use href="#p" x="813" y="112"/><use href="#p" x="770" y="113"/><use href="#p" x="825" y="148"/><use href="#p" x="760" y="137"/><use href="#p" x="807" y="190"/><use href="#p" x="846" y="116"/><use href="#p" x="791" y="110"/><use href="#p" x="786" y="161"/><use href="#p" x="805" y="150"/><use href="#p" x="795" y="190"/><use href="#p" x="836" y="138"/><use href="#p" x="804" y="100"/><use href="#p" x="844" y="150"/><use href="#p" x="801" y="161"/><use href="#p" x="796" y="190"/><use href="#p" x="830" y="148"/><use href="#p" x="847" y="129"/><use href="#p" x="819" y="127"/><use href="#p" x="794" y="89"/><use href="#p" x="831" y="190"/><use href="#p" x="785" y="150"/><use href="#p" x="805" y="144"/><use href="#p" x="770" y="142"/><use href="#p" x="795" y="190"/><use href="#p" x="855" y="106"/><use href="#p" x="818" y="190"/><use href="#p" x="801" y="161"/><use href="#p" x="859" y="190"/><use href="#p" x="863" y="161"/><use href="#p" x="765" y="152"/><use href="#p" x="811" y="147"/><use href="#p" x="781" y="139"/><use href="#p" x="785" y="190"/><use href="#p" x="845" y="180"/><use href="#p" x="787" y="180"/><use href="#p" x="852" y="132"/><use href="#p" x="769" y="180"/><use href="#p" x="843" y="174"/><use href="#p" x="861" y="137"/><use href="#p" x="822" y="180"/><use href="#p" x="852" y="120"/><use href="#p" x="802" y="116"/><use href="#p" x="795" y="156"/><use href="#p" x="834" y="190"/><use href="#p" x="860" y="159"/><use href="#p" x="855" y="180"/><use href="#p" x="862" y="150"/><use href="#p" x="822" y="190"/><use href="#p" x="856" y="131"/><use href="#p" x="851" y="164"/><use href="#p" x="782" y="174"/><use href="#p" x="799" y="180"/><use href="#p" x="785" y="115"/><use href="#p" x="826" y="156"/><use href="#p" x="838" y="190"/><use href="#p" x="791" y="190"/><use href="#p" x="833" y="170"/><use href="#p" x="839" y="108"/><use href="#p" x="775" y="138"/><use href="#p" x="858" y="155"/><use href="#p" x="758" y="134"/><use href="#p" x="824" y="125"/><use href="#p" x="784" y="170"/><use href="#p" x="789" y="174"/><use href="#p" x="837" y="161"/><use href="#p" x="831" y="109"/><use href="#p" x="788" y="146"/><use href="#p" x="759" y="115"/><use href="#p" x="839" y="150"/><use href="#p" x="775" y="121"/><use href="#p" x="821" y="142"/><use href="#p" x="806" y="174"/><use href="#p" x="814" y="190"/><use href="#p" x="820" y="135"/><use href="#p" x="776" y="118"/><use href="#p" x="848" y="123"/><use href="#p" x="814" y="190"/><use href="#p" x="800" y="190"/><use href="#p" x="844" y="123"/><use href="#p" x="795" y="153"/><use href="#p" x="861" y="92"/><use href="#p" x="812" y="180"/><use href="#p" x="762" y="166"/><use href="#p" x="805" y="144"/><use href="#p" x="791" y="109"/><use href="#p" x="831" y="126"/><use href="#p" x="852" y="132"/><use href="#p" x="824" y="143"/><use href="#p" x="764" y="106"/><use href="#p" x="847" y="174"/><use href="#p" x="858" y="121"/><use href="#p" x="858" y="107"/><use href="#p" x="801" y="153"/><use href="#p" x="768" y="190"/><use href="#p" x="781" y="190"/><use href="#p" x="824" y="174"/><use href="#p" x="799" y="153"/><use href="#p" x="767" y="180"/><use href="#p" x="843" y="112"/><use href="#p" x="832" y="124"/><use href="#p" x="798" y="190"/><use href="#p" x="785" y="112"/><use href="#p" x="794" y="155"/><use href="#p" x="837" y="166"/><use href="#p" x="787" y="166"/><use href="#p" x="857" y="190"/><use href="#p" x="825" y="126"/><use href="#p" x="761" y="120"/><use href="#p" x="818" y="124"/><use href="#p" x="807" y="141"/><use href="#p" x="850" y="190"/><use href="#p" x="861" y="122"/><use href="#p" x="857" y="91"/><use href="#p" x="836" y="164"/><use href="#p" x="843" y="158"/><use href="#p" x="807" y="145"/><use href="#p" x="824" y="174"/><use href="#p" x="839" y="114"/><use href="#p" x="772" y="180"/><use href="#p" x="843" y="174"/><use href="#p" x="865" y="132"/><use href="#p" x="778" y="174"/><use href="#p" x="836" y="180"/><use href="#p" x="812" y="190"/><use href="#p" x="856" y="164"/><use href="#p" x="846" y="156"/><use href="#p" x="856" y="135"/><use href="#p" x="763" y="174"/><use href="#p" x="785" y="180"/><use href="#p" x="768" y="135"/><use href="#p" x="824" y="174"/><use href="#p" x="777" y="170"/><use href="#p" x="849" y="190"/><use href="#p" x="796" y="190"/><use href="#p" x="857" y="190"/><use href="#p" x="793" y="138"/><use href="#p" x="835" y="155"/><use href="#p" x="805" y="159"/><use href="#p" x="836" y="180"/><use href="#p" x="860" y="166"/><use href="#p" x="853" y="101"/><use href="#p" x="770" y="166"/><use href="#p" x="764" y="164"/><use href="#p" x="786" y="190"/><use href="#p" x="799" y="174"/><use href="#p" x="854" y="139"/><use href="#p" x="864" y="190"/><use href="#p" x="759" y="107"/><use href="#p" x="782" y="180"/><use href="#p" x="808" y="114"/><use href="#p" x="769" y="133"/><use href="#p" x="781" y="180"/><use href="#p" x="798" y="170"/><use href="#p" x="864" y="115"/><use href="#p" x="770" y="174"/><use href="#p" x="785" y="152"/><use href="#p" x="769" y="153"/><use href="#p" x="834" y="126"/><use href="#p" x="786" y="130"/><use href="#p" x="804" y="155"/><use href="#p" x="849" y="190"/><use href="#p" x="835" y="122"/><use href="#p" x="862" y="114"/><use href="#p" x="841" y="126"/><use href="#p" x="826" y="120"/><use href="#p" x="787" y="134"/><use href="#p" x="784" y="136"/><use href="#p" x="772" y="180"/><use href="#p" x="766" y="190"/><use href="#p" x="833" y="180"/><use href="#p" x="822" y="148"/><use href="#p" x="760" y="164"/><use href="#p" x="784" y="180"/><use href="#p" x="862" y="190"/><use href="#p" x="855" y="110"/><use href="#p" x="838" y="159"/><use href="#p" x="768" y="190"/><use href="#p" x="765" y="121"/><use href="#p" x="831" y="164"/><use href="#p" x="766" y="141"/><use href="#p" x="767" y="190"/><use href="#p" x="759" y="121"/><use href="#p" x="772" y="148"/><use href="#p" x="820" y="138"/><use href="#p" x="807" y="137"/><use href="#p" x="865" y="155"/><use href="#p" x="765" y="190"/><use href="#p" x="832" y="128"/><use href="#p" x="833" y="120"/><use href="#p" x="865" y="97"/><use href="#p" x="831" y="134"/><use href="#p" x="829" y="136"/><use href="#p" x="855" y="130"/><use href="#p" x="812" y="136"/><use href="#p" x="818" y="91"/><use href="#p" x="859" y="119"/><use href="#p" x="807" y="152"/><use href="#p" x="852" y="148"/><use href="#p" x="813" y="151"/><use href="#p" x="805" y="155"/><use href="#p" x="764" y="170"/><use href="#p" x="803" y="141"/><use href="#p" x="840" y="121"/><use href="#p" x="763" y="155"/><use href="#p" x="845" y="180"/><use href="#p" x="858" y="114"/><use href="#p" x="797" y="147"/><use href="#p" x="758" y="120"/><use href="#p" x="764" y="190"/><use href="#p" x="807" y="149"/><use href="#p" x="846" y="161"/><use href="#p" x="846" y="121"/><use href="#p" x="826" y="145"/><use href="#p" x="825" y="159"/><use href="#p" x="859" y="190"/><use href="#p" x="823" y="122"/><use href="#p" x="828" y="125"/><use href="#p" x="852" y="190"/><use href="#p" x="760" y="133"/><use href="#p" x="837" y="151"/><use href="#p" x="800" y="174"/><use href="#p" x="807" y="161"/><use href="#p" x="823" y="161"/><use href="#p" x="807" y="190"/><use href="#p" x="811" y="111"/><use href="#p" x="781" y="164"/><use href="#p" x="803" y="180"/><use href="#p" x="776" y="174"/><use href="#p" x="861" y="174"/><use href="#p" x="826" y="142"/><use href="#p" x="796" y="118"/><use href="#p" x="826" y="180"/><use href="#p" x="818" y="166"/><use href="#p" x="861" y="138"/><use href="#p" x="811" y="190"/><use href="#p" x="829" y="130"/><use href="#p" x="839" y="170"/><use href="#p" x="787" y="121"/><use href="#p" x="774" y="110"/><use href="#p" x="802" y="155"/><use href="#p" x="759" y="180"/><use href="#p" x="844" y="139"/><use href="#p" x="776" y="72"/><use href="#p" x="776" y="121"/><use href="#p" x="837" y="174"/><use href="#p" x="782" y="180"/><use href="#p" x="787" y="139"/><use href="#p" x="855" y="174"/><use href="#p" x="760" y="166"/><use href="#p" x="801" y="128"/><use href="#p" x="829" y="174"/><use href="#p" x="794" y="174"/><use href="#p" x="795" y="161"/><use href="#p" x="779" y="190"/><use href="#p" x="860" y="128"/><use href="#p" x="818" y="151"/><use href="#p" x="836" y="149"/><use href="#p" x="864" y="134"/><use href="#p" x="834" y="142"/><use href="#p" x="760" y="77"/><use href="#p" x="859" y="75"/><use href="#p" x="857" y="83"/><use href="#p" x="814" y="68"/><use href="#p" x="801" y="73"/><use href="#p" x="787" y="79"/>
<path d="M524 14h396v1.1h-396zM524 14h1.1v183h-1.1zM918.1 14h1.9v183h-1.9zM524 59h396v2h-396zM524 195h396v2h-396z" fill="#333333"/>
<text x="646.7" y="46.4" font-size="23.47" fill="#1A1A1A" textLength="150.1" lengthAdjust="spacingAndGlyphs">__Clostridiales</text>
</g>
<g>
<rect x="934" y="14" width="396" height="46" fill="#D9D9D9"/>
<path d="M935 15h393v1h-392v43h-1z" fill="#E4E4E4"/>
<path d="M934 71h396v1h-396zM934 105h396v1h-396zM934 139h396v1h-396zM934 173h396v1h-396zM934 87h396v2h-396zM934 121h396v2h-396zM934 155h396v2h-396zM934 189h396v2h-396zM1041 60h2v137h-2zM1220 60h2v137h-2z" fill="#EBEBEB"/>
<path d="M1028.21 115.24 L1026.19 116.19 L1024.26 117.13 L1022.41 118.08 L1020.58 119.03 L1018.86 119.97 L1017.31 120.92 L1015.97 121.87 L1014.72 122.81 L1013.56 123.76 L1012.48 124.71 L1011.47 125.65 L1010.53 126.6 L1009.65 127.55 L1008.83 128.49 L1008.07 129.44 L1007.35 130.39 L1006.68 131.34 L1006.03 132.28 L1005.4 133.23 L1004.8 134.18 L1004.2 135.12 L1003.6 136.07 L1002.99 137.02 L1002.37 137.96 L1001.73 138.91 L1001.07 139.86 L1000.39 140.8 L999.7 141.75 L999.02 142.7 L998.35 143.65 L997.69 144.59 L997.07 145.54 L996.48 146.49 L995.93 147.43 L995.44 148.38 L994.99 149.33 L994.57 150.27 L994.18 151.22 L993.81 152.17 L993.46 153.11 L993.11 154.06 L992.76 155.01 L992.41 155.96 L992.05 156.9 L991.72 157.85 L991.41 158.8 L991.1 159.74 L990.77 160.69 L990.4 161.64 L989.98 162.58 L989.48 163.53 L988.89 164.48 L988.2 165.42 L987.38 166.37 L986.4 167.32 L985.19 168.27 L983.21 169.21 L980.68 170.16 L978.06 171.11 L975.8 172.05 L973.87 173 L971.97 173.95 L970.14 174.89 L968.42 175.84 L966.84 176.79 L965.44 177.73 L964.27 178.68 L963.13 179.63 L962.05 180.58 L961.21 181.52 L960.79 182.47 L960.92 183.42 L961.45 184.36 L962.19 185.31 L963.01 186.26 L964.1 187.2 L965.62 188.15 L967.92 189.1 L970.92 190.04 L1113.33 190.04 L1116.33 189.1 L1118.63 188.15 L1120.15 187.2 L1121.25 186.26 L1122.06 185.31 L1122.81 184.36 L1123.34 183.42 L1123.47 182.47 L1123.05 181.52 L1122.21 180.58 L1121.12 179.63 L1119.99 178.68 L1118.81 177.73 L1117.42 176.79 L1115.84 175.84 L1114.12 174.89 L1112.29 173.95 L1110.39 173 L1108.45 172.05 L1106.19 171.11 L1103.57 170.16 L1101.04 169.21 L1099.06 168.27 L1097.85 167.32 L1096.88 166.37 L1096.05 165.42 L1095.36 164.48 L1094.78 163.53 L1094.28 162.58 L1093.86 161.64 L1093.49 160.69 L1093.16 159.74 L1092.85 158.8 L1092.54 157.85 L1092.21 156.9 L1091.85 155.96 L1091.5 155.01 L1091.15 154.06 L1090.8 153.11 L1090.44 152.17 L1090.07 151.22 L1089.68 150.27 L1089.27 149.33 L1088.82 148.38 L1088.32 147.43 L1087.78 146.49 L1087.19 145.54 L1086.56 144.59 L1085.91 143.65 L1085.24 142.7 L1084.55 141.75 L1083.87 140.8 L1083.19 139.86 L1082.53 138.91 L1081.88 137.96 L1081.26 137.02 L1080.66 136.07 L1080.06 135.12 L1079.46 134.18 L1078.85 133.23 L1078.23 132.28 L1077.58 131.34 L1076.9 130.39 L1076.19 129.44 L1075.42 128.49 L1074.61 127.55 L1073.73 126.6 L1072.79 125.65 L1071.78 124.71 L1070.69 123.76 L1069.53 122.81 L1068.29 121.87 L1066.95 120.92 L1065.4 119.97 L1063.67 119.03 L1061.85 118.08 L1060 117.13 L1058.07 116.19 L1056.04 115.24Z" fill="none" stroke="#333333" stroke-width="2" stroke-linejoin="miter" stroke-miterlimit="6"/>
<path d="M1212.89 108.69 L1211.73 109.72 L1210.63 110.75 L1209.67 111.78 L1208.84 112.81 L1208.08 113.84 L1207.39 114.87 L1206.73 115.9 L1206.1 116.93 L1205.47 117.96 L1204.81 118.99 L1204.12 120.02 L1203.36 121.05 L1202.53 122.08 L1201.59 123.11 L1200.45 124.14 L1199.11 125.17 L1197.62 126.2 L1196.03 127.23 L1194.39 128.26 L1192.75 129.29 L1191.15 130.32 L1189.66 131.35 L1188.32 132.38 L1187.18 133.41 L1186.22 134.44 L1185.3 135.47 L1184.45 136.5 L1183.66 137.52 L1182.97 138.55 L1182.38 139.58 L1181.9 140.61 L1181.51 141.64 L1181.19 142.67 L1180.91 143.7 L1180.63 144.73 L1180.32 145.76 L1179.95 146.79 L1179.5 147.82 L1178.93 148.85 L1178.26 149.88 L1177.51 150.91 L1176.68 151.94 L1175.78 152.97 L1174.8 154 L1173.66 155.03 L1172.4 156.06 L1171.05 157.09 L1169.64 158.12 L1168.22 159.15 L1166.8 160.18 L1165.32 161.21 L1163.78 162.24 L1162.19 163.27 L1160.58 164.3 L1158.98 165.33 L1157.41 166.36 L1155.89 167.39 L1154.44 168.42 L1152.94 169.45 L1151.44 170.48 L1149.98 171.51 L1148.64 172.54 L1147.46 173.57 L1146.51 174.6 L1145.64 175.63 L1144.79 176.66 L1144.01 177.69 L1143.36 178.72 L1142.9 179.75 L1142.67 180.78 L1142.77 181.81 L1143.19 182.84 L1143.87 183.87 L1144.75 184.9 L1145.74 185.93 L1146.79 186.96 L1148.27 187.99 L1150.45 189.01 L1153.63 190.04 L1288.51 190.04 L1291.69 189.01 L1293.87 187.99 L1295.35 186.96 L1296.4 185.93 L1297.4 184.9 L1298.27 183.87 L1298.95 182.84 L1299.38 181.81 L1299.47 180.78 L1299.25 179.75 L1298.78 178.72 L1298.13 177.69 L1297.35 176.66 L1296.5 175.63 L1295.64 174.6 L1294.68 173.57 L1293.51 172.54 L1292.16 171.51 L1290.7 170.48 L1289.2 169.45 L1287.7 168.42 L1286.25 167.39 L1284.74 166.36 L1283.17 165.33 L1281.57 164.3 L1279.96 163.27 L1278.37 162.24 L1276.82 161.21 L1275.34 160.18 L1273.93 159.15 L1272.5 158.12 L1271.1 157.09 L1269.74 156.06 L1268.48 155.03 L1267.34 154 L1266.36 152.97 L1265.47 151.94 L1264.64 150.91 L1263.88 149.88 L1263.21 148.85 L1262.65 147.82 L1262.19 146.79 L1261.82 145.76 L1261.51 144.73 L1261.23 143.7 L1260.95 142.67 L1260.63 141.64 L1260.25 140.61 L1259.77 139.58 L1259.17 138.55 L1258.48 137.52 L1257.7 136.5 L1256.84 135.47 L1255.93 134.44 L1254.96 133.41 L1253.82 132.38 L1252.48 131.35 L1250.99 130.32 L1249.4 129.29 L1247.76 128.26 L1246.11 127.23 L1244.52 126.2 L1243.03 125.17 L1241.69 124.14 L1240.56 123.11 L1239.62 122.08 L1238.78 121.05 L1238.03 120.02 L1237.33 118.99 L1236.68 117.96 L1236.04 116.93 L1235.41 115.9 L1234.76 114.87 L1234.06 113.84 L1233.31 112.81 L1232.47 111.78 L1231.51 110.75 L1230.41 109.72 L1229.26 108.69Z" fill="none" stroke="#333333" stroke-width="2" stroke-linejoin="miter" stroke-miterlimit="6"/>
<use href="#p" x="994" y="190"/><use href="#p" x="999" y="190"/><use href="#p" x="1004" y="190"/><use href="#p" x="1007" y="190"/><use href="#p" x="1013" y="190"/><use href="#p" x="1023" y="190"/><use href="#p" x="1030" y="190"/><use href="#p" x="1032" y="190"/><use href="#p" x="1041" y="190"/><use href="#p" x="1045" y="190"/><use href="#p" x="1050" y="190"/><use href="#p" x="1074" y="190"/><use href="#p" x="1077" y="190"/><use href="#p" x="1082" y="190"/><use href="#p" x="1094" y="190"/><use href="#p" x="999" y="180"/><use href="#p" x="1001" y="180"/><use href="#p" x="1020" y="180"/><use href="#p" x="1024" y="180"/><use href="#p" x="1035" y="180"/><use href="#p" x="1049" y="180"/><use href="#p" x="1064" y="180"/><use href="#p" x="1069" y="180"/><use href="#p" x="1074" y="180"/><use href="#p" x="1077" y="180"/><use href="#p" x="1083" y="180"/><use href="#p" x="1087" y="180"/><use href="#p" x="1091" y="180"/><use href="#p" x="1094" y="180"/><use href="#p" x="1048" y="174"/><use href="#p" x="1061" y="174"/><use href="#p" x="1076" y="174"/><use href="#p" x="1093" y="174"/><use href="#p" x="988" y="170"/><use href="#p" x="1000" y="170"/><use href="#p" x="1035" y="170"/><use href="#p" x="1038" y="170"/><use href="#p" x="1009" y="166"/><use href="#p" x="1088" y="166"/><use href="#p" x="1091" y="166"/><use href="#p" x="1004" y="161"/><use href="#p" x="1008" y="161"/><use href="#p" x="1067" y="161"/><use href="#p" x="1033" y="159"/><use href="#p" x="1074" y="159"/><use href="#p" x="1093" y="158"/><use href="#p" x="995" y="156"/><use href="#p" x="1008" y="155"/><use href="#p" x="989" y="153"/><use href="#p" x="1027" y="153"/><use href="#p" x="1071" y="153"/><use href="#p" x="990" y="151"/><use href="#p" x="1033" y="150"/><use href="#p" x="997" y="147"/><use href="#p" x="1004" y="146"/><use href="#p" x="1070" y="147"/><use href="#p" x="1077" y="147"/><use href="#p" x="1090" y="147"/><use href="#p" x="1065" y="145"/><use href="#p" x="1038" y="143"/><use href="#p" x="1081" y="143"/><use href="#p" x="990" y="140"/><use href="#p" x="999" y="139"/><use href="#p" x="1041" y="139"/><use href="#p" x="1076" y="140"/><use href="#p" x="992" y="130"/><use href="#p" x="1026" y="130"/><use href="#p" x="1036" y="130"/><use href="#p" x="1047" y="129"/><use href="#p" x="1089" y="131"/><use href="#p" x="1076" y="131"/><use href="#p" x="1018" y="125"/><use href="#p" x="1092" y="125"/><use href="#p" x="1078" y="124"/><use href="#p" x="1041" y="122"/><use href="#p" x="1041" y="116"/><use href="#p" x="1094" y="115"/>
<use href="#p" x="1184" y="190"/><use href="#p" x="1189" y="190"/><use href="#p" x="1195" y="190"/><use href="#p" x="1198" y="190"/><use href="#p" x="1221" y="190"/><use href="#p" x="1225" y="190"/><use href="#p" x="1228" y="190"/><use href="#p" x="1236" y="190"/><use href="#p" x="1243" y="190"/><use href="#p" x="1246" y="190"/><use href="#p" x="1252" y="190"/><use href="#p" x="1263" y="190"/><use href="#p" x="1268" y="190"/><use href="#p" x="1175" y="180"/><use href="#p" x="1189" y="180"/><use href="#p" x="1191" y="180"/><use href="#p" x="1198" y="180"/><use href="#p" x="1206" y="180"/><use href="#p" x="1225" y="180"/><use href="#p" x="1236" y="180"/><use href="#p" x="1249" y="180"/><use href="#p" x="1266" y="180"/><use href="#p" x="1270" y="180"/><use href="#p" x="1274" y="180"/><use href="#p" x="1169" y="174"/><use href="#p" x="1183" y="174"/><use href="#p" x="1239" y="174"/><use href="#p" x="1246" y="174"/><use href="#p" x="1258" y="174"/><use href="#p" x="1169" y="170"/><use href="#p" x="1181" y="170"/><use href="#p" x="1184" y="170"/><use href="#p" x="1238" y="170"/><use href="#p" x="1246" y="170"/><use href="#p" x="1259" y="170"/><use href="#p" x="1170" y="166"/><use href="#p" x="1176" y="166"/><use href="#p" x="1259" y="166"/><use href="#p" x="1191" y="163"/><use href="#p" x="1195" y="163"/><use href="#p" x="1199" y="163"/><use href="#p" x="1266" y="163"/><use href="#p" x="1171" y="161"/><use href="#p" x="1206" y="161"/><use href="#p" x="1205" y="158"/><use href="#p" x="1249" y="158"/><use href="#p" x="1267" y="158"/><use href="#p" x="1239" y="156"/><use href="#p" x="1176" y="151"/><use href="#p" x="1211" y="151"/><use href="#p" x="1258" y="151"/><use href="#p" x="1236" y="149"/><use href="#p" x="1268" y="149"/><use href="#p" x="1253" y="146"/><use href="#p" x="1223" y="143"/><use href="#p" x="1270" y="143"/><use href="#p" x="1169" y="140"/><use href="#p" x="1168" y="138"/><use href="#p" x="1234" y="138"/><use href="#p" x="1260" y="138"/><use href="#p" x="1171" y="135"/><use href="#p" x="1233" y="135"/><use href="#p" x="1247" y="136"/><use href="#p" x="1218" y="134"/><use href="#p" x="1238" y="131"/><use href="#p" x="1222" y="129"/><use href="#p" x="1254" y="129"/><use href="#p" x="1269" y="121"/><use href="#p" x="1243" y="119"/><use href="#p" x="1180" y="116"/><use href="#p" x="1195" y="114"/><use href="#p" x="1266" y="109"/>
<path d="M934 14h396v1.1h-396zM934 14h1.1v183h-1.1zM1328.1 14h1.9v183h-1.9zM934 59h396v2h-396zM934 195h396v2h-396z" fill="#333333"/>
<text x="1028.75" y="46.4" font-size="23.47" fill="#1A1A1A" textLength="204.25" lengthAdjust="spacingAndGlyphs">__Erysipelotrichales</text>
<path d="M1041 197h2v6.9h-2zM1220 197h2v6.9h-2z" fill="#333333"/>
<text x="1041.5" y="228.8" font-size="23.47" fill="#4D4D4D" text-anchor="middle">A</text>
<text x="1220.5" y="228.8" font-size="23.47" fill="#4D4D4D" text-anchor="middle">B</text>
</g>
<g>
<rect x="115" y="211" width="396" height="46" fill="#D9D9D9"/>
<path d="M116 212h393v1h-392v43h-1z" fill="#E4E4E4"/>
<path d="M115 268h396v1h-396zM115 302h396v1h-396zM115 336h396v1h-396zM115 370h396v1h-396zM115 284h396v2h-396zM115 318h396v2h-396zM115 352h396v2h-396zM115 386h396v2h-396zM221 257h2v137h-2zM401 257h2v137h-2z" fill="#EBEBEB"/>
<path d="M191.03 343.79 L189.79 344.34 L188.62 344.88 L187.54 345.43 L186.56 345.97 L185.63 346.52 L184.76 347.06 L183.93 347.61 L183.16 348.15 L182.44 348.7 L181.77 349.24 L181.17 349.79 L180.62 350.33 L180.1 350.88 L179.59 351.42 L179.08 351.97 L178.56 352.51 L178 353.06 L177.43 353.6 L176.87 354.15 L176.31 354.69 L175.75 355.24 L175.16 355.78 L174.54 356.33 L173.86 356.87 L173.13 357.42 L172.32 357.96 L171.36 358.51 L170.19 359.05 L168.86 359.6 L167.44 360.14 L165.98 360.69 L164.54 361.23 L163.18 361.78 L161.95 362.32 L160.76 362.87 L159.56 363.41 L158.38 363.96 L157.21 364.5 L156.08 365.05 L154.97 365.59 L153.91 366.14 L152.9 366.68 L151.94 367.23 L151.05 367.77 L150.21 368.32 L149.35 368.86 L148.5 369.41 L147.67 369.95 L146.86 370.5 L146.09 371.04 L145.36 371.59 L144.69 372.13 L144.08 372.68 L143.56 373.22 L143.12 373.77 L142.79 374.31 L142.52 374.86 L142.26 375.4 L142.03 375.95 L141.82 376.49 L141.65 377.04 L141.52 377.58 L141.44 378.13 L141.43 378.67 L141.52 379.22 L141.69 379.76 L141.94 380.31 L142.27 380.85 L142.65 381.4 L143.08 381.94 L143.54 382.49 L144.03 383.03 L144.54 383.58 L145.25 384.12 L146.14 384.67 L147.15 385.21 L148.37 385.76 L149.8 386.3 L151.41 386.85 L292.84 386.85 L294.45 386.3 L295.88 385.76 L297.1 385.21 L298.12 384.67 L299.01 384.12 L299.71 383.58 L300.23 383.03 L300.72 382.49 L301.18 381.94 L301.61 381.4 L301.99 380.85 L302.31 380.31 L302.57 379.76 L302.74 379.22 L302.82 378.67 L302.81 378.13 L302.74 377.58 L302.61 377.04 L302.44 376.49 L302.23 375.95 L301.99 375.4 L301.74 374.86 L301.47 374.31 L301.13 373.77 L300.7 373.22 L300.17 372.68 L299.57 372.13 L298.9 371.59 L298.17 371.04 L297.4 370.5 L296.59 369.95 L295.75 369.41 L294.9 368.86 L294.05 368.32 L293.2 367.77 L292.31 367.23 L291.36 366.68 L290.35 366.14 L289.28 365.59 L288.18 365.05 L287.04 364.5 L285.88 363.96 L284.69 363.41 L283.5 362.87 L282.3 362.32 L281.07 361.78 L279.72 361.23 L278.28 360.69 L276.82 360.14 L275.39 359.6 L274.07 359.05 L272.9 358.51 L271.94 357.96 L271.13 357.42 L270.39 356.87 L269.72 356.33 L269.1 355.78 L268.51 355.24 L267.94 354.69 L267.39 354.15 L266.83 353.6 L266.25 353.06 L265.7 352.51 L265.17 351.97 L264.67 351.42 L264.16 350.88 L263.64 350.33 L263.08 349.79 L262.48 349.24 L261.82 348.7 L261.1 348.15 L260.32 347.61 L259.5 347.06 L258.62 346.52 L257.7 345.97 L256.72 345.43 L255.63 344.88 L254.46 344.34 L253.23 343.79Z" fill="none" stroke="#333333" stroke-width="2" stroke-linejoin="miter" stroke-miterlimit="6"/>
<path d="M388.79 310.89 L388.04 311.85 L387.45 312.82 L386.93 313.78 L386.47 314.74 L386.09 315.7 L385.79 316.66 L385.54 317.62 L385.32 318.58 L385.11 319.55 L384.9 320.51 L384.66 321.47 L384.36 322.43 L384 323.39 L383.5 324.35 L382.75 325.31 L381.81 326.28 L380.72 327.24 L379.57 328.2 L378.4 329.16 L377.27 330.12 L376.17 331.08 L375.01 332.04 L373.82 333.01 L372.6 333.97 L371.36 334.93 L370.13 335.89 L368.91 336.85 L367.72 337.81 L366.56 338.77 L365.32 339.74 L364.04 340.7 L362.81 341.66 L361.72 342.62 L360.84 343.58 L360.23 344.54 L359.69 345.5 L359.23 346.47 L358.93 347.43 L358.84 348.39 L358.92 349.35 L359.1 350.31 L359.36 351.27 L359.66 352.23 L359.98 353.2 L360.29 354.16 L360.58 355.12 L360.94 356.08 L361.34 357.04 L361.78 358 L362.21 358.96 L362.6 359.93 L362.93 360.89 L363.16 361.85 L363.26 362.81 L363.25 363.77 L363.22 364.73 L363.16 365.69 L363.08 366.66 L362.99 367.62 L362.87 368.58 L362.73 369.54 L362.56 370.5 L362.07 371.46 L361.26 372.42 L360.32 373.39 L359.43 374.35 L358.8 375.31 L358.3 376.27 L357.81 377.23 L357.37 378.19 L357.01 379.15 L356.78 380.12 L356.71 381.08 L356.71 382.04 L356.73 383 L356.78 383.96 L356.86 384.92 L357 385.88 L357.2 386.85 L447.23 386.85 L447.44 385.88 L447.57 384.92 L447.66 383.96 L447.7 383 L447.72 382.04 L447.72 381.08 L447.65 380.12 L447.42 379.15 L447.07 378.19 L446.62 377.23 L446.14 376.27 L445.64 375.31 L445 374.35 L444.12 373.39 L443.17 372.42 L442.36 371.46 L441.87 370.5 L441.71 369.54 L441.57 368.58 L441.45 367.62 L441.35 366.66 L441.27 365.69 L441.22 364.73 L441.18 363.77 L441.18 362.81 L441.28 361.85 L441.5 360.89 L441.83 359.93 L442.23 358.96 L442.66 358 L443.09 357.04 L443.5 356.08 L443.85 355.12 L444.14 354.16 L444.45 353.2 L444.77 352.23 L445.08 351.27 L445.33 350.31 L445.51 349.35 L445.59 348.39 L445.51 347.43 L445.2 346.47 L444.74 345.5 L444.2 344.54 L443.59 343.58 L442.72 342.62 L441.62 341.66 L440.39 340.7 L439.12 339.74 L437.87 338.77 L436.71 337.81 L435.52 336.85 L434.31 335.89 L433.07 334.93 L431.84 333.97 L430.62 333.01 L429.42 332.04 L428.27 331.08 L427.16 330.12 L426.04 329.16 L424.87 328.2 L423.71 327.24 L422.63 326.28 L421.68 325.31 L420.94 324.35 L420.43 323.39 L420.07 322.43 L419.78 321.47 L419.54 320.51 L419.32 319.55 L419.12 318.58 L418.9 317.62 L418.65 316.66 L418.34 315.7 L417.96 314.74 L417.51 313.78 L416.99 312.82 L416.39 311.85 L415.64 310.89Z" fill="none" stroke="#333333" stroke-width="2" stroke-linejoin="miter" stroke-miterlimit="6"/>
<use href="#p" x="202" y="387"/><use href="#p" x="207" y="387"/><use href="#p" x="210" y="387"/><use href="#p" x="216" y="387"/><use href="#p" x="238" y="387"/><use href="#p" x="240" y="387"/><use href="#p" x="245" y="387"/><use href="#p" x="264" y="387"/><use href="#p" x="184" y="377"/><use href="#p" x="191" y="377"/><use href="#p" x="195" y="377"/><use href="#p" x="235" y="377"/><use href="#p" x="258" y="377"/><use href="#p" x="251" y="371"/><use href="#p" x="269" y="371"/><use href="#p" x="276" y="371"/><use href="#p" x="213" y="367"/><use href="#p" x="241" y="367"/><use href="#p" x="184" y="363"/><use href="#p" x="246" y="363"/><use href="#p" x="255" y="363"/><use href="#p" x="191" y="361"/><use href="#p" x="195" y="358"/><use href="#p" x="173" y="355"/><use href="#p" x="212" y="352"/><use href="#p" x="224" y="349"/><use href="#p" x="248" y="347"/><use href="#p" x="255" y="347"/><use href="#p" x="181" y="344"/>
<use href="#p" x="348" y="387"/><use href="#p" x="360" y="387"/><use href="#p" x="365" y="387"/><use href="#p" x="399" y="387"/><use href="#p" x="418" y="387"/><use href="#p" x="421" y="387"/><use href="#p" x="444" y="387"/><use href="#p" x="449" y="387"/><use href="#p" x="389" y="377"/><use href="#p" x="424" y="377"/><use href="#p" x="361" y="371"/><use href="#p" x="417" y="371"/><use href="#p" x="416" y="363"/><use href="#p" x="349" y="361"/><use href="#p" x="431" y="355"/><use href="#p" x="367" y="353"/><use href="#p" x="384" y="353"/><use href="#p" x="450" y="353"/><use href="#p" x="421" y="345"/><use href="#p" x="355" y="342"/><use href="#p" x="365" y="341"/><use href="#p" x="434" y="342"/><use href="#p" x="378" y="340"/><use href="#p" x="385" y="340"/><use href="#p" x="362" y="329"/><use href="#p" x="411" y="314"/><use href="#p" x="353" y="312"/><use href="#p" x="356" y="311"/>
<path d="M115 211h396v1.1h-396zM115 211h1.1v183h-1.1zM509.1 211h1.9v183h-1.9zM115 256h396v2h-396zM115 392h396v2h-396z" fill="#333333"/>
<text x="223.75" y="243.4" font-size="23.47" fill="#1A1A1A" textLength="175.15" lengthAdjust="spacingAndGlyphs">__Lactobacillales</text>
<path d="M221 394h2v6.9h-2zM401 394h2v6.9h-2z" fill="#333333"/>
<text x="221.5" y="425.8" font-size="23.47" fill="#4D4D4D" text-anchor="middle">A</text>
<text x="401.5" y="425.8" font-size="23.47" fill="#4D4D4D" text-anchor="middle">B</text>
<path d="M107 284H115v2H107zM107 318H115v2H107zM107 352H115v2H107zM107 386H115v2H107z" fill="#333333"/>
<text x="101.2" y="294.7" font-size="23.47" fill="#4D4D4D" text-anchor="end">1000</text>
<text x="101.2" y="328.7" font-size="23.47" fill="#4D4D4D" text-anchor="end">100</text>
<text x="101.2" y="362.7" font-size="23.47" fill="#4D4D4D" text-anchor="end">10</text>
<text x="101.2" y="396.7" font-size="23.47" fill="#4D4D4D" text-anchor="end">1</text>
</g>
<g>
<rect x="524" y="211" width="396" height="46" fill="#D9D9D9"/>
<path d="M525 212h393v1h-392v43h-1z" fill="#E4E4E4"/>
<path d="M524 268h396v1h-396zM524 302h396v1h-396zM524 336h396v1h-396zM524 370h396v1h-396zM524 284h396v2h-396zM524 318h396v2h-396zM524 352h396v2h-396zM524 386h396v2h-396zM631 257h2v137h-2zM811 257h2v137h-2z" fill="#EBEBEB"/>
<path d="M620.34 293.87 L619.19 295.05 L617.9 296.22 L616.47 297.4 L614.89 298.58 L613.18 299.75 L611.38 300.93 L609.46 302.11 L607.44 303.28 L605.34 304.46 L603.16 305.64 L600.95 306.82 L598.71 307.99 L596.48 309.17 L594.2 310.35 L591.87 311.52 L589.51 312.7 L587.12 313.88 L584.73 315.05 L582.34 316.23 L579.97 317.41 L577.55 318.58 L575.08 319.76 L572.6 320.94 L570.17 322.11 L567.83 323.29 L565.63 324.47 L563.61 325.65 L561.58 326.82 L559.55 328 L557.63 329.18 L555.92 330.35 L554.52 331.53 L553.53 332.71 L552.78 333.88 L552.08 335.06 L551.5 336.24 L551.05 337.41 L550.81 338.59 L550.81 339.77 L551.11 340.95 L551.67 342.12 L552.42 343.3 L553.32 344.48 L554.29 345.65 L555.59 346.83 L557.5 348.01 L559.75 349.18 L562.1 350.36 L564.28 351.54 L566.37 352.71 L568.52 353.89 L570.67 355.07 L572.75 356.25 L574.7 357.42 L576.56 358.6 L578.63 359.78 L580.56 360.95 L581.89 362.13 L582.2 363.31 L582.11 364.48 L581.93 365.66 L581.67 366.84 L581.33 368.01 L580.27 369.19 L578.43 370.37 L576.23 371.55 L574.09 372.72 L571.92 373.9 L569.44 375.08 L566.97 376.25 L564.81 377.43 L563.26 378.61 L562.04 379.78 L560.93 380.96 L560.12 382.14 L559.78 383.31 L560.05 384.49 L560.86 385.67 L562.89 386.85 L701.37 386.85 L703.4 385.67 L704.21 384.49 L704.48 383.31 L704.13 382.14 L703.32 380.96 L702.22 379.78 L700.99 378.61 L699.44 377.43 L697.28 376.25 L694.81 375.08 L692.34 373.9 L690.16 372.72 L688.02 371.55 L685.82 370.37 L683.98 369.19 L682.93 368.01 L682.59 366.84 L682.33 365.66 L682.14 364.48 L682.06 363.31 L682.37 362.13 L683.69 360.95 L685.63 359.78 L687.7 358.6 L689.55 357.42 L691.51 356.25 L693.59 355.07 L695.73 353.89 L697.88 352.71 L699.97 351.54 L702.16 350.36 L704.51 349.18 L706.76 348.01 L708.66 346.83 L709.97 345.65 L710.94 344.48 L711.83 343.3 L712.59 342.12 L713.14 340.95 L713.44 339.77 L713.45 338.59 L713.2 337.41 L712.76 336.24 L712.17 335.06 L711.48 333.88 L710.73 332.71 L709.74 331.53 L708.34 330.35 L706.63 329.18 L704.71 328 L702.68 326.82 L700.65 325.65 L698.62 324.47 L696.42 323.29 L694.08 322.11 L691.65 320.94 L689.18 319.76 L686.7 318.58 L684.28 317.41 L681.92 316.23 L679.53 315.05 L677.14 313.88 L674.75 312.7 L672.38 311.52 L670.05 310.35 L667.78 309.17 L665.54 307.99 L663.31 306.82 L661.09 305.64 L658.92 304.46 L656.81 303.28 L654.79 302.11 L652.88 300.93 L651.08 299.75 L649.37 298.58 L647.79 297.4 L646.36 296.22 L645.07 295.05 L643.91 293.87Z" fill="none" stroke="#333333" stroke-width="2" stroke-linejoin="miter" stroke-miterlimit="6"/>
<path d="M771.79 301.89 L769.54 302.97 L767.39 304.04 L765.38 305.12 L763.44 306.19 L761.58 307.27 L759.87 308.34 L758.34 309.42 L756.89 310.49 L755.48 311.57 L754.13 312.64 L752.84 313.72 L751.62 314.79 L750.49 315.87 L749.43 316.95 L748.48 318.02 L747.61 319.1 L746.74 320.17 L745.86 321.25 L745.02 322.32 L744.26 323.4 L743.64 324.47 L743.2 325.55 L742.99 326.62 L742.98 327.7 L743 328.77 L743.02 329.85 L743.06 330.93 L743.11 332 L743.17 333.08 L743.24 334.15 L743.31 335.23 L743.5 336.3 L743.84 337.38 L744.3 338.45 L744.86 339.53 L745.48 340.6 L746.13 341.68 L746.78 342.75 L747.4 343.83 L748 344.91 L748.65 345.98 L749.34 347.06 L750.06 348.13 L750.8 349.21 L751.52 350.28 L752.23 351.36 L752.89 352.43 L753.5 353.51 L754.03 354.58 L754.51 355.66 L755.02 356.73 L755.52 357.81 L756 358.89 L756.43 359.96 L756.79 361.04 L757.05 362.11 L757.2 363.19 L757.19 364.26 L756.98 365.34 L756.59 366.41 L756.07 367.49 L755.47 368.56 L754.84 369.64 L754.23 370.71 L753.69 371.79 L753.16 372.87 L752.54 373.94 L751.9 375.02 L751.32 376.09 L750.89 377.17 L750.68 378.24 L750.75 379.32 L751.05 380.39 L751.5 381.47 L752.04 382.54 L752.57 383.62 L753.18 384.69 L754.41 385.77 L756.89 386.85 L866.56 386.85 L869.04 385.77 L870.27 384.69 L870.88 383.62 L871.41 382.54 L871.95 381.47 L872.4 380.39 L872.7 379.32 L872.77 378.24 L872.56 377.17 L872.13 376.09 L871.56 375.02 L870.92 373.94 L870.29 372.87 L869.76 371.79 L869.22 370.71 L868.61 369.64 L867.98 368.56 L867.38 367.49 L866.86 366.41 L866.47 365.34 L866.26 364.26 L866.26 363.19 L866.4 362.11 L866.67 361.04 L867.02 359.96 L867.45 358.89 L867.93 357.81 L868.43 356.73 L868.94 355.66 L869.42 354.58 L869.96 353.51 L870.56 352.43 L871.22 351.36 L871.93 350.28 L872.65 349.21 L873.39 348.13 L874.11 347.06 L874.81 345.98 L875.46 344.91 L876.05 343.83 L876.67 342.75 L877.32 341.68 L877.97 340.6 L878.59 339.53 L879.15 338.45 L879.61 337.38 L879.95 336.3 L880.14 335.23 L880.22 334.15 L880.28 333.08 L880.34 332 L880.39 330.93 L880.43 329.85 L880.46 328.77 L880.47 327.7 L880.46 326.62 L880.25 325.55 L879.81 324.47 L879.19 323.4 L878.44 322.32 L877.6 321.25 L876.71 320.17 L875.84 319.1 L874.97 318.02 L874.02 316.95 L872.97 315.87 L871.83 314.79 L870.61 313.72 L869.33 312.64 L867.97 311.57 L866.57 310.49 L865.11 309.42 L863.59 308.34 L861.87 307.27 L860.02 306.19 L858.07 305.12 L856.06 304.04 L853.92 302.97 L851.67 301.89Z" fill="none" stroke="#333333" stroke-width="2" stroke-linejoin="miter" stroke-miterlimit="6"/>
<use href="#p" x="586" y="387"/><use href="#p" x="590" y="387"/><use href="#p" x="608" y="387"/><use href="#p" x="615" y="387"/><use href="#p" x="619" y="387"/><use href="#p" x="631" y="387"/><use href="#p" x="634" y="387"/><use href="#p" x="661" y="387"/><use href="#p" x="669" y="387"/><use href="#p" x="674" y="387"/><use href="#p" x="683" y="387"/><use href="#p" x="588" y="377"/><use href="#p" x="613" y="377"/><use href="#p" x="634" y="377"/><use href="#p" x="656" y="377"/><use href="#p" x="666" y="377"/><use href="#p" x="664" y="371"/><use href="#p" x="580" y="363"/><use href="#p" x="601" y="361"/><use href="#p" x="587" y="356"/><use href="#p" x="663" y="353"/><use href="#p" x="624" y="350"/><use href="#p" x="658" y="350"/><use href="#p" x="675" y="350"/><use href="#p" x="591" y="349"/><use href="#p" x="620" y="347"/><use href="#p" x="654" y="347"/><use href="#p" x="680" y="347"/><use href="#p" x="620" y="345"/><use href="#p" x="683" y="344"/><use href="#p" x="674" y="340"/><use href="#p" x="591" y="338"/><use href="#p" x="665" y="338"/><use href="#p" x="648" y="338"/><use href="#p" x="618" y="336"/><use href="#p" x="652" y="336"/><use href="#p" x="622" y="335"/><use href="#p" x="670" y="333"/><use href="#p" x="603" y="329"/><use href="#p" x="622" y="328"/><use href="#p" x="629" y="328"/><use href="#p" x="668" y="327"/><use href="#p" x="598" y="325"/><use href="#p" x="608" y="320"/><use href="#p" x="611" y="321"/><use href="#p" x="632" y="317"/><use href="#p" x="680" y="314"/><use href="#p" x="590" y="312"/><use href="#p" x="615" y="311"/><use href="#p" x="620" y="310"/><use href="#p" x="613" y="307"/><use href="#p" x="595" y="294"/>
<use href="#p" x="763" y="387"/><use href="#p" x="786" y="387"/><use href="#p" x="820" y="387"/><use href="#p" x="825" y="387"/><use href="#p" x="833" y="387"/><use href="#p" x="850" y="387"/><use href="#p" x="761" y="377"/><use href="#p" x="779" y="377"/><use href="#p" x="842" y="377"/><use href="#p" x="848" y="377"/><use href="#p" x="783" y="371"/><use href="#p" x="858" y="361"/><use href="#p" x="846" y="358"/><use href="#p" x="816" y="352"/><use href="#p" x="834" y="352"/><use href="#p" x="808" y="349"/><use href="#p" x="821" y="349"/><use href="#p" x="781" y="342"/><use href="#p" x="805" y="338"/><use href="#p" x="778" y="336"/><use href="#p" x="854" y="331"/><use href="#p" x="812" y="330"/><use href="#p" x="788" y="327"/><use href="#p" x="822" y="326"/><use href="#p" x="840" y="326"/><use href="#p" x="804" y="320"/><use href="#p" x="785" y="315"/><use href="#p" x="828" y="315"/><use href="#p" x="829" y="310"/><use href="#p" x="812" y="306"/><use href="#p" x="839" y="304"/><use href="#p" x="851" y="304"/><use href="#p" x="799" y="302"/>
<path d="M524 211h396v1.1h-396zM524 211h1.1v183h-1.1zM918.1 211h1.9v183h-1.9zM524 256h396v2h-396zM524 392h396v2h-396z" fill="#333333"/>
<text x="618.8" y="243.4" font-size="23.47" fill="#1A1A1A" textLength="206.2" lengthAdjust="spacingAndGlyphs">__Selenomonadales</text>
<path d="M631 394h2v6.9h-2zM811 394h2v6.9h-2z" fill="#333333"/>
<text x="631.5" y="425.8" font-size="23.47" fill="#4D4D4D" text-anchor="middle">A</text>
<text x="811.5" y="425.8" font-size="23.47" fill="#4D4D4D" text-anchor="middle">B</text>
</g>
<text x="721.6" y="460.2" font-size="29.33" fill="#000" text-anchor="middle" textLength="149.5" lengthAdjust="spacingAndGlyphs">Intervention</text>
<text transform="translate(37.5 227.5) rotate(-90)" font-size="29.33" fill="#000" text-anchor="middle" textLength="436" lengthAdjust="spacingAndGlyphs">Abundance prior to transformation</text>
<g>
<rect x="123" y="494" width="393" height="46" fill="#D9D9D9"/>
<path d="M124 495h390v1h-389v43h-1z" fill="#E4E4E4"/>
<path d="M123 548h393v1h-393zM123 580h393v1h-393zM123 613h393v1h-393zM123 645h393v1h-393zM123 563h393v2h-393zM123 596h393v2h-393zM123 628h393v2h-393zM123 660h393v2h-393zM229 540h2v137h-2zM407 540h2v137h-2z" fill="#EBEBEB"/>
<path d="M205.77 648.97 L205.61 649.24 L205.43 649.5 L205.25 649.77 L205.06 650.03 L204.84 650.3 L204.6 650.56 L204.35 650.83 L204.11 651.09 L203.88 651.36 L203.67 651.63 L203.5 651.89 L203.36 652.16 L203.24 652.42 L203.14 652.69 L203.05 652.95 L202.96 653.22 L202.89 653.48 L202.82 653.75 L202.75 654.01 L202.68 654.28 L202.6 654.54 L202.53 654.81 L202.44 655.07 L202.34 655.34 L202.23 655.6 L202.11 655.87 L201.97 656.13 L201.81 656.4 L201.6 656.66 L201.33 656.93 L201.01 657.2 L200.64 657.46 L200.22 657.73 L199.76 657.99 L199.25 658.26 L198.71 658.52 L198.12 658.79 L197.51 659.05 L196.86 659.32 L196.05 659.58 L195.06 659.85 L193.9 660.11 L192.61 660.38 L191.24 660.64 L189.83 660.91 L188.4 661.17 L186.99 661.44 L185.66 661.7 L184.37 661.97 L183.05 662.23 L181.71 662.5 L180.35 662.76 L178.99 663.03 L177.62 663.3 L176.26 663.56 L174.9 663.83 L173.56 664.09 L172.25 664.36 L170.96 664.62 L169.7 664.89 L168.48 665.15 L167.28 665.42 L166.1 665.68 L164.95 665.95 L163.83 666.21 L162.75 666.48 L161.7 666.74 L160.47 667.01 L159.26 667.27 L158.33 667.54 L157.98 667.8 L158.16 668.07 L158.6 668.33 L159.19 668.6 L159.82 668.86 L160.64 669.13 L161.66 669.4 L162.86 669.66 L164.2 669.93 L295.8 669.93 L297.14 669.66 L298.34 669.4 L299.36 669.13 L300.18 668.86 L300.81 668.6 L301.4 668.33 L301.84 668.07 L302.02 667.8 L301.67 667.54 L300.74 667.27 L299.53 667.01 L298.3 666.74 L297.25 666.48 L296.17 666.21 L295.05 665.95 L293.9 665.68 L292.72 665.42 L291.52 665.15 L290.3 664.89 L289.04 664.62 L287.75 664.36 L286.44 664.09 L285.1 663.83 L283.74 663.56 L282.38 663.3 L281.01 663.03 L279.65 662.76 L278.29 662.5 L276.95 662.23 L275.63 661.97 L274.34 661.7 L273.01 661.44 L271.6 661.17 L270.17 660.91 L268.76 660.64 L267.39 660.38 L266.1 660.11 L264.94 659.85 L263.95 659.58 L263.14 659.32 L262.49 659.05 L261.88 658.79 L261.29 658.52 L260.75 658.26 L260.24 657.99 L259.78 657.73 L259.36 657.46 L258.99 657.2 L258.67 656.93 L258.4 656.66 L258.19 656.4 L258.03 656.13 L257.89 655.87 L257.77 655.6 L257.66 655.34 L257.56 655.07 L257.47 654.81 L257.4 654.54 L257.32 654.28 L257.25 654.01 L257.18 653.75 L257.11 653.48 L257.04 653.22 L256.95 652.95 L256.86 652.69 L256.76 652.42 L256.64 652.16 L256.5 651.89 L256.33 651.63 L256.12 651.36 L255.89 651.09 L255.65 650.83 L255.4 650.56 L255.16 650.3 L254.94 650.03 L254.75 649.77 L254.57 649.5 L254.39 649.24 L254.23 648.97Z" fill="none" stroke="#333333" stroke-width="2" stroke-linejoin="miter" stroke-miterlimit="6"/>
<path d="M363.35 655.8 L362.53 656.94 L368.91 658.5 L370.71 659.69 L367.28 661.25 L357.78 662.4 L347.8 663.61 L333.72 665.56 L327.01 667.9 L334.38 669.84 L481.7 669.84 L489.06 667.9 L482.35 665.56 L468.27 663.61 L458.29 662.4 L448.79 661.25 L445.36 659.69 L447.16 658.5 L453.54 656.94 L452.72 655.8Z" fill="none" stroke="#333333" stroke-width="2" stroke-linejoin="miter" stroke-miterlimit="6"/>
<use href="#p" x="194" y="666"/><use href="#p" x="206" y="668"/><use href="#p" x="215" y="657"/><use href="#p" x="220" y="665"/><use href="#p" x="223" y="649"/><use href="#p" x="241" y="670"/>
<use href="#p" x="386" y="666"/><use href="#p" x="456" y="656"/><use href="#p" x="459" y="670"/>
<path d="M123 494h393v1.1h-393zM123 494h1.1v183h-1.1zM514.1 494h1.9v183h-1.9zM123 539h393v2h-393zM123 675h393v2h-393z" fill="#333333"/>
<text x="257.9" y="526.4" font-size="23.47" fill="#1A1A1A" textLength="121" lengthAdjust="spacingAndGlyphs">__Bacillales</text>
<path d="M115.5 563H123v2H115.5zM115.5 596H123v2H115.5zM115.5 628H123v2H115.5zM115.5 660H123v2H115.5z" fill="#333333"/>
<text x="109.2" y="573.7" font-size="23.47" fill="#4D4D4D" text-anchor="end">1e-01</text>
<text x="109.2" y="606.7" font-size="23.47" fill="#4D4D4D" text-anchor="end">1e-02</text>
<text x="109.2" y="638.7" font-size="23.47" fill="#4D4D4D" text-anchor="end">1e-03</text>
<text x="109.2" y="670.7" font-size="23.47" fill="#4D4D4D" text-anchor="end">1e-04</text>
</g>
<g>
<rect x="530" y="494" width="393" height="46" fill="#D9D9D9"/>
<path d="M531 495h390v1h-389v43h-1z" fill="#E4E4E4"/>
<path d="M530 548h393v1h-393zM530 580h393v1h-393zM530 613h393v1h-393zM530 645h393v1h-393zM530 563h393v2h-393zM530 596h393v2h-393zM530 628h393v2h-393zM530 660h393v2h-393zM636 540h2v137h-2zM814 540h2v137h-2z" fill="#EBEBEB"/>
<path d="M634.84 548.42 L633.44 549.95 L632.56 551.48 L631.96 553.01 L631.45 554.54 L630.84 556.07 L630.08 557.6 L629.24 559.13 L628.32 560.66 L627.32 562.19 L626.23 563.71 L625.05 565.24 L623.7 566.77 L622.13 568.3 L620.43 569.83 L618.66 571.36 L616.88 572.89 L615.11 574.42 L613.29 575.95 L611.36 577.48 L609.25 579.01 L606.9 580.53 L604.3 582.06 L601.51 583.59 L598.6 585.12 L595.65 586.65 L592.71 588.18 L589.77 589.71 L586.72 591.24 L583.42 592.77 L579.63 594.3 L574.9 595.83 L570.4 597.36 L567.18 598.88 L564.48 600.41 L562.2 601.94 L560.45 603.47 L559.1 605 L557.84 606.53 L556.78 608.06 L556.05 609.59 L555.77 611.12 L555.87 612.65 L556.15 614.18 L556.57 615.71 L557.1 617.23 L557.7 618.76 L558.34 620.29 L558.98 621.82 L559.6 623.35 L560.14 624.88 L560.61 626.41 L561.04 627.94 L561.45 629.47 L561.88 631 L562.35 632.53 L562.88 634.06 L563.52 635.58 L564.32 637.11 L565.5 638.64 L567 640.17 L568.71 641.7 L570.5 643.23 L572.24 644.76 L574.04 646.29 L575.99 647.82 L577.96 649.35 L579.84 650.88 L581.53 652.41 L583.1 653.93 L584.6 655.46 L586.04 656.99 L587.42 658.52 L588.76 660.05 L590.06 661.58 L591.32 663.11 L592.53 664.64 L593.7 666.17 L594.81 667.7 L595.88 669.23 L677.72 669.23 L678.79 667.7 L679.91 666.17 L681.07 664.64 L682.28 663.11 L683.54 661.58 L684.84 660.05 L686.18 658.52 L687.56 656.99 L689 655.46 L690.5 653.93 L692.07 652.41 L693.76 650.88 L695.65 649.35 L697.61 647.82 L699.56 646.29 L701.36 644.76 L703.1 643.23 L704.89 641.7 L706.6 640.17 L708.1 638.64 L709.28 637.11 L710.08 635.58 L710.72 634.06 L711.26 632.53 L711.72 631 L712.15 629.47 L712.56 627.94 L712.99 626.41 L713.46 624.88 L714 623.35 L714.62 621.82 L715.26 620.29 L715.9 618.76 L716.5 617.23 L717.03 615.71 L717.45 614.18 L717.73 612.65 L717.83 611.12 L717.56 609.59 L716.83 608.06 L715.76 606.53 L714.5 605 L713.15 603.47 L711.4 601.94 L709.13 600.41 L706.42 598.88 L703.2 597.36 L698.7 595.83 L693.97 594.3 L690.18 592.77 L686.88 591.24 L683.83 589.71 L680.89 588.18 L677.95 586.65 L675 585.12 L672.09 583.59 L669.3 582.06 L666.7 580.53 L664.35 579.01 L662.24 577.48 L660.31 575.95 L658.49 574.42 L656.72 572.89 L654.94 571.36 L653.17 569.83 L651.47 568.3 L649.91 566.77 L648.55 565.24 L647.37 563.71 L646.28 562.19 L645.28 560.66 L644.36 559.13 L643.52 557.6 L642.76 556.07 L642.16 554.54 L641.64 553.01 L641.04 551.48 L640.16 549.95 L638.76 548.42Z" fill="none" stroke="#333333" stroke-width="2" stroke-linejoin="miter" stroke-miterlimit="6"/>
<path d="M814.67 546.13 L814.49 547.69 L814.15 549.25 L813.68 550.81 L813.12 552.36 L812.47 553.92 L811.77 555.48 L811.01 557.04 L810.01 558.6 L808.8 560.15 L807.43 561.71 L805.96 563.27 L804.44 564.83 L802.94 566.39 L801.42 567.95 L799.81 569.5 L798.12 571.06 L796.3 572.62 L794.35 574.18 L792.19 575.74 L789.79 577.29 L787.21 578.85 L784.53 580.41 L781.82 581.97 L779.14 583.53 L776.54 585.09 L773.9 586.64 L771.25 588.2 L768.58 589.76 L765.93 591.32 L763.29 592.88 L760.69 594.43 L758.05 595.99 L755.42 597.55 L752.89 599.11 L750.56 600.67 L748.36 602.22 L746.23 603.78 L744.21 605.34 L742.36 606.9 L740.72 608.46 L739.15 610.02 L737.52 611.57 L736.09 613.13 L735.1 614.69 L734.81 616.25 L735.64 617.81 L737.4 619.36 L739.63 620.92 L741.86 622.48 L743.75 624.04 L745.9 625.6 L747.91 627.16 L749.1 628.71 L749.29 630.27 L749.39 631.83 L749.47 633.39 L749.51 634.95 L749.52 636.5 L749.33 638.06 L748.85 639.62 L748.23 641.18 L747.58 642.74 L747.04 644.3 L746.76 645.85 L746.79 647.41 L747.02 648.97 L747.37 650.53 L747.94 652.09 L749.18 653.64 L750.85 655.2 L752.6 656.76 L754.38 658.32 L756.39 659.88 L758.4 661.44 L760.17 662.99 L761.76 664.55 L763.25 666.11 L764.64 667.67 L765.89 669.23 L864.11 669.23 L865.36 667.67 L866.75 666.11 L868.24 664.55 L869.83 662.99 L871.6 661.44 L873.61 659.88 L875.62 658.32 L877.4 656.76 L879.15 655.2 L880.82 653.64 L882.06 652.09 L882.63 650.53 L882.98 648.97 L883.21 647.41 L883.24 645.85 L882.96 644.3 L882.42 642.74 L881.77 641.18 L881.15 639.62 L880.67 638.06 L880.48 636.5 L880.49 634.95 L880.53 633.39 L880.61 631.83 L880.71 630.27 L880.9 628.71 L882.09 627.16 L884.1 625.6 L886.25 624.04 L888.14 622.48 L890.37 620.92 L892.6 619.36 L894.36 617.81 L895.19 616.25 L894.9 614.69 L893.91 613.13 L892.48 611.57 L890.85 610.02 L889.28 608.46 L887.64 606.9 L885.79 605.34 L883.77 603.78 L881.64 602.22 L879.44 600.67 L877.11 599.11 L874.58 597.55 L871.95 595.99 L869.31 594.43 L866.71 592.88 L864.07 591.32 L861.42 589.76 L858.75 588.2 L856.1 586.64 L853.46 585.09 L850.86 583.53 L848.18 581.97 L845.47 580.41 L842.79 578.85 L840.21 577.29 L837.81 575.74 L835.65 574.18 L833.7 572.62 L831.88 571.06 L830.19 569.5 L828.58 567.95 L827.06 566.39 L825.56 564.83 L824.04 563.27 L822.57 561.71 L821.2 560.15 L819.99 558.6 L818.99 557.04 L818.23 555.48 L817.53 553.92 L816.88 552.36 L816.32 550.81 L815.85 549.25 L815.51 547.69 L815.33 546.13Z" fill="none" stroke="#333333" stroke-width="2" stroke-linejoin="miter" stroke-miterlimit="6"/>
<use href="#p" x="664" y="624"/><use href="#p" x="637" y="604"/><use href="#p" x="684" y="644"/><use href="#p" x="614" y="618"/><use href="#p" x="654" y="652"/><use href="#p" x="665" y="605"/><use href="#p" x="607" y="602"/><use href="#p" x="649" y="550"/><use href="#p" x="688" y="669"/><use href="#p" x="622" y="601"/><use href="#p" x="633" y="618"/><use href="#p" x="666" y="633"/><use href="#p" x="666" y="611"/><use href="#p" x="674" y="626"/><use href="#p" x="636" y="605"/><use href="#p" x="616" y="669"/><use href="#p" x="684" y="568"/><use href="#p" x="650" y="569"/><use href="#p" x="591" y="611"/><use href="#p" x="658" y="589"/><use href="#p" x="604" y="634"/><use href="#p" x="613" y="635"/><use href="#p" x="654" y="624"/><use href="#p" x="655" y="633"/><use href="#p" x="630" y="638"/><use href="#p" x="673" y="585"/><use href="#p" x="633" y="622"/><use href="#p" x="630" y="654"/><use href="#p" x="608" y="630"/><use href="#p" x="591" y="598"/><use href="#p" x="603" y="605"/><use href="#p" x="615" y="616"/><use href="#p" x="641" y="642"/><use href="#p" x="666" y="658"/><use href="#p" x="610" y="653"/><use href="#p" x="672" y="622"/><use href="#p" x="614" y="627"/><use href="#p" x="612" y="636"/><use href="#p" x="603" y="667"/><use href="#p" x="628" y="642"/><use href="#p" x="630" y="625"/><use href="#p" x="603" y="598"/><use href="#p" x="634" y="624"/><use href="#p" x="636" y="611"/><use href="#p" x="679" y="631"/><use href="#p" x="662" y="552"/><use href="#p" x="624" y="649"/><use href="#p" x="594" y="625"/><use href="#p" x="668" y="602"/><use href="#p" x="624" y="649"/><use href="#p" x="672" y="666"/><use href="#p" x="595" y="630"/><use href="#p" x="630" y="634"/><use href="#p" x="683" y="613"/><use href="#p" x="586" y="609"/><use href="#p" x="599" y="644"/><use href="#p" x="637" y="617"/><use href="#p" x="680" y="648"/><use href="#p" x="619" y="629"/><use href="#p" x="594" y="670"/><use href="#p" x="615" y="650"/><use href="#p" x="636" y="605"/><use href="#p" x="615" y="631"/><use href="#p" x="594" y="603"/><use href="#p" x="608" y="622"/><use href="#p" x="613" y="617"/><use href="#p" x="585" y="555"/><use href="#p" x="661" y="667"/><use href="#p" x="629" y="653"/><use href="#p" x="629" y="637"/><use href="#p" x="648" y="646"/><use href="#p" x="640" y="659"/><use href="#p" x="585" y="670"/><use href="#p" x="652" y="596"/><use href="#p" x="669" y="668"/><use href="#p" x="652" y="644"/><use href="#p" x="658" y="626"/><use href="#p" x="650" y="657"/><use href="#p" x="675" y="654"/><use href="#p" x="636" y="649"/><use href="#p" x="622" y="618"/><use href="#p" x="650" y="629"/><use href="#p" x="612" y="581"/><use href="#p" x="658" y="631"/><use href="#p" x="664" y="642"/><use href="#p" x="644" y="612"/><use href="#p" x="639" y="622"/><use href="#p" x="668" y="633"/><use href="#p" x="655" y="660"/><use href="#p" x="621" y="595"/><use href="#p" x="649" y="606"/><use href="#p" x="639" y="612"/><use href="#p" x="607" y="615"/><use href="#p" x="600" y="659"/><use href="#p" x="685" y="582"/><use href="#p" x="680" y="615"/><use href="#p" x="655" y="624"/><use href="#p" x="689" y="619"/><use href="#p" x="598" y="608"/><use href="#p" x="674" y="650"/><use href="#p" x="633" y="668"/><use href="#p" x="683" y="629"/><use href="#p" x="611" y="640"/><use href="#p" x="676" y="650"/><use href="#p" x="597" y="668"/><use href="#p" x="681" y="616"/><use href="#p" x="669" y="659"/><use href="#p" x="673" y="615"/><use href="#p" x="668" y="648"/><use href="#p" x="596" y="669"/><use href="#p" x="607" y="609"/><use href="#p" x="652" y="650"/><use href="#p" x="647" y="585"/><use href="#p" x="650" y="592"/><use href="#p" x="625" y="579"/><use href="#p" x="640" y="640"/><use href="#p" x="675" y="613"/><use href="#p" x="628" y="626"/><use href="#p" x="584" y="608"/><use href="#p" x="608" y="626"/><use href="#p" x="642" y="668"/><use href="#p" x="591" y="598"/><use href="#p" x="609" y="598"/><use href="#p" x="642" y="659"/><use href="#p" x="675" y="569"/><use href="#p" x="631" y="632"/><use href="#p" x="676" y="657"/><use href="#p" x="591" y="668"/><use href="#p" x="684" y="643"/><use href="#p" x="593" y="624"/><use href="#p" x="612" y="602"/><use href="#p" x="590" y="601"/><use href="#p" x="649" y="637"/><use href="#p" x="641" y="666"/><use href="#p" x="633" y="642"/><use href="#p" x="667" y="659"/><use href="#p" x="662" y="660"/><use href="#p" x="634" y="642"/><use href="#p" x="675" y="669"/><use href="#p" x="620" y="669"/><use href="#p" x="653" y="658"/><use href="#p" x="645" y="618"/><use href="#p" x="647" y="667"/><use href="#p" x="683" y="622"/><use href="#p" x="609" y="616"/><use href="#p" x="646" y="593"/><use href="#p" x="676" y="619"/><use href="#p" x="624" y="657"/><use href="#p" x="589" y="599"/><use href="#p" x="618" y="642"/><use href="#p" x="665" y="670"/><use href="#p" x="676" y="631"/><use href="#p" x="605" y="656"/><use href="#p" x="589" y="589"/><use href="#p" x="587" y="642"/><use href="#p" x="601" y="657"/><use href="#p" x="678" y="604"/><use href="#p" x="665" y="659"/><use href="#p" x="621" y="627"/><use href="#p" x="657" y="627"/><use href="#p" x="676" y="667"/><use href="#p" x="628" y="667"/><use href="#p" x="671" y="624"/><use href="#p" x="646" y="641"/><use href="#p" x="599" y="612"/><use href="#p" x="668" y="606"/><use href="#p" x="671" y="592"/><use href="#p" x="611" y="584"/><use href="#p" x="684" y="640"/><use href="#p" x="638" y="648"/><use href="#p" x="647" y="598"/><use href="#p" x="653" y="670"/><use href="#p" x="634" y="668"/><use href="#p" x="620" y="604"/><use href="#p" x="605" y="649"/><use href="#p" x="656" y="644"/><use href="#p" x="661" y="620"/><use href="#p" x="637" y="658"/><use href="#p" x="632" y="646"/><use href="#p" x="583" y="626"/><use href="#p" x="617" y="617"/><use href="#p" x="598" y="603"/><use href="#p" x="649" y="668"/><use href="#p" x="651" y="598"/><use href="#p" x="656" y="630"/><use href="#p" x="631" y="622"/><use href="#p" x="639" y="615"/><use href="#p" x="639" y="659"/><use href="#p" x="650" y="625"/><use href="#p" x="649" y="593"/><use href="#p" x="658" y="649"/><use href="#p" x="671" y="611"/><use href="#p" x="600" y="647"/><use href="#p" x="635" y="660"/><use href="#p" x="648" y="634"/><use href="#p" x="618" y="592"/><use href="#p" x="594" y="626"/><use href="#p" x="652" y="621"/><use href="#p" x="589" y="668"/><use href="#p" x="643" y="651"/><use href="#p" x="610" y="668"/><use href="#p" x="673" y="648"/><use href="#p" x="662" y="588"/><use href="#p" x="657" y="635"/><use href="#p" x="596" y="613"/><use href="#p" x="671" y="574"/><use href="#p" x="613" y="605"/><use href="#p" x="605" y="634"/><use href="#p" x="689" y="638"/><use href="#p" x="618" y="626"/><use href="#p" x="655" y="607"/><use href="#p" x="610" y="589"/><use href="#p" x="623" y="605"/><use href="#p" x="684" y="640"/><use href="#p" x="667" y="606"/><use href="#p" x="639" y="630"/><use href="#p" x="683" y="609"/><use href="#p" x="656" y="598"/><use href="#p" x="664" y="654"/><use href="#p" x="598" y="605"/><use href="#p" x="596" y="640"/><use href="#p" x="646" y="670"/><use href="#p" x="662" y="642"/><use href="#p" x="689" y="643"/><use href="#p" x="594" y="623"/><use href="#p" x="601" y="617"/><use href="#p" x="591" y="643"/><use href="#p" x="653" y="601"/><use href="#p" x="608" y="596"/><use href="#p" x="639" y="598"/><use href="#p" x="668" y="652"/><use href="#p" x="686" y="625"/><use href="#p" x="589" y="620"/><use href="#p" x="622" y="633"/><use href="#p" x="667" y="608"/><use href="#p" x="658" y="637"/><use href="#p" x="681" y="648"/><use href="#p" x="585" y="581"/><use href="#p" x="663" y="612"/><use href="#p" x="612" y="669"/><use href="#p" x="649" y="559"/><use href="#p" x="606" y="667"/><use href="#p" x="595" y="647"/><use href="#p" x="608" y="640"/><use href="#p" x="603" y="634"/><use href="#p" x="638" y="603"/><use href="#p" x="610" y="658"/><use href="#p" x="668" y="614"/><use href="#p" x="629" y="622"/><use href="#p" x="605" y="635"/><use href="#p" x="656" y="668"/><use href="#p" x="591" y="626"/><use href="#p" x="634" y="616"/><use href="#p" x="631" y="620"/><use href="#p" x="592" y="643"/><use href="#p" x="629" y="615"/><use href="#p" x="661" y="619"/><use href="#p" x="608" y="602"/><use href="#p" x="638" y="619"/><use href="#p" x="632" y="592"/><use href="#p" x="645" y="640"/><use href="#p" x="624" y="620"/><use href="#p" x="617" y="621"/><use href="#p" x="613" y="659"/><use href="#p" x="590" y="628"/><use href="#p" x="668" y="619"/><use href="#p" x="636" y="603"/><use href="#p" x="614" y="603"/><use href="#p" x="680" y="644"/><use href="#p" x="625" y="624"/><use href="#p" x="586" y="638"/><use href="#p" x="635" y="633"/><use href="#p" x="626" y="651"/><use href="#p" x="658" y="654"/><use href="#p" x="654" y="606"/><use href="#p" x="662" y="629"/><use href="#p" x="679" y="640"/><use href="#p" x="631" y="649"/><use href="#p" x="621" y="618"/><use href="#p" x="639" y="638"/><use href="#p" x="646" y="651"/><use href="#p" x="632" y="656"/><use href="#p" x="662" y="614"/><use href="#p" x="649" y="601"/><use href="#p" x="601" y="669"/><use href="#p" x="687" y="659"/><use href="#p" x="587" y="658"/><use href="#p" x="644" y="617"/><use href="#p" x="643" y="626"/><use href="#p" x="596" y="635"/><use href="#p" x="656" y="586"/><use href="#p" x="601" y="598"/><use href="#p" x="593" y="608"/><use href="#p" x="620" y="569"/><use href="#p" x="587" y="605"/><use href="#p" x="655" y="659"/><use href="#p" x="658" y="669"/><use href="#p" x="684" y="599"/><use href="#p" x="628" y="637"/><use href="#p" x="633" y="612"/><use href="#p" x="595" y="668"/><use href="#p" x="628" y="611"/><use href="#p" x="627" y="638"/><use href="#p" x="604" y="631"/><use href="#p" x="675" y="610"/><use href="#p" x="669" y="601"/><use href="#p" x="683" y="647"/><use href="#p" x="648" y="619"/><use href="#p" x="668" y="611"/><use href="#p" x="666" y="599"/><use href="#p" x="656" y="622"/><use href="#p" x="606" y="598"/><use href="#p" x="601" y="656"/><use href="#p" x="644" y="650"/><use href="#p" x="627" y="666"/><use href="#p" x="599" y="613"/><use href="#p" x="621" y="626"/><use href="#p" x="650" y="669"/><use href="#p" x="680" y="612"/><use href="#p" x="591" y="603"/><use href="#p" x="604" y="649"/><use href="#p" x="679" y="627"/><use href="#p" x="689" y="622"/><use href="#p" x="664" y="638"/><use href="#p" x="681" y="667"/><use href="#p" x="660" y="651"/><use href="#p" x="605" y="645"/><use href="#p" x="688" y="665"/><use href="#p" x="586" y="629"/><use href="#p" x="642" y="628"/><use href="#p" x="619" y="585"/><use href="#p" x="667" y="636"/><use href="#p" x="648" y="657"/><use href="#p" x="663" y="644"/><use href="#p" x="669" y="609"/><use href="#p" x="683" y="603"/><use href="#p" x="646" y="619"/><use href="#p" x="599" y="667"/><use href="#p" x="672" y="667"/><use href="#p" x="648" y="658"/><use href="#p" x="589" y="669"/><use href="#p" x="606" y="653"/><use href="#p" x="603" y="649"/><use href="#p" x="666" y="585"/><use href="#p" x="593" y="631"/><use href="#p" x="586" y="631"/><use href="#p" x="604" y="669"/><use href="#p" x="608" y="650"/><use href="#p" x="610" y="668"/><use href="#p" x="646" y="598"/><use href="#p" x="654" y="669"/><use href="#p" x="680" y="650"/><use href="#p" x="687" y="667"/><use href="#p" x="609" y="621"/><use href="#p" x="584" y="621"/><use href="#p" x="587" y="611"/><use href="#p" x="653" y="593"/><use href="#p" x="681" y="627"/><use href="#p" x="628" y="643"/><use href="#p" x="590" y="658"/><use href="#p" x="633" y="593"/><use href="#p" x="599" y="670"/><use href="#p" x="663" y="650"/><use href="#p" x="626" y="646"/><use href="#p" x="639" y="657"/><use href="#p" x="675" y="630"/><use href="#p" x="659" y="631"/><use href="#p" x="665" y="653"/><use href="#p" x="678" y="628"/><use href="#p" x="672" y="668"/><use href="#p" x="602" y="631"/><use href="#p" x="606" y="635"/><use href="#p" x="605" y="668"/><use href="#p" x="611" y="605"/><use href="#p" x="584" y="669"/><use href="#p" x="689" y="552"/><use href="#p" x="629" y="668"/><use href="#p" x="605" y="652"/><use href="#p" x="664" y="658"/><use href="#p" x="686" y="624"/><use href="#p" x="685" y="625"/><use href="#p" x="632" y="602"/><use href="#p" x="669" y="657"/><use href="#p" x="614" y="669"/><use href="#p" x="650" y="655"/><use href="#p" x="661" y="665"/><use href="#p" x="670" y="602"/><use href="#p" x="645" y="602"/><use href="#p" x="659" y="582"/><use href="#p" x="613" y="641"/><use href="#p" x="611" y="628"/><use href="#p" x="607" y="669"/><use href="#p" x="616" y="607"/><use href="#p" x="600" y="579"/><use href="#p" x="686" y="643"/><use href="#p" x="593" y="588"/><use href="#p" x="632" y="636"/><use href="#p" x="643" y="658"/><use href="#p" x="644" y="605"/><use href="#p" x="618" y="649"/><use href="#p" x="639" y="582"/><use href="#p" x="586" y="615"/><use href="#p" x="679" y="651"/><use href="#p" x="673" y="620"/><use href="#p" x="654" y="660"/><use href="#p" x="686" y="621"/><use href="#p" x="634" y="651"/><use href="#p" x="673" y="593"/><use href="#p" x="645" y="656"/><use href="#p" x="587" y="631"/><use href="#p" x="637" y="638"/><use href="#p" x="605" y="623"/><use href="#p" x="616" y="635"/><use href="#p" x="631" y="605"/><use href="#p" x="661" y="629"/><use href="#p" x="668" y="667"/><use href="#p" x="628" y="625"/><use href="#p" x="681" y="643"/><use href="#p" x="585" y="637"/><use href="#p" x="651" y="602"/><use href="#p" x="634" y="669"/><use href="#p" x="661" y="598"/><use href="#p" x="673" y="599"/><use href="#p" x="665" y="631"/><use href="#p" x="641" y="607"/><use href="#p" x="595" y="668"/><use href="#p" x="632" y="653"/><use href="#p" x="674" y="666"/><use href="#p" x="642" y="591"/><use href="#p" x="585" y="641"/><use href="#p" x="683" y="636"/><use href="#p" x="603" y="646"/><use href="#p" x="610" y="654"/><use href="#p" x="628" y="622"/><use href="#p" x="589" y="657"/><use href="#p" x="638" y="603"/><use href="#p" x="641" y="632"/><use href="#p" x="585" y="602"/><use href="#p" x="642" y="619"/><use href="#p" x="594" y="646"/><use href="#p" x="677" y="668"/><use href="#p" x="626" y="647"/><use href="#p" x="685" y="606"/><use href="#p" x="687" y="590"/><use href="#p" x="605" y="621"/><use href="#p" x="669" y="637"/><use href="#p" x="638" y="561"/><use href="#p" x="689" y="610"/><use href="#p" x="626" y="613"/><use href="#p" x="658" y="617"/><use href="#p" x="662" y="621"/><use href="#p" x="686" y="618"/><use href="#p" x="666" y="647"/><use href="#p" x="599" y="569"/><use href="#p" x="611" y="612"/><use href="#p" x="587" y="601"/><use href="#p" x="623" y="602"/><use href="#p" x="667" y="658"/><use href="#p" x="682" y="604"/><use href="#p" x="619" y="640"/><use href="#p" x="631" y="592"/><use href="#p" x="654" y="660"/><use href="#p" x="652" y="645"/><use href="#p" x="638" y="599"/><use href="#p" x="585" y="620"/><use href="#p" x="673" y="606"/><use href="#p" x="687" y="629"/><use href="#p" x="640" y="597"/><use href="#p" x="680" y="577"/><use href="#p" x="661" y="607"/><use href="#p" x="670" y="658"/><use href="#p" x="595" y="618"/><use href="#p" x="687" y="647"/><use href="#p" x="599" y="661"/><use href="#p" x="644" y="639"/><use href="#p" x="608" y="596"/><use href="#p" x="634" y="601"/><use href="#p" x="664" y="633"/><use href="#p" x="608" y="635"/><use href="#p" x="651" y="649"/><use href="#p" x="605" y="620"/><use href="#p" x="616" y="575"/><use href="#p" x="625" y="625"/><use href="#p" x="657" y="640"/><use href="#p" x="632" y="646"/><use href="#p" x="676" y="625"/><use href="#p" x="595" y="596"/><use href="#p" x="610" y="621"/><use href="#p" x="626" y="634"/><use href="#p" x="660" y="616"/><use href="#p" x="592" y="608"/><use href="#p" x="600" y="648"/><use href="#p" x="669" y="621"/><use href="#p" x="664" y="639"/><use href="#p" x="637" y="643"/><use href="#p" x="636" y="623"/><use href="#p" x="672" y="643"/><use href="#p" x="662" y="618"/><use href="#p" x="613" y="646"/><use href="#p" x="641" y="646"/><use href="#p" x="642" y="636"/><use href="#p" x="631" y="616"/><use href="#p" x="689" y="613"/><use href="#p" x="631" y="613"/><use href="#p" x="679" y="644"/><use href="#p" x="686" y="628"/><use href="#p" x="663" y="584"/><use href="#p" x="667" y="640"/><use href="#p" x="638" y="594"/><use href="#p" x="672" y="619"/><use href="#p" x="595" y="644"/><use href="#p" x="673" y="596"/><use href="#p" x="649" y="659"/><use href="#p" x="644" y="615"/><use href="#p" x="673" y="605"/><use href="#p" x="586" y="604"/><use href="#p" x="685" y="660"/><use href="#p" x="655" y="669"/><use href="#p" x="623" y="627"/><use href="#p" x="690" y="598"/><use href="#p" x="670" y="624"/><use href="#p" x="591" y="667"/><use href="#p" x="663" y="583"/><use href="#p" x="610" y="653"/><use href="#p" x="601" y="617"/><use href="#p" x="615" y="626"/><use href="#p" x="687" y="659"/><use href="#p" x="675" y="632"/><use href="#p" x="633" y="605"/><use href="#p" x="661" y="668"/><use href="#p" x="596" y="552"/><use href="#p" x="601" y="645"/><use href="#p" x="603" y="652"/><use href="#p" x="635" y="592"/><use href="#p" x="618" y="622"/><use href="#p" x="610" y="629"/><use href="#p" x="633" y="646"/><use href="#p" x="623" y="656"/><use href="#p" x="662" y="606"/><use href="#p" x="682" y="599"/><use href="#p" x="674" y="658"/><use href="#p" x="601" y="641"/><use href="#p" x="686" y="670"/><use href="#p" x="638" y="669"/><use href="#p" x="664" y="627"/><use href="#p" x="617" y="652"/><use href="#p" x="608" y="644"/><use href="#p" x="671" y="645"/><use href="#p" x="681" y="617"/><use href="#p" x="636" y="651"/><use href="#p" x="643" y="604"/><use href="#p" x="614" y="648"/><use href="#p" x="657" y="613"/><use href="#p" x="648" y="630"/><use href="#p" x="589" y="598"/><use href="#p" x="677" y="635"/><use href="#p" x="596" y="628"/><use href="#p" x="647" y="637"/><use href="#p" x="634" y="594"/><use href="#p" x="625" y="599"/><use href="#p" x="595" y="642"/><use href="#p" x="682" y="649"/><use href="#p" x="633" y="617"/><use href="#p" x="675" y="667"/><use href="#p" x="662" y="625"/><use href="#p" x="590" y="573"/><use href="#p" x="686" y="596"/><use href="#p" x="648" y="607"/><use href="#p" x="595" y="670"/><use href="#p" x="633" y="622"/><use href="#p" x="650" y="668"/><use href="#p" x="601" y="614"/><use href="#p" x="682" y="620"/><use href="#p" x="687" y="628"/><use href="#p" x="674" y="615"/><use href="#p" x="609" y="626"/><use href="#p" x="623" y="597"/><use href="#p" x="626" y="625"/><use href="#p" x="630" y="645"/><use href="#p" x="661" y="648"/><use href="#p" x="670" y="598"/><use href="#p" x="677" y="605"/><use href="#p" x="627" y="653"/><use href="#p" x="690" y="649"/><use href="#p" x="667" y="633"/><use href="#p" x="607" y="658"/><use href="#p" x="675" y="594"/><use href="#p" x="688" y="660"/><use href="#p" x="647" y="626"/><use href="#p" x="676" y="658"/><use href="#p" x="687" y="604"/><use href="#p" x="648" y="631"/><use href="#p" x="611" y="601"/><use href="#p" x="654" y="653"/><use href="#p" x="640" y="636"/><use href="#p" x="586" y="614"/><use href="#p" x="654" y="619"/><use href="#p" x="677" y="630"/><use href="#p" x="624" y="610"/><use href="#p" x="684" y="627"/><use href="#p" x="601" y="669"/><use href="#p" x="636" y="626"/><use href="#p" x="644" y="620"/><use href="#p" x="678" y="647"/><use href="#p" x="615" y="605"/><use href="#p" x="674" y="590"/><use href="#p" x="586" y="634"/><use href="#p" x="654" y="670"/><use href="#p" x="591" y="591"/><use href="#p" x="590" y="659"/><use href="#p" x="602" y="614"/><use href="#p" x="620" y="658"/><use href="#p" x="686" y="618"/><use href="#p" x="601" y="651"/><use href="#p" x="647" y="658"/><use href="#p" x="680" y="614"/><use href="#p" x="640" y="588"/><use href="#p" x="623" y="669"/><use href="#p" x="639" y="600"/><use href="#p" x="607" y="574"/><use href="#p" x="614" y="590"/><use href="#p" x="640" y="651"/><use href="#p" x="589" y="654"/><use href="#p" x="636" y="598"/><use href="#p" x="684" y="648"/><use href="#p" x="622" y="659"/><use href="#p" x="620" y="625"/><use href="#p" x="687" y="584"/><use href="#p" x="673" y="599"/><use href="#p" x="594" y="636"/><use href="#p" x="589" y="603"/><use href="#p" x="584" y="594"/><use href="#p" x="686" y="669"/><use href="#p" x="603" y="569"/><use href="#p" x="623" y="659"/><use href="#p" x="594" y="670"/><use href="#p" x="685" y="590"/><use href="#p" x="639" y="614"/><use href="#p" x="599" y="636"/><use href="#p" x="651" y="594"/><use href="#p" x="596" y="627"/><use href="#p" x="623" y="609"/><use href="#p" x="671" y="617"/><use href="#p" x="601" y="603"/><use href="#p" x="656" y="647"/><use href="#p" x="606" y="666"/><use href="#p" x="625" y="608"/><use href="#p" x="682" y="588"/><use href="#p" x="588" y="638"/><use href="#p" x="584" y="625"/><use href="#p" x="590" y="637"/><use href="#p" x="661" y="612"/><use href="#p" x="664" y="611"/><use href="#p" x="607" y="625"/><use href="#p" x="680" y="648"/><use href="#p" x="687" y="670"/><use href="#p" x="659" y="617"/><use href="#p" x="659" y="617"/><use href="#p" x="605" y="638"/><use href="#p" x="674" y="625"/><use href="#p" x="644" y="611"/><use href="#p" x="589" y="617"/><use href="#p" x="590" y="581"/><use href="#p" x="653" y="619"/><use href="#p" x="643" y="643"/><use href="#p" x="600" y="631"/><use href="#p" x="608" y="631"/><use href="#p" x="661" y="648"/><use href="#p" x="662" y="640"/><use href="#p" x="608" y="616"/><use href="#p" x="598" y="669"/><use href="#p" x="652" y="657"/><use href="#p" x="644" y="611"/><use href="#p" x="659" y="620"/><use href="#p" x="672" y="610"/><use href="#p" x="635" y="580"/><use href="#p" x="592" y="605"/><use href="#p" x="685" y="616"/><use href="#p" x="612" y="629"/><use href="#p" x="588" y="669"/><use href="#p" x="653" y="653"/><use href="#p" x="649" y="580"/><use href="#p" x="622" y="630"/><use href="#p" x="656" y="628"/><use href="#p" x="628" y="669"/><use href="#p" x="618" y="653"/><use href="#p" x="621" y="623"/><use href="#p" x="632" y="644"/><use href="#p" x="589" y="646"/><use href="#p" x="637" y="670"/><use href="#p" x="630" y="598"/><use href="#p" x="670" y="644"/><use href="#p" x="660" y="618"/><use href="#p" x="611" y="659"/><use href="#p" x="627" y="573"/><use href="#p" x="667" y="670"/><use href="#p" x="607" y="618"/><use href="#p" x="586" y="622"/><use href="#p" x="676" y="606"/><use href="#p" x="621" y="625"/><use href="#p" x="631" y="626"/><use href="#p" x="594" y="670"/><use href="#p" x="650" y="614"/><use href="#p" x="661" y="658"/><use href="#p" x="681" y="645"/><use href="#p" x="660" y="667"/><use href="#p" x="590" y="584"/><use href="#p" x="608" y="650"/><use href="#p" x="687" y="669"/><use href="#p" x="653" y="669"/><use href="#p" x="637" y="628"/><use href="#p" x="600" y="588"/><use href="#p" x="671" y="651"/><use href="#p" x="636" y="659"/><use href="#p" x="603" y="632"/><use href="#p" x="637" y="634"/><use href="#p" x="672" y="619"/><use href="#p" x="648" y="592"/><use href="#p" x="586" y="616"/><use href="#p" x="654" y="653"/><use href="#p" x="687" y="591"/><use href="#p" x="618" y="612"/><use href="#p" x="586" y="599"/><use href="#p" x="628" y="628"/><use href="#p" x="601" y="604"/><use href="#p" x="595" y="607"/><use href="#p" x="676" y="627"/><use href="#p" x="651" y="624"/><use href="#p" x="645" y="590"/><use href="#p" x="659" y="606"/><use href="#p" x="602" y="583"/><use href="#p" x="656" y="596"/><use href="#p" x="593" y="642"/><use href="#p" x="668" y="632"/><use href="#p" x="589" y="610"/><use href="#p" x="629" y="632"/><use href="#p" x="610" y="635"/><use href="#p" x="680" y="618"/><use href="#p" x="690" y="669"/><use href="#p" x="649" y="648"/><use href="#p" x="620" y="631"/><use href="#p" x="623" y="621"/><use href="#p" x="659" y="608"/><use href="#p" x="629" y="649"/><use href="#p" x="618" y="643"/><use href="#p" x="593" y="619"/><use href="#p" x="658" y="635"/><use href="#p" x="669" y="625"/><use href="#p" x="596" y="614"/><use href="#p" x="632" y="608"/><use href="#p" x="588" y="658"/><use href="#p" x="620" y="607"/><use href="#p" x="688" y="668"/><use href="#p" x="598" y="622"/><use href="#p" x="680" y="597"/><use href="#p" x="674" y="575"/><use href="#p" x="679" y="644"/><use href="#p" x="597" y="626"/><use href="#p" x="673" y="623"/><use href="#p" x="667" y="603"/><use href="#p" x="585" y="626"/><use href="#p" x="657" y="627"/><use href="#p" x="674" y="625"/><use href="#p" x="605" y="616"/><use href="#p" x="628" y="651"/><use href="#p" x="604" y="633"/><use href="#p" x="640" y="550"/><use href="#p" x="618" y="605"/><use href="#p" x="591" y="601"/><use href="#p" x="592" y="636"/><use href="#p" x="596" y="626"/><use href="#p" x="617" y="645"/><use href="#p" x="639" y="640"/><use href="#p" x="586" y="623"/><use href="#p" x="686" y="648"/><use href="#p" x="644" y="648"/><use href="#p" x="587" y="571"/><use href="#p" x="661" y="668"/><use href="#p" x="640" y="668"/><use href="#p" x="606" y="589"/><use href="#p" x="682" y="627"/><use href="#p" x="598" y="649"/><use href="#p" x="609" y="634"/><use href="#p" x="634" y="634"/><use href="#p" x="638" y="641"/><use href="#p" x="642" y="668"/><use href="#p" x="618" y="612"/><use href="#p" x="681" y="610"/><use href="#p" x="684" y="652"/><use href="#p" x="606" y="596"/><use href="#p" x="599" y="643"/><use href="#p" x="619" y="669"/><use href="#p" x="680" y="624"/><use href="#p" x="661" y="650"/><use href="#p" x="618" y="648"/><use href="#p" x="641" y="608"/><use href="#p" x="612" y="669"/><use href="#p" x="628" y="653"/><use href="#p" x="684" y="658"/><use href="#p" x="584" y="611"/><use href="#p" x="610" y="649"/><use href="#p" x="665" y="602"/><use href="#p" x="680" y="608"/><use href="#p" x="600" y="595"/><use href="#p" x="586" y="557"/><use href="#p" x="672" y="621"/><use href="#p" x="594" y="619"/><use href="#p" x="598" y="605"/><use href="#p" x="635" y="614"/><use href="#p" x="629" y="644"/><use href="#p" x="585" y="587"/><use href="#p" x="637" y="592"/><use href="#p" x="617" y="602"/><use href="#p" x="641" y="668"/><use href="#p" x="618" y="583"/><use href="#p" x="586" y="632"/><use href="#p" x="651" y="640"/><use href="#p" x="619" y="659"/><use href="#p" x="653" y="636"/><use href="#p" x="665" y="604"/><use href="#p" x="606" y="652"/><use href="#p" x="631" y="613"/><use href="#p" x="611" y="624"/><use href="#p" x="673" y="594"/><use href="#p" x="597" y="648"/><use href="#p" x="684" y="614"/><use href="#p" x="591" y="648"/><use href="#p" x="623" y="637"/><use href="#p" x="651" y="605"/><use href="#p" x="677" y="669"/><use href="#p" x="680" y="604"/><use href="#p" x="592" y="598"/><use href="#p" x="589" y="653"/><use href="#p" x="604" y="652"/><use href="#p" x="592" y="669"/><use href="#p" x="618" y="628"/><use href="#p" x="589" y="628"/><use href="#p" x="666" y="636"/><use href="#p" x="633" y="574"/><use href="#p" x="667" y="653"/><use href="#p" x="607" y="627"/><use href="#p" x="624" y="651"/><use href="#p" x="687" y="640"/><use href="#p" x="599" y="616"/><use href="#p" x="593" y="658"/><use href="#p" x="588" y="669"/><use href="#p" x="652" y="623"/><use href="#p" x="588" y="658"/><use href="#p" x="600" y="643"/><use href="#p" x="642" y="658"/><use href="#p" x="677" y="599"/><use href="#p" x="587" y="653"/><use href="#p" x="670" y="659"/><use href="#p" x="619" y="659"/><use href="#p" x="679" y="606"/><use href="#p" x="592" y="582"/><use href="#p" x="644" y="630"/><use href="#p" x="614" y="603"/><use href="#p" x="685" y="652"/><use href="#p" x="591" y="599"/><use href="#p" x="669" y="668"/><use href="#p" x="676" y="623"/><use href="#p" x="631" y="623"/><use href="#p" x="589" y="639"/><use href="#p" x="640" y="616"/><use href="#p" x="609" y="651"/><use href="#p" x="599" y="670"/><use href="#p" x="667" y="594"/><use href="#p" x="647" y="666"/><use href="#p" x="613" y="669"/><use href="#p" x="608" y="657"/><use href="#p" x="605" y="667"/><use href="#p" x="665" y="619"/><use href="#p" x="595" y="646"/><use href="#p" x="632" y="613"/><use href="#p" x="674" y="555"/><use href="#p" x="654" y="649"/><use href="#p" x="584" y="668"/><use href="#p" x="601" y="659"/><use href="#p" x="652" y="579"/><use href="#p" x="603" y="650"/><use href="#p" x="642" y="668"/><use href="#p" x="671" y="658"/><use href="#p" x="614" y="639"/><use href="#p" x="665" y="651"/><use href="#p" x="684" y="613"/><use href="#p" x="588" y="618"/><use href="#p" x="675" y="646"/><use href="#p" x="628" y="608"/><use href="#p" x="688" y="649"/><use href="#p" x="592" y="592"/><use href="#p" x="685" y="582"/><use href="#p" x="592" y="568"/><use href="#p" x="642" y="607"/><use href="#p" x="637" y="607"/><use href="#p" x="632" y="652"/><use href="#p" x="592" y="585"/><use href="#p" x="689" y="569"/><use href="#p" x="592" y="599"/><use href="#p" x="675" y="593"/><use href="#p" x="632" y="670"/><use href="#p" x="589" y="599"/><use href="#p" x="625" y="645"/><use href="#p" x="643" y="643"/><use href="#p" x="659" y="607"/><use href="#p" x="603" y="658"/><use href="#p" x="608" y="627"/><use href="#p" x="633" y="608"/><use href="#p" x="624" y="668"/><use href="#p" x="606" y="613"/><use href="#p" x="600" y="602"/><use href="#p" x="675" y="658"/><use href="#p" x="671" y="642"/><use href="#p" x="591" y="582"/><use href="#p" x="649" y="670"/><use href="#p" x="634" y="667"/><use href="#p" x="666" y="604"/><use href="#p" x="620" y="558"/><use href="#p" x="600" y="592"/><use href="#p" x="585" y="669"/><use href="#p" x="664" y="633"/><use href="#p" x="586" y="642"/><use href="#p" x="638" y="668"/><use href="#p" x="682" y="659"/><use href="#p" x="652" y="637"/><use href="#p" x="599" y="623"/><use href="#p" x="645" y="634"/><use href="#p" x="634" y="644"/><use href="#p" x="593" y="622"/><use href="#p" x="682" y="596"/><use href="#p" x="613" y="629"/><use href="#p" x="633" y="596"/><use href="#p" x="620" y="618"/><use href="#p" x="598" y="631"/><use href="#p" x="684" y="642"/><use href="#p" x="632" y="628"/><use href="#p" x="638" y="648"/><use href="#p" x="586" y="609"/><use href="#p" x="613" y="586"/><use href="#p" x="618" y="649"/><use href="#p" x="621" y="610"/><use href="#p" x="650" y="631"/><use href="#p" x="662" y="635"/><use href="#p" x="686" y="617"/><use href="#p" x="631" y="657"/><use href="#p" x="663" y="656"/><use href="#p" x="619" y="627"/><use href="#p" x="644" y="633"/><use href="#p" x="674" y="648"/><use href="#p" x="589" y="613"/><use href="#p" x="609" y="632"/><use href="#p" x="677" y="607"/><use href="#p" x="633" y="618"/><use href="#p" x="590" y="596"/><use href="#p" x="666" y="640"/><use href="#p" x="641" y="636"/><use href="#p" x="592" y="648"/><use href="#p" x="622" y="614"/><use href="#p" x="634" y="641"/><use href="#p" x="642" y="604"/><use href="#p" x="589" y="583"/><use href="#p" x="637" y="574"/><use href="#p" x="606" y="606"/><use href="#p" x="604" y="601"/><use href="#p" x="635" y="626"/><use href="#p" x="688" y="641"/><use href="#p" x="591" y="649"/><use href="#p" x="641" y="599"/><use href="#p" x="633" y="659"/><use href="#p" x="599" y="651"/><use href="#p" x="629" y="597"/><use href="#p" x="629" y="569"/><use href="#p" x="651" y="612"/><use href="#p" x="655" y="610"/><use href="#p" x="614" y="639"/><use href="#p" x="656" y="657"/><use href="#p" x="588" y="648"/><use href="#p" x="672" y="567"/><use href="#p" x="590" y="607"/><use href="#p" x="672" y="629"/><use href="#p" x="603" y="600"/><use href="#p" x="682" y="575"/><use href="#p" x="624" y="659"/><use href="#p" x="664" y="652"/><use href="#p" x="638" y="613"/><use href="#p" x="634" y="657"/><use href="#p" x="671" y="667"/><use href="#p" x="654" y="617"/><use href="#p" x="664" y="617"/><use href="#p" x="599" y="624"/><use href="#p" x="594" y="645"/><use href="#p" x="610" y="582"/><use href="#p" x="599" y="619"/><use href="#p" x="618" y="643"/><use href="#p" x="594" y="594"/><use href="#p" x="672" y="600"/><use href="#p" x="667" y="644"/><use href="#p" x="619" y="656"/><use href="#p" x="650" y="611"/><use href="#p" x="607" y="612"/><use href="#p" x="589" y="657"/><use href="#p" x="589" y="552"/><use href="#p" x="672" y="632"/><use href="#p" x="682" y="650"/><use href="#p" x="613" y="656"/><use href="#p" x="674" y="666"/><use href="#p" x="637" y="657"/><use href="#p" x="622" y="586"/><use href="#p" x="595" y="580"/><use href="#p" x="594" y="599"/><use href="#p" x="690" y="643"/><use href="#p" x="689" y="592"/><use href="#p" x="675" y="655"/><use href="#p" x="613" y="604"/><use href="#p" x="591" y="626"/><use href="#p" x="626" y="625"/><use href="#p" x="609" y="618"/><use href="#p" x="666" y="652"/><use href="#p" x="636" y="624"/><use href="#p" x="612" y="627"/><use href="#p" x="672" y="628"/><use href="#p" x="675" y="668"/><use href="#p" x="592" y="609"/><use href="#p" x="665" y="622"/><use href="#p" x="638" y="634"/><use href="#p" x="671" y="602"/><use href="#p" x="633" y="604"/><use href="#p" x="640" y="658"/><use href="#p" x="604" y="647"/><use href="#p" x="611" y="607"/><use href="#p" x="605" y="616"/><use href="#p" x="605" y="630"/><use href="#p" x="651" y="669"/><use href="#p" x="652" y="654"/><use href="#p" x="597" y="637"/><use href="#p" x="656" y="598"/><use href="#p" x="652" y="616"/><use href="#p" x="682" y="589"/><use href="#p" x="589" y="628"/><use href="#p" x="666" y="547"/><use href="#p" x="618" y="657"/><use href="#p" x="660" y="589"/><use href="#p" x="665" y="643"/><use href="#p" x="649" y="572"/><use href="#p" x="596" y="650"/><use href="#p" x="600" y="640"/><use href="#p" x="654" y="617"/><use href="#p" x="677" y="587"/><use href="#p" x="638" y="619"/><use href="#p" x="605" y="627"/><use href="#p" x="673" y="637"/><use href="#p" x="589" y="658"/><use href="#p" x="587" y="561"/><use href="#p" x="628" y="658"/><use href="#p" x="585" y="659"/><use href="#p" x="604" y="609"/><use href="#p" x="672" y="666"/><use href="#p" x="635" y="650"/><use href="#p" x="599" y="576"/><use href="#p" x="675" y="621"/><use href="#p" x="598" y="588"/><use href="#p" x="666" y="601"/><use href="#p" x="661" y="654"/><use href="#p" x="686" y="621"/><use href="#p" x="609" y="641"/><use href="#p" x="634" y="595"/><use href="#p" x="683" y="577"/><use href="#p" x="639" y="604"/><use href="#p" x="639" y="638"/><use href="#p" x="651" y="637"/><use href="#p" x="609" y="623"/><use href="#p" x="590" y="621"/><use href="#p" x="642" y="618"/><use href="#p" x="663" y="627"/><use href="#p" x="607" y="637"/><use href="#p" x="586" y="648"/><use href="#p" x="596" y="639"/><use href="#p" x="653" y="616"/><use href="#p" x="591" y="661"/><use href="#p" x="635" y="620"/><use href="#p" x="600" y="622"/><use href="#p" x="675" y="606"/><use href="#p" x="585" y="566"/><use href="#p" x="585" y="640"/><use href="#p" x="663" y="652"/><use href="#p" x="594" y="658"/><use href="#p" x="635" y="589"/><use href="#p" x="662" y="580"/><use href="#p" x="671" y="639"/><use href="#p" x="634" y="594"/><use href="#p" x="685" y="586"/><use href="#p" x="646" y="640"/><use href="#p" x="598" y="621"/><use href="#p" x="609" y="640"/><use href="#p" x="657" y="626"/><use href="#p" x="676" y="643"/><use href="#p" x="683" y="629"/><use href="#p" x="656" y="657"/><use href="#p" x="631" y="668"/><use href="#p" x="617" y="640"/><use href="#p" x="677" y="594"/><use href="#p" x="688" y="658"/><use href="#p" x="589" y="641"/><use href="#p" x="660" y="610"/><use href="#p" x="652" y="625"/><use href="#p" x="590" y="617"/><use href="#p" x="622" y="659"/><use href="#p" x="639" y="636"/><use href="#p" x="588" y="651"/><use href="#p" x="668" y="640"/><use href="#p" x="636" y="670"/><use href="#p" x="685" y="594"/><use href="#p" x="648" y="617"/><use href="#p" x="621" y="616"/><use href="#p" x="583" y="658"/><use href="#p" x="632" y="620"/><use href="#p" x="634" y="638"/><use href="#p" x="656" y="591"/><use href="#p" x="626" y="624"/><use href="#p" x="688" y="632"/><use href="#p" x="685" y="629"/><use href="#p" x="675" y="597"/><use href="#p" x="656" y="628"/><use href="#p" x="652" y="642"/><use href="#p" x="685" y="629"/><use href="#p" x="666" y="599"/><use href="#p" x="654" y="660"/><use href="#p" x="599" y="668"/><use href="#p" x="644" y="637"/><use href="#p" x="678" y="625"/><use href="#p" x="668" y="596"/><use href="#p" x="629" y="629"/><use href="#p" x="632" y="646"/><use href="#p" x="653" y="590"/><use href="#p" x="651" y="618"/><use href="#p" x="633" y="607"/><use href="#p" x="598" y="653"/><use href="#p" x="632" y="576"/><use href="#p" x="588" y="570"/><use href="#p" x="635" y="670"/><use href="#p" x="667" y="600"/><use href="#p" x="609" y="617"/><use href="#p" x="670" y="669"/><use href="#p" x="613" y="668"/><use href="#p" x="585" y="593"/><use href="#p" x="646" y="602"/><use href="#p" x="612" y="668"/><use href="#p" x="632" y="658"/><use href="#p" x="637" y="658"/><use href="#p" x="620" y="643"/><use href="#p" x="648" y="605"/><use href="#p" x="643" y="649"/><use href="#p" x="612" y="668"/><use href="#p" x="668" y="606"/><use href="#p" x="600" y="635"/><use href="#p" x="605" y="612"/><use href="#p" x="610" y="581"/><use href="#p" x="658" y="658"/><use href="#p" x="602" y="654"/><use href="#p" x="640" y="650"/><use href="#p" x="629" y="656"/><use href="#p" x="673" y="564"/><use href="#p" x="650" y="586"/><use href="#p" x="583" y="636"/><use href="#p" x="587" y="653"/><use href="#p" x="619" y="573"/><use href="#p" x="604" y="603"/><use href="#p" x="632" y="642"/><use href="#p" x="644" y="580"/><use href="#p" x="629" y="603"/><use href="#p" x="587" y="605"/><use href="#p" x="623" y="636"/><use href="#p" x="618" y="646"/><use href="#p" x="641" y="646"/><use href="#p" x="597" y="577"/><use href="#p" x="671" y="648"/><use href="#p" x="636" y="647"/><use href="#p" x="607" y="647"/><use href="#p" x="584" y="588"/><use href="#p" x="594" y="648"/><use href="#p" x="645" y="654"/><use href="#p" x="631" y="593"/><use href="#p" x="622" y="597"/><use href="#p" x="610" y="609"/><use href="#p" x="666" y="667"/><use href="#p" x="624" y="626"/><use href="#p" x="620" y="667"/><use href="#p" x="636" y="608"/><use href="#p" x="654" y="617"/><use href="#p" x="590" y="552"/><use href="#p" x="587" y="647"/><use href="#p" x="660" y="626"/><use href="#p" x="608" y="615"/><use href="#p" x="674" y="625"/><use href="#p" x="687" y="623"/><use href="#p" x="607" y="598"/><use href="#p" x="636" y="603"/><use href="#p" x="646" y="572"/><use href="#p" x="594" y="595"/><use href="#p" x="665" y="643"/><use href="#p" x="671" y="592"/><use href="#p" x="602" y="638"/><use href="#p" x="652" y="651"/><use href="#p" x="615" y="641"/><use href="#p" x="669" y="667"/><use href="#p" x="664" y="625"/><use href="#p" x="585" y="561"/><use href="#p" x="613" y="556"/><use href="#p" x="627" y="551"/><use href="#p" x="650" y="550"/><use href="#p" x="675" y="555"/>
<use href="#p" x="809" y="608"/><use href="#p" x="835" y="566"/><use href="#p" x="792" y="617"/><use href="#p" x="767" y="588"/><use href="#p" x="795" y="651"/><use href="#p" x="848" y="620"/><use href="#p" x="777" y="634"/><use href="#p" x="822" y="609"/><use href="#p" x="811" y="658"/><use href="#p" x="859" y="633"/><use href="#p" x="854" y="670"/><use href="#p" x="825" y="603"/><use href="#p" x="765" y="607"/><use href="#p" x="801" y="594"/><use href="#p" x="774" y="617"/><use href="#p" x="792" y="628"/><use href="#p" x="842" y="610"/><use href="#p" x="848" y="619"/><use href="#p" x="805" y="626"/><use href="#p" x="790" y="657"/><use href="#p" x="762" y="621"/><use href="#p" x="835" y="567"/><use href="#p" x="840" y="653"/><use href="#p" x="788" y="626"/><use href="#p" x="805" y="619"/><use href="#p" x="793" y="574"/><use href="#p" x="788" y="630"/><use href="#p" x="833" y="590"/><use href="#p" x="851" y="596"/><use href="#p" x="856" y="630"/><use href="#p" x="856" y="625"/><use href="#p" x="859" y="599"/><use href="#p" x="822" y="644"/><use href="#p" x="828" y="623"/><use href="#p" x="767" y="636"/><use href="#p" x="855" y="606"/><use href="#p" x="847" y="607"/><use href="#p" x="814" y="670"/><use href="#p" x="766" y="563"/><use href="#p" x="862" y="600"/><use href="#p" x="868" y="668"/><use href="#p" x="779" y="669"/><use href="#p" x="780" y="585"/><use href="#p" x="765" y="603"/><use href="#p" x="791" y="670"/><use href="#p" x="864" y="592"/><use href="#p" x="848" y="637"/><use href="#p" x="866" y="668"/><use href="#p" x="802" y="653"/><use href="#p" x="847" y="605"/><use href="#p" x="829" y="659"/><use href="#p" x="838" y="660"/><use href="#p" x="789" y="646"/><use href="#p" x="766" y="643"/><use href="#p" x="774" y="632"/><use href="#p" x="840" y="646"/><use href="#p" x="767" y="595"/><use href="#p" x="807" y="588"/><use href="#p" x="852" y="603"/><use href="#p" x="814" y="667"/><use href="#p" x="796" y="604"/><use href="#p" x="861" y="576"/><use href="#p" x="816" y="621"/><use href="#p" x="841" y="595"/><use href="#p" x="821" y="635"/><use href="#p" x="819" y="645"/><use href="#p" x="769" y="615"/><use href="#p" x="789" y="647"/><use href="#p" x="767" y="607"/><use href="#p" x="830" y="642"/><use href="#p" x="778" y="617"/><use href="#p" x="805" y="669"/><use href="#p" x="771" y="599"/><use href="#p" x="814" y="608"/><use href="#p" x="850" y="569"/><use href="#p" x="834" y="571"/><use href="#p" x="780" y="604"/><use href="#p" x="850" y="654"/><use href="#p" x="860" y="575"/><use href="#p" x="850" y="661"/><use href="#p" x="840" y="634"/><use href="#p" x="775" y="669"/><use href="#p" x="854" y="627"/><use href="#p" x="859" y="636"/><use href="#p" x="767" y="598"/><use href="#p" x="797" y="634"/><use href="#p" x="833" y="649"/><use href="#p" x="820" y="647"/><use href="#p" x="793" y="637"/><use href="#p" x="806" y="581"/><use href="#p" x="776" y="609"/><use href="#p" x="822" y="659"/><use href="#p" x="840" y="644"/><use href="#p" x="807" y="640"/><use href="#p" x="838" y="635"/><use href="#p" x="767" y="667"/><use href="#p" x="820" y="659"/><use href="#p" x="841" y="605"/><use href="#p" x="823" y="668"/><use href="#p" x="773" y="631"/><use href="#p" x="769" y="607"/><use href="#p" x="775" y="599"/><use href="#p" x="774" y="601"/><use href="#p" x="852" y="657"/><use href="#p" x="836" y="580"/><use href="#p" x="781" y="615"/><use href="#p" x="846" y="586"/><use href="#p" x="866" y="669"/><use href="#p" x="821" y="649"/><use href="#p" x="854" y="657"/><use href="#p" x="812" y="668"/><use href="#p" x="824" y="591"/><use href="#p" x="801" y="668"/><use href="#p" x="816" y="576"/><use href="#p" x="821" y="624"/><use href="#p" x="798" y="645"/><use href="#p" x="802" y="598"/><use href="#p" x="827" y="611"/><use href="#p" x="813" y="646"/><use href="#p" x="781" y="564"/><use href="#p" x="843" y="649"/><use href="#p" x="845" y="669"/><use href="#p" x="778" y="603"/><use href="#p" x="834" y="616"/><use href="#p" x="843" y="601"/><use href="#p" x="842" y="614"/><use href="#p" x="782" y="669"/><use href="#p" x="841" y="622"/><use href="#p" x="807" y="569"/><use href="#p" x="818" y="656"/><use href="#p" x="777" y="646"/><use href="#p" x="786" y="593"/><use href="#p" x="778" y="647"/><use href="#p" x="864" y="641"/><use href="#p" x="868" y="611"/><use href="#p" x="849" y="599"/><use href="#p" x="809" y="590"/><use href="#p" x="771" y="633"/><use href="#p" x="868" y="615"/><use href="#p" x="785" y="596"/><use href="#p" x="848" y="635"/><use href="#p" x="771" y="666"/><use href="#p" x="778" y="669"/><use href="#p" x="775" y="562"/><use href="#p" x="817" y="661"/><use href="#p" x="764" y="645"/><use href="#p" x="817" y="605"/><use href="#p" x="779" y="581"/><use href="#p" x="868" y="669"/><use href="#p" x="765" y="631"/><use href="#p" x="816" y="646"/><use href="#p" x="833" y="670"/><use href="#p" x="772" y="660"/><use href="#p" x="773" y="598"/><use href="#p" x="776" y="612"/><use href="#p" x="865" y="565"/><use href="#p" x="850" y="594"/><use href="#p" x="848" y="620"/><use href="#p" x="815" y="616"/><use href="#p" x="815" y="637"/><use href="#p" x="866" y="667"/><use href="#p" x="849" y="618"/><use href="#p" x="859" y="618"/><use href="#p" x="845" y="637"/><use href="#p" x="777" y="610"/><use href="#p" x="791" y="580"/><use href="#p" x="777" y="670"/><use href="#p" x="765" y="596"/><use href="#p" x="835" y="648"/><use href="#p" x="789" y="590"/><use href="#p" x="819" y="578"/><use href="#p" x="773" y="658"/><use href="#p" x="865" y="609"/><use href="#p" x="793" y="581"/><use href="#p" x="772" y="578"/><use href="#p" x="864" y="590"/><use href="#p" x="811" y="638"/><use href="#p" x="822" y="670"/><use href="#p" x="848" y="615"/><use href="#p" x="787" y="650"/><use href="#p" x="786" y="652"/><use href="#p" x="824" y="615"/><use href="#p" x="861" y="585"/><use href="#p" x="801" y="596"/><use href="#p" x="780" y="669"/><use href="#p" x="824" y="669"/><use href="#p" x="813" y="595"/><use href="#p" x="847" y="584"/><use href="#p" x="811" y="648"/><use href="#p" x="860" y="607"/><use href="#p" x="771" y="658"/><use href="#p" x="773" y="614"/><use href="#p" x="788" y="595"/><use href="#p" x="819" y="603"/><use href="#p" x="838" y="630"/><use href="#p" x="826" y="654"/><use href="#p" x="767" y="592"/><use href="#p" x="831" y="637"/><use href="#p" x="801" y="599"/><use href="#p" x="767" y="623"/><use href="#p" x="819" y="604"/><use href="#p" x="768" y="631"/><use href="#p" x="868" y="644"/><use href="#p" x="798" y="604"/><use href="#p" x="789" y="608"/><use href="#p" x="793" y="606"/><use href="#p" x="773" y="648"/><use href="#p" x="830" y="611"/><use href="#p" x="858" y="654"/><use href="#p" x="798" y="583"/><use href="#p" x="850" y="667"/><use href="#p" x="783" y="625"/><use href="#p" x="812" y="595"/><use href="#p" x="783" y="635"/><use href="#p" x="804" y="641"/><use href="#p" x="781" y="587"/><use href="#p" x="808" y="642"/><use href="#p" x="817" y="667"/><use href="#p" x="809" y="653"/><use href="#p" x="832" y="655"/><use href="#p" x="791" y="580"/><use href="#p" x="840" y="568"/><use href="#p" x="802" y="583"/><use href="#p" x="850" y="610"/><use href="#p" x="811" y="579"/><use href="#p" x="860" y="644"/><use href="#p" x="816" y="573"/><use href="#p" x="859" y="615"/><use href="#p" x="849" y="667"/><use href="#p" x="853" y="612"/><use href="#p" x="823" y="635"/><use href="#p" x="809" y="668"/><use href="#p" x="809" y="615"/><use href="#p" x="860" y="653"/><use href="#p" x="818" y="574"/><use href="#p" x="784" y="608"/><use href="#p" x="783" y="668"/><use href="#p" x="856" y="623"/><use href="#p" x="825" y="670"/><use href="#p" x="865" y="625"/><use href="#p" x="799" y="630"/><use href="#p" x="769" y="660"/><use href="#p" x="779" y="625"/><use href="#p" x="764" y="653"/><use href="#p" x="773" y="584"/><use href="#p" x="808" y="620"/><use href="#p" x="799" y="655"/><use href="#p" x="763" y="603"/><use href="#p" x="821" y="620"/><use href="#p" x="823" y="653"/><use href="#p" x="804" y="584"/><use href="#p" x="797" y="600"/><use href="#p" x="768" y="608"/><use href="#p" x="854" y="659"/><use href="#p" x="786" y="657"/><use href="#p" x="821" y="669"/><use href="#p" x="800" y="567"/><use href="#p" x="826" y="654"/><use href="#p" x="777" y="658"/><use href="#p" x="789" y="559"/><use href="#p" x="810" y="636"/><use href="#p" x="859" y="609"/><use href="#p" x="823" y="605"/><use href="#p" x="771" y="597"/><use href="#p" x="765" y="668"/><use href="#p" x="827" y="653"/><use href="#p" x="772" y="601"/><use href="#p" x="835" y="657"/><use href="#p" x="805" y="607"/><use href="#p" x="817" y="631"/><use href="#p" x="834" y="638"/><use href="#p" x="855" y="615"/><use href="#p" x="848" y="597"/><use href="#p" x="840" y="607"/><use href="#p" x="819" y="635"/><use href="#p" x="866" y="594"/><use href="#p" x="763" y="668"/><use href="#p" x="810" y="658"/><use href="#p" x="815" y="659"/><use href="#p" x="766" y="648"/><use href="#p" x="786" y="642"/><use href="#p" x="810" y="636"/><use href="#p" x="763" y="670"/><use href="#p" x="801" y="602"/><use href="#p" x="785" y="658"/><use href="#p" x="778" y="612"/><use href="#p" x="768" y="600"/><use href="#p" x="866" y="586"/><use href="#p" x="774" y="646"/><use href="#p" x="867" y="632"/><use href="#p" x="805" y="637"/><use href="#p" x="807" y="611"/><use href="#p" x="821" y="586"/><use href="#p" x="838" y="621"/><use href="#p" x="848" y="654"/><use href="#p" x="790" y="629"/><use href="#p" x="787" y="640"/><use href="#p" x="775" y="638"/><use href="#p" x="868" y="600"/><use href="#p" x="792" y="596"/><use href="#p" x="803" y="611"/><use href="#p" x="778" y="669"/><use href="#p" x="858" y="658"/><use href="#p" x="828" y="641"/><use href="#p" x="853" y="634"/><use href="#p" x="792" y="567"/><use href="#p" x="773" y="645"/><use href="#p" x="836" y="610"/><use href="#p" x="782" y="608"/><use href="#p" x="809" y="668"/><use href="#p" x="787" y="634"/><use href="#p" x="784" y="646"/><use href="#p" x="823" y="668"/><use href="#p" x="784" y="614"/><use href="#p" x="795" y="643"/><use href="#p" x="849" y="594"/><use href="#p" x="813" y="597"/><use href="#p" x="775" y="640"/><use href="#p" x="841" y="645"/><use href="#p" x="778" y="597"/><use href="#p" x="792" y="602"/><use href="#p" x="861" y="563"/><use href="#p" x="782" y="619"/><use href="#p" x="848" y="623"/><use href="#p" x="834" y="669"/><use href="#p" x="862" y="621"/><use href="#p" x="868" y="645"/><use href="#p" x="782" y="608"/><use href="#p" x="772" y="627"/><use href="#p" x="810" y="622"/><use href="#p" x="838" y="669"/><use href="#p" x="855" y="652"/><use href="#p" x="807" y="608"/><use href="#p" x="857" y="622"/><use href="#p" x="793" y="644"/><use href="#p" x="792" y="644"/><use href="#p" x="790" y="589"/><use href="#p" x="804" y="591"/><use href="#p" x="833" y="620"/><use href="#p" x="861" y="668"/><use href="#p" x="806" y="625"/><use href="#p" x="822" y="570"/><use href="#p" x="764" y="661"/><use href="#p" x="762" y="641"/><use href="#p" x="861" y="581"/><use href="#p" x="867" y="636"/><use href="#p" x="832" y="667"/><use href="#p" x="791" y="628"/><use href="#p" x="831" y="597"/><use href="#p" x="841" y="586"/><use href="#p" x="841" y="620"/><use href="#p" x="847" y="652"/><use href="#p" x="831" y="566"/><use href="#p" x="784" y="658"/><use href="#p" x="797" y="659"/><use href="#p" x="769" y="666"/><use href="#p" x="787" y="632"/><use href="#p" x="782" y="666"/><use href="#p" x="842" y="668"/><use href="#p" x="842" y="599"/><use href="#p" x="840" y="645"/><use href="#p" x="772" y="651"/><use href="#p" x="856" y="627"/><use href="#p" x="864" y="621"/><use href="#p" x="860" y="660"/><use href="#p" x="785" y="654"/><use href="#p" x="781" y="557"/><use href="#p" x="804" y="667"/><use href="#p" x="813" y="659"/><use href="#p" x="787" y="592"/><use href="#p" x="843" y="659"/><use href="#p" x="808" y="608"/><use href="#p" x="762" y="658"/><use href="#p" x="821" y="604"/><use href="#p" x="786" y="644"/><use href="#p" x="782" y="580"/><use href="#p" x="861" y="589"/><use href="#p" x="843" y="654"/><use href="#p" x="789" y="652"/><use href="#p" x="820" y="602"/><use href="#p" x="867" y="669"/><use href="#p" x="855" y="604"/><use href="#p" x="822" y="618"/><use href="#p" x="792" y="653"/><use href="#p" x="814" y="610"/><use href="#p" x="773" y="605"/><use href="#p" x="771" y="659"/><use href="#p" x="856" y="573"/><use href="#p" x="777" y="625"/><use href="#p" x="766" y="622"/><use href="#p" x="766" y="630"/><use href="#p" x="790" y="601"/><use href="#p" x="837" y="606"/><use href="#p" x="865" y="570"/><use href="#p" x="828" y="636"/><use href="#p" x="857" y="629"/><use href="#p" x="832" y="593"/><use href="#p" x="850" y="660"/><use href="#p" x="851" y="599"/><use href="#p" x="777" y="636"/><use href="#p" x="867" y="630"/><use href="#p" x="781" y="570"/><use href="#p" x="853" y="621"/><use href="#p" x="856" y="638"/><use href="#p" x="784" y="648"/><use href="#p" x="789" y="604"/><use href="#p" x="789" y="647"/><use href="#p" x="867" y="651"/><use href="#p" x="791" y="592"/><use href="#p" x="802" y="617"/><use href="#p" x="858" y="602"/><use href="#p" x="826" y="631"/><use href="#p" x="847" y="594"/><use href="#p" x="764" y="643"/><use href="#p" x="811" y="610"/><use href="#p" x="854" y="602"/><use href="#p" x="782" y="643"/><use href="#p" x="839" y="607"/><use href="#p" x="850" y="644"/><use href="#p" x="801" y="643"/><use href="#p" x="809" y="598"/><use href="#p" x="817" y="669"/><use href="#p" x="816" y="646"/><use href="#p" x="802" y="668"/><use href="#p" x="800" y="608"/><use href="#p" x="827" y="668"/><use href="#p" x="845" y="669"/><use href="#p" x="845" y="588"/><use href="#p" x="837" y="640"/><use href="#p" x="839" y="627"/><use href="#p" x="786" y="655"/><use href="#p" x="868" y="630"/><use href="#p" x="833" y="575"/><use href="#p" x="766" y="597"/><use href="#p" x="783" y="606"/><use href="#p" x="855" y="614"/><use href="#p" x="772" y="647"/><use href="#p" x="837" y="611"/><use href="#p" x="770" y="621"/><use href="#p" x="795" y="563"/><use href="#p" x="810" y="583"/><use href="#p" x="809" y="644"/><use href="#p" x="823" y="668"/><use href="#p" x="799" y="625"/><use href="#p" x="848" y="641"/><use href="#p" x="863" y="668"/><use href="#p" x="851" y="607"/><use href="#p" x="825" y="606"/><use href="#p" x="776" y="610"/><use href="#p" x="829" y="621"/><use href="#p" x="847" y="619"/><use href="#p" x="859" y="566"/><use href="#p" x="843" y="642"/><use href="#p" x="825" y="582"/><use href="#p" x="858" y="666"/><use href="#p" x="816" y="631"/><use href="#p" x="866" y="635"/><use href="#p" x="799" y="600"/><use href="#p" x="792" y="659"/><use href="#p" x="861" y="668"/><use href="#p" x="844" y="660"/><use href="#p" x="863" y="661"/><use href="#p" x="819" y="600"/><use href="#p" x="772" y="650"/><use href="#p" x="838" y="644"/><use href="#p" x="830" y="589"/><use href="#p" x="793" y="611"/><use href="#p" x="835" y="615"/><use href="#p" x="807" y="587"/><use href="#p" x="818" y="567"/><use href="#p" x="832" y="604"/><use href="#p" x="781" y="632"/><use href="#p" x="795" y="604"/><use href="#p" x="790" y="589"/><use href="#p" x="848" y="669"/><use href="#p" x="837" y="623"/><use href="#p" x="811" y="596"/><use href="#p" x="847" y="635"/><use href="#p" x="764" y="596"/><use href="#p" x="799" y="619"/><use href="#p" x="787" y="642"/><use href="#p" x="830" y="599"/><use href="#p" x="789" y="629"/><use href="#p" x="807" y="610"/><use href="#p" x="843" y="670"/><use href="#p" x="868" y="652"/><use href="#p" x="771" y="653"/><use href="#p" x="809" y="669"/><use href="#p" x="790" y="592"/><use href="#p" x="821" y="642"/><use href="#p" x="856" y="667"/><use href="#p" x="795" y="603"/><use href="#p" x="818" y="660"/><use href="#p" x="803" y="634"/><use href="#p" x="815" y="659"/><use href="#p" x="812" y="644"/><use href="#p" x="859" y="589"/><use href="#p" x="829" y="617"/><use href="#p" x="811" y="640"/><use href="#p" x="843" y="668"/><use href="#p" x="803" y="618"/><use href="#p" x="791" y="575"/><use href="#p" x="823" y="670"/><use href="#p" x="795" y="561"/><use href="#p" x="811" y="585"/><use href="#p" x="842" y="659"/><use href="#p" x="865" y="594"/><use href="#p" x="768" y="617"/><use href="#p" x="867" y="617"/><use href="#p" x="801" y="637"/><use href="#p" x="800" y="636"/><use href="#p" x="852" y="588"/><use href="#p" x="815" y="632"/><use href="#p" x="832" y="609"/><use href="#p" x="776" y="666"/><use href="#p" x="828" y="570"/><use href="#p" x="817" y="648"/><use href="#p" x="776" y="641"/><use href="#p" x="809" y="630"/><use href="#p" x="762" y="648"/><use href="#p" x="852" y="565"/><use href="#p" x="823" y="596"/><use href="#p" x="824" y="642"/><use href="#p" x="860" y="623"/><use href="#p" x="864" y="658"/><use href="#p" x="828" y="581"/><use href="#p" x="771" y="650"/><use href="#p" x="864" y="668"/><use href="#p" x="828" y="625"/><use href="#p" x="841" y="667"/><use href="#p" x="856" y="668"/><use href="#p" x="770" y="613"/><use href="#p" x="839" y="590"/><use href="#p" x="773" y="670"/><use href="#p" x="862" y="641"/><use href="#p" x="809" y="632"/><use href="#p" x="767" y="567"/><use href="#p" x="853" y="599"/><use href="#p" x="854" y="666"/><use href="#p" x="769" y="669"/><use href="#p" x="788" y="610"/><use href="#p" x="763" y="650"/><use href="#p" x="864" y="614"/><use href="#p" x="815" y="657"/><use href="#p" x="771" y="661"/><use href="#p" x="831" y="595"/><use href="#p" x="808" y="610"/><use href="#p" x="786" y="581"/><use href="#p" x="828" y="604"/><use href="#p" x="866" y="618"/><use href="#p" x="793" y="624"/><use href="#p" x="783" y="644"/><use href="#p" x="783" y="641"/><use href="#p" x="818" y="615"/><use href="#p" x="845" y="668"/><use href="#p" x="818" y="614"/><use href="#p" x="868" y="617"/><use href="#p" x="764" y="647"/><use href="#p" x="826" y="616"/><use href="#p" x="782" y="604"/><use href="#p" x="859" y="612"/><use href="#p" x="780" y="668"/><use href="#p" x="785" y="668"/><use href="#p" x="803" y="607"/><use href="#p" x="819" y="604"/><use href="#p" x="777" y="603"/><use href="#p" x="860" y="616"/><use href="#p" x="863" y="575"/><use href="#p" x="844" y="640"/><use href="#p" x="863" y="619"/><use href="#p" x="793" y="637"/><use href="#p" x="835" y="605"/><use href="#p" x="862" y="623"/><use href="#p" x="815" y="647"/><use href="#p" x="777" y="593"/><use href="#p" x="825" y="669"/><use href="#p" x="855" y="578"/><use href="#p" x="860" y="640"/><use href="#p" x="859" y="659"/><use href="#p" x="857" y="669"/><use href="#p" x="841" y="657"/><use href="#p" x="809" y="614"/><use href="#p" x="843" y="655"/><use href="#p" x="860" y="593"/><use href="#p" x="819" y="668"/><use href="#p" x="802" y="647"/><use href="#p" x="788" y="609"/><use href="#p" x="799" y="604"/><use href="#p" x="785" y="669"/><use href="#p" x="775" y="564"/><use href="#p" x="853" y="577"/><use href="#p" x="820" y="657"/><use href="#p" x="822" y="605"/><use href="#p" x="778" y="619"/><use href="#p" x="820" y="657"/><use href="#p" x="833" y="640"/><use href="#p" x="808" y="647"/><use href="#p" x="786" y="631"/><use href="#p" x="799" y="623"/><use href="#p" x="792" y="611"/><use href="#p" x="810" y="609"/><use href="#p" x="787" y="578"/><use href="#p" x="836" y="622"/><use href="#p" x="867" y="623"/><use href="#p" x="811" y="597"/><use href="#p" x="827" y="576"/><use href="#p" x="764" y="635"/><use href="#p" x="830" y="636"/><use href="#p" x="839" y="628"/><use href="#p" x="798" y="652"/><use href="#p" x="823" y="601"/><use href="#p" x="777" y="659"/><use href="#p" x="785" y="669"/><use href="#p" x="781" y="598"/><use href="#p" x="827" y="598"/><use href="#p" x="821" y="591"/><use href="#p" x="841" y="651"/><use href="#p" x="859" y="640"/><use href="#p" x="771" y="594"/><use href="#p" x="787" y="619"/><use href="#p" x="867" y="652"/><use href="#p" x="862" y="577"/><use href="#p" x="864" y="613"/><use href="#p" x="775" y="603"/><use href="#p" x="817" y="623"/><use href="#p" x="852" y="606"/><use href="#p" x="810" y="607"/><use href="#p" x="763" y="607"/><use href="#p" x="777" y="598"/><use href="#p" x="768" y="599"/><use href="#p" x="792" y="613"/><use href="#p" x="861" y="599"/><use href="#p" x="839" y="623"/><use href="#p" x="858" y="650"/><use href="#p" x="829" y="614"/><use href="#p" x="850" y="596"/><use href="#p" x="830" y="643"/><use href="#p" x="859" y="668"/><use href="#p" x="837" y="669"/><use href="#p" x="812" y="610"/><use href="#p" x="826" y="653"/><use href="#p" x="769" y="606"/><use href="#p" x="769" y="600"/><use href="#p" x="811" y="613"/><use href="#p" x="814" y="658"/><use href="#p" x="780" y="623"/><use href="#p" x="841" y="565"/><use href="#p" x="810" y="605"/><use href="#p" x="804" y="584"/><use href="#p" x="838" y="600"/><use href="#p" x="783" y="597"/><use href="#p" x="867" y="574"/><use href="#p" x="828" y="667"/><use href="#p" x="772" y="643"/><use href="#p" x="807" y="657"/><use href="#p" x="786" y="636"/><use href="#p" x="818" y="615"/><use href="#p" x="834" y="623"/><use href="#p" x="775" y="633"/><use href="#p" x="804" y="660"/><use href="#p" x="835" y="627"/><use href="#p" x="771" y="604"/><use href="#p" x="810" y="579"/><use href="#p" x="816" y="608"/><use href="#p" x="821" y="608"/><use href="#p" x="820" y="655"/><use href="#p" x="823" y="653"/><use href="#p" x="821" y="643"/><use href="#p" x="789" y="595"/><use href="#p" x="856" y="615"/><use href="#p" x="853" y="593"/><use href="#p" x="783" y="661"/><use href="#p" x="820" y="587"/><use href="#p" x="771" y="658"/><use href="#p" x="776" y="596"/><use href="#p" x="824" y="586"/><use href="#p" x="836" y="583"/><use href="#p" x="858" y="626"/><use href="#p" x="767" y="638"/><use href="#p" x="860" y="655"/><use href="#p" x="843" y="668"/><use href="#p" x="840" y="645"/><use href="#p" x="853" y="616"/><use href="#p" x="771" y="603"/><use href="#p" x="838" y="630"/><use href="#p" x="792" y="595"/><use href="#p" x="782" y="667"/><use href="#p" x="864" y="658"/><use href="#p" x="768" y="630"/><use href="#p" x="863" y="583"/><use href="#p" x="845" y="616"/><use href="#p" x="830" y="609"/><use href="#p" x="853" y="652"/><use href="#p" x="805" y="659"/><use href="#p" x="796" y="617"/><use href="#p" x="843" y="601"/><use href="#p" x="858" y="595"/><use href="#p" x="855" y="633"/><use href="#p" x="831" y="620"/><use href="#p" x="843" y="618"/><use href="#p" x="839" y="644"/><use href="#p" x="789" y="623"/><use href="#p" x="864" y="645"/><use href="#p" x="785" y="607"/><use href="#p" x="822" y="651"/><use href="#p" x="839" y="610"/><use href="#p" x="771" y="622"/><use href="#p" x="797" y="573"/><use href="#p" x="794" y="659"/><use href="#p" x="829" y="658"/><use href="#p" x="838" y="592"/><use href="#p" x="765" y="649"/><use href="#p" x="836" y="629"/><use href="#p" x="842" y="658"/><use href="#p" x="804" y="607"/><use href="#p" x="856" y="620"/><use href="#p" x="852" y="647"/><use href="#p" x="777" y="659"/><use href="#p" x="860" y="589"/><use href="#p" x="806" y="592"/><use href="#p" x="847" y="618"/><use href="#p" x="854" y="638"/><use href="#p" x="854" y="588"/><use href="#p" x="791" y="660"/><use href="#p" x="765" y="562"/><use href="#p" x="763" y="620"/><use href="#p" x="837" y="583"/><use href="#p" x="796" y="586"/><use href="#p" x="860" y="574"/><use href="#p" x="791" y="668"/><use href="#p" x="860" y="626"/><use href="#p" x="854" y="612"/><use href="#p" x="771" y="615"/><use href="#p" x="854" y="625"/><use href="#p" x="828" y="634"/><use href="#p" x="838" y="646"/><use href="#p" x="841" y="634"/><use href="#p" x="763" y="636"/><use href="#p" x="801" y="580"/><use href="#p" x="863" y="647"/><use href="#p" x="826" y="658"/><use href="#p" x="763" y="578"/><use href="#p" x="791" y="667"/><use href="#p" x="766" y="604"/><use href="#p" x="765" y="574"/><use href="#p" x="832" y="636"/><use href="#p" x="829" y="600"/><use href="#p" x="777" y="637"/><use href="#p" x="866" y="595"/><use href="#p" x="862" y="569"/><use href="#p" x="818" y="629"/><use href="#p" x="777" y="669"/><use href="#p" x="786" y="621"/><use href="#p" x="840" y="640"/><use href="#p" x="784" y="643"/><use href="#p" x="798" y="631"/><use href="#p" x="832" y="633"/><use href="#p" x="785" y="625"/><use href="#p" x="773" y="669"/><use href="#p" x="854" y="620"/><use href="#p" x="868" y="621"/><use href="#p" x="855" y="592"/><use href="#p" x="767" y="643"/><use href="#p" x="841" y="614"/><use href="#p" x="770" y="561"/><use href="#p" x="810" y="660"/><use href="#p" x="847" y="583"/><use href="#p" x="848" y="565"/><use href="#p" x="854" y="597"/><use href="#p" x="809" y="566"/><use href="#p" x="801" y="648"/><use href="#p" x="798" y="602"/><use href="#p" x="806" y="652"/><use href="#p" x="832" y="631"/><use href="#p" x="797" y="652"/><use href="#p" x="798" y="613"/><use href="#p" x="852" y="623"/><use href="#p" x="776" y="563"/><use href="#p" x="823" y="632"/><use href="#p" x="803" y="669"/><use href="#p" x="814" y="658"/><use href="#p" x="808" y="621"/><use href="#p" x="773" y="613"/><use href="#p" x="769" y="618"/><use href="#p" x="809" y="668"/><use href="#p" x="783" y="657"/><use href="#p" x="802" y="597"/><use href="#p" x="788" y="598"/><use href="#p" x="766" y="658"/><use href="#p" x="836" y="592"/><use href="#p" x="813" y="668"/><use href="#p" x="818" y="600"/><use href="#p" x="802" y="648"/><use href="#p" x="767" y="670"/><use href="#p" x="859" y="667"/><use href="#p" x="777" y="670"/><use href="#p" x="868" y="668"/><use href="#p" x="794" y="652"/><use href="#p" x="826" y="642"/><use href="#p" x="857" y="609"/><use href="#p" x="805" y="616"/><use href="#p" x="841" y="643"/><use href="#p" x="812" y="593"/><use href="#p" x="772" y="611"/><use href="#p" x="770" y="604"/><use href="#p" x="841" y="659"/><use href="#p" x="849" y="592"/><use href="#p" x="786" y="627"/><use href="#p" x="834" y="659"/><use href="#p" x="765" y="627"/><use href="#p" x="826" y="658"/><use href="#p" x="852" y="628"/><use href="#p" x="865" y="607"/><use href="#p" x="837" y="635"/><use href="#p" x="806" y="653"/><use href="#p" x="824" y="660"/><use href="#p" x="821" y="606"/><use href="#p" x="845" y="668"/><use href="#p" x="865" y="668"/><use href="#p" x="820" y="658"/><use href="#p" x="819" y="628"/><use href="#p" x="804" y="626"/><use href="#p" x="861" y="608"/><use href="#p" x="842" y="598"/><use href="#p" x="826" y="628"/><use href="#p" x="819" y="653"/><use href="#p" x="789" y="643"/><use href="#p" x="773" y="648"/><use href="#p" x="795" y="670"/><use href="#p" x="830" y="610"/><use href="#p" x="851" y="597"/><use href="#p" x="766" y="621"/><use href="#p" x="804" y="652"/><use href="#p" x="783" y="565"/><use href="#p" x="771" y="609"/><use href="#p" x="823" y="649"/><use href="#p" x="826" y="634"/><use href="#p" x="813" y="564"/><use href="#p" x="796" y="619"/><use href="#p" x="835" y="654"/><use href="#p" x="826" y="627"/><use href="#p" x="781" y="651"/><use href="#p" x="851" y="566"/><use href="#p" x="770" y="631"/><use href="#p" x="841" y="636"/><use href="#p" x="810" y="561"/><use href="#p" x="807" y="652"/><use href="#p" x="808" y="587"/><use href="#p" x="782" y="595"/><use href="#p" x="786" y="659"/><use href="#p" x="824" y="640"/><use href="#p" x="836" y="613"/><use href="#p" x="763" y="665"/><use href="#p" x="772" y="668"/><use href="#p" x="852" y="579"/><use href="#p" x="811" y="634"/><use href="#p" x="838" y="598"/><use href="#p" x="852" y="631"/><use href="#p" x="827" y="627"/><use href="#p" x="847" y="668"/><use href="#p" x="822" y="600"/><use href="#p" x="797" y="577"/><use href="#p" x="792" y="583"/><use href="#p" x="777" y="669"/><use href="#p" x="792" y="600"/><use href="#p" x="774" y="646"/><use href="#p" x="822" y="589"/><use href="#p" x="776" y="600"/><use href="#p" x="799" y="657"/><use href="#p" x="797" y="623"/><use href="#p" x="804" y="627"/><use href="#p" x="789" y="670"/><use href="#p" x="798" y="597"/><use href="#p" x="822" y="588"/><use href="#p" x="868" y="660"/><use href="#p" x="817" y="632"/><use href="#p" x="811" y="632"/><use href="#p" x="818" y="637"/><use href="#p" x="803" y="641"/><use href="#p" x="807" y="568"/><use href="#p" x="868" y="633"/><use href="#p" x="838" y="654"/><use href="#p" x="824" y="602"/><use href="#p" x="794" y="643"/><use href="#p" x="766" y="631"/><use href="#p" x="827" y="613"/><use href="#p" x="814" y="637"/><use href="#p" x="806" y="604"/><use href="#p" x="781" y="616"/><use href="#p" x="845" y="582"/><use href="#p" x="819" y="619"/><use href="#p" x="858" y="595"/><use href="#p" x="812" y="659"/><use href="#p" x="774" y="652"/><use href="#p" x="848" y="602"/><use href="#p" x="778" y="588"/><use href="#p" x="827" y="606"/><use href="#p" x="838" y="649"/><use href="#p" x="798" y="620"/><use href="#p" x="826" y="622"/><use href="#p" x="801" y="630"/><use href="#p" x="866" y="659"/><use href="#p" x="839" y="611"/><use href="#p" x="831" y="598"/><use href="#p" x="848" y="650"/><use href="#p" x="768" y="646"/><use href="#p" x="819" y="599"/><use href="#p" x="808" y="646"/><use href="#p" x="801" y="622"/><use href="#p" x="765" y="547"/><use href="#p" x="858" y="554"/><use href="#p" x="858" y="558"/>
<path d="M530 494h393v1.1h-393zM530 494h1.1v183h-1.1zM921.1 494h1.9v183h-1.9zM530 539h393v2h-393zM530 675h393v2h-393z" fill="#333333"/>
<text x="650.7" y="526.4" font-size="23.47" fill="#1A1A1A" textLength="150.1" lengthAdjust="spacingAndGlyphs">__Clostridiales</text>
</g>
<g>
<rect x="937" y="494" width="393" height="46" fill="#D9D9D9"/>
<path d="M938 495h390v1h-389v43h-1z" fill="#E4E4E4"/>
<path d="M937 548h393v1h-393zM937 580h393v1h-393zM937 613h393v1h-393zM937 645h393v1h-393zM937 563h393v2h-393zM937 596h393v2h-393zM937 628h393v2h-393zM937 660h393v2h-393zM1043 540h2v137h-2zM1221 540h2v137h-2z" fill="#EBEBEB"/>
<path d="M1022.85 597.69 L1020.8 598.59 L1018.88 599.5 L1016.98 600.4 L1015.48 601.3 L1014.39 602.2 L1013.4 603.1 L1012.52 604 L1011.77 604.9 L1011.16 605.81 L1010.7 606.71 L1010.38 607.61 L1010.15 608.51 L1009.97 609.41 L1009.81 610.31 L1009.64 611.21 L1009.44 612.11 L1009.18 613.02 L1008.85 613.92 L1008.48 614.82 L1008.05 615.72 L1007.58 616.62 L1007.07 617.52 L1006.52 618.42 L1005.87 619.33 L1005.09 620.23 L1004.2 621.13 L1003.23 622.03 L1002.21 622.93 L1001.18 623.83 L1000.17 624.73 L999.2 625.63 L998.3 626.54 L997.51 627.44 L996.82 628.34 L996.17 629.24 L995.55 630.14 L994.96 631.04 L994.39 631.94 L993.83 632.85 L993.27 633.75 L992.7 634.65 L992.13 635.55 L991.61 636.45 L991.11 637.35 L990.61 638.25 L990.08 639.15 L989.5 640.06 L988.83 640.96 L988.06 641.86 L987.15 642.76 L986.09 643.66 L984.92 644.56 L983.65 645.46 L982.3 646.37 L980.88 647.27 L979.18 648.17 L977.17 649.07 L974.99 649.97 L972.79 650.87 L970.68 651.77 L968.82 652.67 L967.33 653.58 L966.1 654.48 L964.88 655.38 L963.81 656.28 L963.06 657.18 L962.77 658.08 L963.15 658.98 L964.12 659.89 L965.44 660.79 L966.95 661.69 L969.2 662.59 L972.08 663.49 L975.25 664.39 L978.37 665.29 L981.54 666.19 L984.89 667.1 L988.41 668 L992.07 668.9 L1096.18 668.9 L1099.85 668 L1103.37 667.1 L1106.71 666.19 L1109.88 665.29 L1113.01 664.39 L1116.18 663.49 L1119.06 662.59 L1121.3 661.69 L1122.81 660.79 L1124.14 659.89 L1125.11 658.98 L1125.48 658.08 L1125.19 657.18 L1124.44 656.28 L1123.38 655.38 L1122.16 654.48 L1120.93 653.58 L1119.44 652.67 L1117.57 651.77 L1115.47 650.87 L1113.26 649.97 L1111.09 649.07 L1109.08 648.17 L1107.38 647.27 L1105.95 646.37 L1104.6 645.46 L1103.33 644.56 L1102.16 643.66 L1101.11 642.76 L1100.19 641.86 L1099.42 640.96 L1098.76 640.06 L1098.17 639.15 L1097.64 638.25 L1097.14 637.35 L1096.64 636.45 L1096.12 635.55 L1095.56 634.65 L1094.99 633.75 L1094.43 632.85 L1093.86 631.94 L1093.29 631.04 L1092.7 630.14 L1092.09 629.24 L1091.44 628.34 L1090.74 627.44 L1089.95 626.54 L1089.06 625.63 L1088.09 624.73 L1087.07 623.83 L1086.04 622.93 L1085.03 622.03 L1084.06 621.13 L1083.17 620.23 L1082.38 619.33 L1081.74 618.42 L1081.19 617.52 L1080.67 616.62 L1080.2 615.72 L1079.78 614.82 L1079.4 613.92 L1079.08 613.02 L1078.82 612.11 L1078.61 611.21 L1078.45 610.31 L1078.29 609.41 L1078.11 608.51 L1077.88 607.61 L1077.56 606.71 L1077.1 605.81 L1076.48 604.9 L1075.73 604 L1074.86 603.1 L1073.87 602.2 L1072.78 601.3 L1071.28 600.4 L1069.38 599.5 L1067.46 598.59 L1065.41 597.69Z" fill="none" stroke="#333333" stroke-width="2" stroke-linejoin="miter" stroke-miterlimit="6"/>
<path d="M1214.03 587.71 L1213.35 588.75 L1212.66 589.79 L1211.94 590.84 L1211.23 591.88 L1210.52 592.92 L1209.8 593.96 L1209.05 595 L1208.28 596.05 L1207.45 597.09 L1206.57 598.13 L1205.61 599.17 L1204.56 600.22 L1203.45 601.26 L1202.29 602.3 L1201.1 603.34 L1199.89 604.38 L1198.68 605.43 L1197.47 606.47 L1196.29 607.51 L1195.05 608.55 L1193.77 609.6 L1192.47 610.64 L1191.19 611.68 L1189.95 612.72 L1188.79 613.76 L1187.73 614.81 L1186.75 615.85 L1185.73 616.89 L1184.77 617.93 L1184.02 618.98 L1183.6 620.02 L1183.46 621.06 L1183.37 622.1 L1183.3 623.14 L1183.25 624.19 L1183.2 625.23 L1183.14 626.27 L1183.05 627.31 L1182.92 628.36 L1182.67 629.4 L1182.25 630.44 L1181.68 631.48 L1180.99 632.52 L1180.16 633.57 L1178.8 634.61 L1176.95 635.65 L1174.78 636.69 L1172.46 637.74 L1170.18 638.78 L1167.9 639.82 L1165.38 640.86 L1162.8 641.9 L1160.32 642.95 L1158.11 643.99 L1156.04 645.03 L1153.99 646.07 L1152.04 647.12 L1150.26 648.16 L1148.69 649.2 L1147.41 650.24 L1146.34 651.28 L1145.28 652.33 L1144.3 653.37 L1143.47 654.41 L1142.86 655.45 L1142.54 656.5 L1142.57 657.54 L1143.01 658.58 L1143.78 659.62 L1144.78 660.66 L1145.93 661.71 L1147.5 662.75 L1149.91 663.79 L1152.77 664.83 L1155.71 665.88 L1158.64 666.92 L1161.79 667.96 L1165.15 669 L1168.69 670.04 L1275.74 670.04 L1279.28 669 L1282.64 667.96 L1285.79 666.92 L1288.72 665.88 L1291.66 664.83 L1294.53 663.79 L1296.93 662.75 L1298.51 661.71 L1299.65 660.66 L1300.65 659.62 L1301.42 658.58 L1301.86 657.54 L1301.9 656.5 L1301.57 655.45 L1300.96 654.41 L1300.13 653.37 L1299.15 652.33 L1298.09 651.28 L1297.02 650.24 L1295.74 649.2 L1294.18 648.16 L1292.39 647.12 L1290.44 646.07 L1288.4 645.03 L1286.32 643.99 L1284.12 642.95 L1281.64 641.9 L1279.05 640.86 L1276.54 639.82 L1274.25 638.78 L1271.97 637.74 L1269.66 636.69 L1267.48 635.65 L1265.63 634.61 L1264.27 633.57 L1263.44 632.52 L1262.75 631.48 L1262.19 630.44 L1261.76 629.4 L1261.51 628.36 L1261.38 627.31 L1261.29 626.27 L1261.23 625.23 L1261.18 624.19 L1261.13 623.14 L1261.07 622.1 L1260.97 621.06 L1260.83 620.02 L1260.41 618.98 L1259.66 617.93 L1258.71 616.89 L1257.69 615.85 L1256.71 614.81 L1255.65 613.76 L1254.48 612.72 L1253.25 611.68 L1251.97 610.64 L1250.67 609.6 L1249.39 608.55 L1248.15 607.51 L1246.96 606.47 L1245.76 605.43 L1244.54 604.38 L1243.33 603.34 L1242.14 602.3 L1240.98 601.26 L1239.87 600.22 L1238.83 599.17 L1237.86 598.13 L1236.98 597.09 L1236.16 596.05 L1235.38 595 L1234.64 593.96 L1233.92 592.92 L1233.21 591.88 L1232.49 590.84 L1231.78 589.79 L1231.08 588.75 L1230.4 587.71Z" fill="none" stroke="#333333" stroke-width="2" stroke-linejoin="miter" stroke-miterlimit="6"/>
<use href="#p" x="993" y="600"/><use href="#p" x="1001" y="604"/><use href="#p" x="1000" y="607"/><use href="#p" x="995" y="609"/><use href="#p" x="1048" y="598"/><use href="#p" x="1044" y="604"/><use href="#p" x="1095" y="599"/><use href="#p" x="1072" y="602"/><use href="#p" x="1064" y="605"/><use href="#p" x="1067" y="606"/><use href="#p" x="1079" y="607"/><use href="#p" x="1074" y="610"/><use href="#p" x="1035" y="613"/><use href="#p" x="1020" y="618"/><use href="#p" x="1062" y="618"/><use href="#p" x="1066" y="619"/><use href="#p" x="996" y="621"/><use href="#p" x="1002" y="623"/><use href="#p" x="1004" y="624"/><use href="#p" x="1015" y="624"/><use href="#p" x="1034" y="622"/><use href="#p" x="1094" y="622"/><use href="#p" x="1024" y="625"/><use href="#p" x="1017" y="627"/><use href="#p" x="1094" y="628"/><use href="#p" x="1022" y="629"/><use href="#p" x="1029" y="629"/><use href="#p" x="1026" y="632"/><use href="#p" x="1040" y="632"/><use href="#p" x="997" y="633"/><use href="#p" x="1080" y="634"/><use href="#p" x="1033" y="636"/><use href="#p" x="1045" y="636"/><use href="#p" x="1039" y="634"/><use href="#p" x="1092" y="636"/><use href="#p" x="1079" y="638"/><use href="#p" x="1001" y="639"/><use href="#p" x="1060" y="642"/><use href="#p" x="1080" y="643"/><use href="#p" x="1033" y="644"/><use href="#p" x="1034" y="646"/><use href="#p" x="994" y="647"/><use href="#p" x="1015" y="645"/><use href="#p" x="1063" y="647"/><use href="#p" x="1074" y="648"/><use href="#p" x="1095" y="647"/><use href="#p" x="1009" y="649"/><use href="#p" x="1013" y="650"/><use href="#p" x="1070" y="650"/><use href="#p" x="1018" y="652"/><use href="#p" x="1001" y="653"/><use href="#p" x="1068" y="653"/><use href="#p" x="1034" y="656"/><use href="#p" x="1040" y="656"/><use href="#p" x="1046" y="657"/><use href="#p" x="1052" y="655"/><use href="#p" x="1058" y="657"/><use href="#p" x="994" y="658"/><use href="#p" x="999" y="658"/><use href="#p" x="1009" y="657"/><use href="#p" x="1069" y="657"/><use href="#p" x="1074" y="659"/><use href="#p" x="1079" y="659"/><use href="#p" x="1085" y="660"/><use href="#p" x="1052" y="660"/><use href="#p" x="1059" y="663"/><use href="#p" x="1090" y="663"/><use href="#p" x="997" y="666"/><use href="#p" x="1026" y="666"/><use href="#p" x="1030" y="666"/><use href="#p" x="1036" y="666"/><use href="#p" x="1042" y="665"/><use href="#p" x="1049" y="666"/><use href="#p" x="1074" y="666"/><use href="#p" x="1092" y="666"/><use href="#p" x="1093" y="668"/><use href="#p" x="1017" y="669"/><use href="#p" x="1057" y="669"/>
<use href="#p" x="1254" y="588"/><use href="#p" x="1187" y="591"/><use href="#p" x="1259" y="594"/><use href="#p" x="1176" y="598"/><use href="#p" x="1196" y="604"/><use href="#p" x="1254" y="604"/><use href="#p" x="1182" y="607"/><use href="#p" x="1185" y="611"/><use href="#p" x="1170" y="611"/><use href="#p" x="1245" y="610"/><use href="#p" x="1210" y="613"/><use href="#p" x="1275" y="614"/><use href="#p" x="1171" y="616"/><use href="#p" x="1174" y="620"/><use href="#p" x="1250" y="618"/><use href="#p" x="1191" y="620"/><use href="#p" x="1209" y="621"/><use href="#p" x="1172" y="625"/><use href="#p" x="1249" y="625"/><use href="#p" x="1199" y="627"/><use href="#p" x="1260" y="628"/><use href="#p" x="1267" y="628"/><use href="#p" x="1210" y="633"/><use href="#p" x="1224" y="633"/><use href="#p" x="1253" y="634"/><use href="#p" x="1189" y="635"/><use href="#p" x="1169" y="638"/><use href="#p" x="1176" y="638"/><use href="#p" x="1188" y="639"/><use href="#p" x="1273" y="641"/><use href="#p" x="1255" y="642"/><use href="#p" x="1200" y="643"/><use href="#p" x="1209" y="643"/><use href="#p" x="1215" y="643"/><use href="#p" x="1228" y="642"/><use href="#p" x="1172" y="644"/><use href="#p" x="1180" y="643"/><use href="#p" x="1178" y="646"/><use href="#p" x="1231" y="646"/><use href="#p" x="1263" y="645"/><use href="#p" x="1210" y="648"/><use href="#p" x="1190" y="651"/><use href="#p" x="1254" y="650"/><use href="#p" x="1263" y="650"/><use href="#p" x="1274" y="651"/><use href="#p" x="1200" y="652"/><use href="#p" x="1226" y="652"/><use href="#p" x="1213" y="653"/><use href="#p" x="1192" y="655"/><use href="#p" x="1204" y="656"/><use href="#p" x="1211" y="656"/><use href="#p" x="1226" y="656"/><use href="#p" x="1242" y="656"/><use href="#p" x="1252" y="656"/><use href="#p" x="1257" y="655"/><use href="#p" x="1262" y="656"/><use href="#p" x="1186" y="660"/><use href="#p" x="1194" y="661"/><use href="#p" x="1209" y="660"/><use href="#p" x="1271" y="660"/><use href="#p" x="1196" y="663"/><use href="#p" x="1222" y="662"/><use href="#p" x="1233" y="663"/><use href="#p" x="1273" y="662"/><use href="#p" x="1212" y="665"/><use href="#p" x="1219" y="666"/><use href="#p" x="1244" y="666"/><use href="#p" x="1262" y="665"/><use href="#p" x="1267" y="666"/><use href="#p" x="1185" y="670"/><use href="#p" x="1193" y="670"/><use href="#p" x="1208" y="670"/><use href="#p" x="1213" y="670"/><use href="#p" x="1223" y="670"/><use href="#p" x="1257" y="670"/><use href="#p" x="1260" y="670"/><use href="#p" x="1272" y="670"/>
<path d="M937 494h393v1.1h-393zM937 494h1.1v183h-1.1zM1328.1 494h1.9v183h-1.9zM937 539h393v2h-393zM937 675h393v2h-393z" fill="#333333"/>
<text x="1030.7" y="526.4" font-size="23.47" fill="#1A1A1A" textLength="204.05" lengthAdjust="spacingAndGlyphs">__Erysipelotrichales</text>
<path d="M1043 677h2v6.9h-2zM1221 677h2v6.9h-2z" fill="#333333"/>
<text x="1043.5" y="708.8" font-size="23.47" fill="#4D4D4D" text-anchor="middle">A</text>
<text x="1221.5" y="708.8" font-size="23.47" fill="#4D4D4D" text-anchor="middle">B</text>
</g>
<g>
<rect x="123" y="691" width="393" height="46" fill="#D9D9D9"/>
<path d="M124 692h390v1h-389v43h-1z" fill="#E4E4E4"/>
<path d="M123 745h393v1h-393zM123 777h393v1h-393zM123 810h393v1h-393zM123 842h393v1h-393zM123 760h393v2h-393zM123 793h393v2h-393zM123 825h393v2h-393zM123 857h393v2h-393zM229 737h2v137h-2zM407 737h2v137h-2z" fill="#EBEBEB"/>
<path d="M203.81 820.52 L202.2 821.09 L200.61 821.67 L199.02 822.24 L197.35 822.82 L195.73 823.39 L194.32 823.96 L193.14 824.54 L191.93 825.11 L190.76 825.69 L189.69 826.26 L188.8 826.83 L188.14 827.41 L187.8 827.98 L187.79 828.56 L187.89 829.13 L188.06 829.7 L188.27 830.28 L188.5 830.85 L188.72 831.43 L188.9 832 L189.03 832.57 L189.08 833.15 L189.04 833.72 L188.95 834.3 L188.81 834.87 L188.63 835.44 L188.42 836.02 L188.16 836.59 L187.66 837.17 L186.89 837.74 L185.9 838.31 L184.73 838.89 L183.43 839.46 L182.03 840.04 L180.58 840.61 L178.71 841.18 L176.41 841.76 L173.86 842.33 L171.28 842.9 L168.87 843.48 L166.76 844.05 L164.63 844.63 L162.49 845.2 L160.42 845.77 L158.5 846.35 L156.8 846.92 L155.4 847.5 L154.34 848.07 L153.38 848.64 L152.45 849.22 L151.58 849.79 L150.81 850.37 L150.15 850.94 L149.64 851.51 L149.29 852.09 L149.14 852.66 L149.22 853.24 L149.51 853.81 L149.99 854.38 L150.63 854.96 L151.38 855.53 L152.22 856.11 L153.12 856.68 L154.03 857.25 L154.94 857.83 L155.96 858.4 L157.14 858.98 L158.44 859.55 L159.87 860.12 L161.41 860.7 L163.02 861.27 L164.71 861.85 L166.46 862.42 L168.28 862.99 L170.29 863.57 L172.47 864.14 L174.79 864.72 L177.22 865.29 L179.75 865.86 L280.25 865.86 L282.78 865.29 L285.21 864.72 L287.53 864.14 L289.71 863.57 L291.72 862.99 L293.54 862.42 L295.29 861.85 L296.98 861.27 L298.59 860.7 L300.13 860.12 L301.56 859.55 L302.86 858.98 L304.04 858.4 L305.06 857.83 L305.97 857.25 L306.88 856.68 L307.78 856.11 L308.62 855.53 L309.37 854.96 L310.01 854.38 L310.49 853.81 L310.78 853.24 L310.86 852.66 L310.71 852.09 L310.36 851.51 L309.85 850.94 L309.19 850.37 L308.42 849.79 L307.55 849.22 L306.62 848.64 L305.66 848.07 L304.6 847.5 L303.2 846.92 L301.5 846.35 L299.58 845.77 L297.51 845.2 L295.37 844.63 L293.24 844.05 L291.13 843.48 L288.72 842.9 L286.14 842.33 L283.59 841.76 L281.29 841.18 L279.42 840.61 L277.97 840.04 L276.57 839.46 L275.27 838.89 L274.1 838.31 L273.11 837.74 L272.34 837.17 L271.84 836.59 L271.58 836.02 L271.37 835.44 L271.19 834.87 L271.05 834.3 L270.96 833.72 L270.92 833.15 L270.97 832.57 L271.1 832 L271.28 831.43 L271.5 830.85 L271.73 830.28 L271.94 829.7 L272.11 829.13 L272.21 828.56 L272.2 827.98 L271.86 827.41 L271.2 826.83 L270.31 826.26 L269.24 825.69 L268.07 825.11 L266.86 824.54 L265.68 823.96 L264.27 823.39 L262.65 822.82 L260.98 822.24 L259.39 821.67 L257.8 821.09 L256.19 820.52Z" fill="none" stroke="#333333" stroke-width="2" stroke-linejoin="miter" stroke-miterlimit="6"/>
<path d="M395.43 789.91 L395.02 790.87 L394.63 791.83 L394.25 792.79 L393.89 793.76 L393.55 794.72 L393.24 795.68 L392.99 796.64 L392.78 797.6 L392.59 798.56 L392.4 799.52 L392.2 800.49 L391.95 801.45 L391.66 802.41 L391.27 803.37 L390.72 804.33 L390.01 805.29 L389.2 806.25 L388.32 807.22 L387.39 808.18 L386.47 809.14 L385.58 810.1 L384.64 811.06 L383.65 812.02 L382.62 812.98 L381.58 813.95 L380.53 814.91 L379.5 815.87 L378.49 816.83 L377.46 817.79 L376.37 818.75 L375.27 819.71 L374.22 820.68 L373.28 821.64 L372.48 822.6 L371.88 823.56 L371.34 824.52 L370.83 825.48 L370.41 826.44 L370.14 827.41 L370.06 828.37 L370.06 829.33 L370.06 830.29 L370.06 831.25 L370.06 832.21 L370.06 833.17 L370.06 834.14 L370.06 835.1 L370.06 836.06 L370.06 837.02 L370.06 837.98 L370.06 838.94 L370.06 839.9 L370.06 840.87 L370.05 841.83 L369.96 842.79 L369.8 843.75 L369.59 844.71 L369.35 845.67 L369.08 846.63 L368.82 847.6 L368.53 848.56 L368.12 849.52 L367.64 850.48 L367.12 851.44 L366.61 852.4 L366.14 853.36 L365.77 854.33 L365.54 855.29 L365.48 856.25 L365.59 857.21 L365.82 858.17 L366.13 859.13 L366.48 860.09 L366.82 861.06 L367.18 862.02 L367.66 862.98 L368.39 863.94 L369.62 864.9 L371.21 865.86 L444.87 865.86 L446.45 864.9 L447.68 863.94 L448.41 862.98 L448.89 862.02 L449.25 861.06 L449.6 860.09 L449.94 859.13 L450.25 858.17 L450.48 857.21 L450.59 856.25 L450.53 855.29 L450.3 854.33 L449.93 853.36 L449.47 852.4 L448.95 851.44 L448.43 850.48 L447.95 849.52 L447.54 848.56 L447.25 847.6 L446.99 846.63 L446.73 845.67 L446.48 844.71 L446.27 843.75 L446.11 842.79 L446.03 841.83 L446.01 840.87 L446.01 839.9 L446.01 838.94 L446.01 837.98 L446.01 837.02 L446.01 836.06 L446.01 835.1 L446.01 834.14 L446.01 833.17 L446.01 832.21 L446.01 831.25 L446.01 830.29 L446.01 829.33 L446.01 828.37 L445.93 827.41 L445.66 826.44 L445.24 825.48 L444.74 824.52 L444.19 823.56 L443.59 822.6 L442.8 821.64 L441.85 820.68 L440.8 819.71 L439.71 818.75 L438.61 817.79 L437.58 816.83 L436.58 815.87 L435.54 814.91 L434.49 813.95 L433.45 812.98 L432.42 812.02 L431.43 811.06 L430.49 810.1 L429.6 809.14 L428.68 808.18 L427.76 807.22 L426.87 806.25 L426.06 805.29 L425.35 804.33 L424.8 803.37 L424.41 802.41 L424.12 801.45 L423.88 800.49 L423.67 799.52 L423.48 798.56 L423.29 797.6 L423.08 796.64 L422.83 795.68 L422.53 794.72 L422.18 793.76 L421.82 792.79 L421.44 791.83 L421.05 790.87 L420.64 789.91Z" fill="none" stroke="#333333" stroke-width="2" stroke-linejoin="miter" stroke-miterlimit="6"/>
<use href="#p" x="218" y="820"/><use href="#p" x="248" y="825"/><use href="#p" x="277" y="825"/><use href="#p" x="189" y="828"/><use href="#p" x="218" y="828"/><use href="#p" x="271" y="831"/><use href="#p" x="214" y="833"/><use href="#p" x="280" y="836"/><use href="#p" x="181" y="842"/><use href="#p" x="203" y="842"/><use href="#p" x="258" y="843"/><use href="#p" x="250" y="844"/><use href="#p" x="182" y="846"/><use href="#p" x="193" y="846"/><use href="#p" x="205" y="848"/><use href="#p" x="188" y="849"/><use href="#p" x="176" y="851"/><use href="#p" x="177" y="855"/><use href="#p" x="215" y="853"/><use href="#p" x="223" y="854"/><use href="#p" x="228" y="854"/><use href="#p" x="279" y="853"/><use href="#p" x="253" y="856"/><use href="#p" x="240" y="861"/><use href="#p" x="195" y="863"/><use href="#p" x="213" y="863"/><use href="#p" x="196" y="866"/><use href="#p" x="253" y="864"/><use href="#p" x="260" y="864"/>
<use href="#p" x="383" y="790"/><use href="#p" x="433" y="790"/><use href="#p" x="433" y="793"/><use href="#p" x="363" y="808"/><use href="#p" x="443" y="816"/><use href="#p" x="416" y="818"/><use href="#p" x="419" y="819"/><use href="#p" x="424" y="820"/><use href="#p" x="393" y="824"/><use href="#p" x="385" y="827"/><use href="#p" x="454" y="827"/><use href="#p" x="389" y="835"/><use href="#p" x="417" y="833"/><use href="#p" x="360" y="835"/><use href="#p" x="365" y="841"/><use href="#p" x="358" y="843"/><use href="#p" x="394" y="844"/><use href="#p" x="379" y="847"/><use href="#p" x="366" y="853"/><use href="#p" x="439" y="856"/><use href="#p" x="359" y="859"/><use href="#p" x="451" y="858"/><use href="#p" x="357" y="863"/><use href="#p" x="358" y="866"/><use href="#p" x="374" y="865"/><use href="#p" x="431" y="863"/><use href="#p" x="437" y="863"/><use href="#p" x="454" y="865"/>
<path d="M123 691h393v1.1h-393zM123 691h1.1v183h-1.1zM514.1 691h1.9v183h-1.9zM123 736h393v2h-393zM123 872h393v2h-393z" fill="#333333"/>
<text x="230.5" y="723.4" font-size="23.47" fill="#1A1A1A" textLength="175.5" lengthAdjust="spacingAndGlyphs">__Lactobacillales</text>
<path d="M229 874h2v6.9h-2zM407 874h2v6.9h-2z" fill="#333333"/>
<text x="229.5" y="905.8" font-size="23.47" fill="#4D4D4D" text-anchor="middle">A</text>
<text x="407.5" y="905.8" font-size="23.47" fill="#4D4D4D" text-anchor="middle">B</text>
<path d="M115.5 760H123v2H115.5zM115.5 793H123v2H115.5zM115.5 825H123v2H115.5zM115.5 857H123v2H115.5z" fill="#333333"/>
<text x="109.2" y="770.7" font-size="23.47" fill="#4D4D4D" text-anchor="end">1e-01</text>
<text x="109.2" y="803.7" font-size="23.47" fill="#4D4D4D" text-anchor="end">1e-02</text>
<text x="109.2" y="835.7" font-size="23.47" fill="#4D4D4D" text-anchor="end">1e-03</text>
<text x="109.2" y="867.7" font-size="23.47" fill="#4D4D4D" text-anchor="end">1e-04</text>
</g>
<g>
<rect x="530" y="691" width="393" height="46" fill="#D9D9D9"/>
<path d="M531 692h390v1h-389v43h-1z" fill="#E4E4E4"/>
<path d="M530 745h393v1h-393zM530 777h393v1h-393zM530 810h393v1h-393zM530 842h393v1h-393zM530 760h393v2h-393zM530 793h393v2h-393zM530 825h393v2h-393zM530 857h393v2h-393zM636 737h2v137h-2zM814 737h2v137h-2z" fill="#EBEBEB"/>
<path d="M623.21 774.69 L621.8 775.84 L620.3 777 L618.71 778.15 L617.06 779.3 L615.42 780.46 L613.82 781.61 L612.24 782.77 L610.66 783.92 L609.05 785.07 L607.41 786.23 L605.7 787.38 L603.92 788.54 L602.03 789.69 L600.01 790.85 L597.85 792 L595.57 793.15 L593.21 794.31 L590.8 795.46 L588.35 796.62 L585.91 797.77 L583.41 798.92 L580.79 800.08 L578.1 801.23 L575.43 802.39 L572.84 803.54 L570.39 804.69 L568.11 805.85 L565.78 807 L563.52 808.16 L561.51 809.31 L559.93 810.47 L558.88 811.62 L557.95 812.77 L557.12 813.93 L556.45 815.08 L555.98 816.24 L555.78 817.39 L555.97 818.54 L556.63 819.7 L557.63 820.85 L558.81 822.01 L560.04 823.16 L561.38 824.31 L563.02 825.47 L564.89 826.62 L566.91 827.78 L569.01 828.93 L571.39 830.09 L574.17 831.24 L576.92 832.39 L579.22 833.55 L580.92 834.7 L582.56 835.86 L584.03 837.01 L585.13 838.16 L585.69 839.32 L585.72 840.47 L585.69 841.63 L585.63 842.78 L585.54 843.93 L585.43 845.09 L585.12 846.24 L584.18 847.4 L582.78 848.55 L581.12 849.71 L579.39 850.86 L577.78 852.01 L576.44 853.17 L574.97 854.32 L573.45 855.48 L572.15 856.63 L571.32 857.78 L571.17 858.94 L571.23 860.09 L571.37 861.25 L571.61 862.4 L572.81 863.55 L575.11 864.71 L578.2 865.86 L696.06 865.86 L699.14 864.71 L701.45 863.55 L702.65 862.4 L702.88 861.25 L703.03 860.09 L703.09 858.94 L702.93 857.78 L702.11 856.63 L700.8 855.48 L699.28 854.32 L697.82 853.17 L696.47 852.01 L694.87 850.86 L693.14 849.71 L691.48 848.55 L690.08 847.4 L689.14 846.24 L688.82 845.09 L688.72 843.93 L688.63 842.78 L688.57 841.63 L688.53 840.47 L688.56 839.32 L689.13 838.16 L690.23 837.01 L691.69 835.86 L693.33 834.7 L695.03 833.55 L697.34 832.39 L700.09 831.24 L702.86 830.09 L705.25 828.93 L707.35 827.78 L709.37 826.62 L711.24 825.47 L712.88 824.31 L714.21 823.16 L715.44 822.01 L716.63 820.85 L717.62 819.7 L718.29 818.54 L718.48 817.39 L718.28 816.24 L717.81 815.08 L717.13 813.93 L716.3 812.77 L715.38 811.62 L714.33 810.47 L712.75 809.31 L710.74 808.16 L708.47 807 L706.14 805.85 L703.87 804.69 L701.42 803.54 L698.83 802.39 L696.15 801.23 L693.47 800.08 L690.84 798.92 L688.35 797.77 L685.9 796.62 L683.46 795.46 L681.04 794.31 L678.68 793.15 L676.41 792 L674.25 790.85 L672.23 789.69 L670.34 788.54 L668.55 787.38 L666.85 786.23 L665.2 785.07 L663.6 783.92 L662.02 782.77 L660.43 781.61 L658.83 780.46 L657.19 779.3 L655.55 778.15 L653.95 777 L652.46 775.84 L651.04 774.69Z" fill="none" stroke="#333333" stroke-width="2" stroke-linejoin="miter" stroke-miterlimit="6"/>
<path d="M772.44 783.53 L770.35 784.58 L768.31 785.63 L766.31 786.68 L764.28 787.74 L762.28 788.79 L760.44 789.84 L758.88 790.89 L757.43 791.95 L756.01 793 L754.68 794.05 L753.44 795.11 L752.34 796.16 L751.39 797.21 L750.63 798.26 L750.04 799.32 L749.49 800.37 L748.98 801.42 L748.53 802.47 L748.15 803.53 L747.88 804.58 L747.74 805.63 L747.74 806.68 L747.82 807.74 L747.98 808.79 L748.19 809.84 L748.45 810.89 L748.74 811.95 L749.05 813 L749.4 814.05 L749.9 815.1 L750.55 816.16 L751.32 817.21 L752.15 818.26 L753.02 819.31 L753.9 820.37 L754.75 821.42 L755.53 822.47 L756.21 823.53 L756.87 824.58 L757.54 825.63 L758.22 826.68 L758.89 827.74 L759.52 828.79 L760.12 829.84 L760.66 830.89 L761.14 831.95 L761.53 833 L761.83 834.05 L762.08 835.1 L762.32 836.16 L762.54 837.21 L762.74 838.26 L762.91 839.31 L763.03 840.37 L763.1 841.42 L763.1 842.47 L762.91 843.52 L762.54 844.58 L762.04 845.63 L761.44 846.68 L760.8 847.73 L760.17 848.79 L759.58 849.84 L759.05 850.89 L758.42 851.95 L757.74 853 L757.07 854.05 L756.48 855.1 L756.02 856.16 L755.77 857.21 L755.8 858.26 L756.14 859.31 L756.74 860.37 L757.53 861.42 L758.46 862.47 L759.46 863.52 L760.94 864.58 L763.14 865.63 L766.38 866.68 L863.62 866.68 L866.86 865.63 L869.06 864.58 L870.54 863.52 L871.54 862.47 L872.47 861.42 L873.26 860.37 L873.86 859.31 L874.2 858.26 L874.23 857.21 L873.98 856.16 L873.52 855.1 L872.93 854.05 L872.26 853 L871.58 851.95 L870.95 850.89 L870.42 849.84 L869.83 848.79 L869.2 847.73 L868.56 846.68 L867.96 845.63 L867.46 844.58 L867.09 843.52 L866.9 842.47 L866.9 841.42 L866.97 840.37 L867.09 839.31 L867.26 838.26 L867.46 837.21 L867.68 836.16 L867.92 835.1 L868.17 834.05 L868.47 833 L868.86 831.95 L869.34 830.89 L869.88 829.84 L870.48 828.79 L871.11 827.74 L871.78 826.68 L872.46 825.63 L873.13 824.58 L873.79 823.53 L874.47 822.47 L875.25 821.42 L876.1 820.37 L876.98 819.31 L877.85 818.26 L878.68 817.21 L879.45 816.16 L880.1 815.1 L880.6 814.05 L880.95 813 L881.26 811.95 L881.55 810.89 L881.81 809.84 L882.02 808.79 L882.18 807.74 L882.26 806.68 L882.26 805.63 L882.12 804.58 L881.85 803.53 L881.47 802.47 L881.02 801.42 L880.51 800.37 L879.96 799.32 L879.37 798.26 L878.61 797.21 L877.66 796.16 L876.56 795.11 L875.32 794.05 L873.99 793 L872.57 791.95 L871.12 790.89 L869.56 789.84 L867.72 788.79 L865.72 787.74 L863.69 786.68 L861.69 785.63 L859.65 784.58 L857.56 783.53Z" fill="none" stroke="#333333" stroke-width="2" stroke-linejoin="miter" stroke-miterlimit="6"/>
<use href="#p" x="592" y="775"/><use href="#p" x="588" y="784"/><use href="#p" x="597" y="787"/><use href="#p" x="690" y="789"/><use href="#p" x="667" y="790"/><use href="#p" x="607" y="793"/><use href="#p" x="590" y="798"/><use href="#p" x="678" y="800"/><use href="#p" x="684" y="803"/><use href="#p" x="589" y="807"/><use href="#p" x="595" y="807"/><use href="#p" x="612" y="805"/><use href="#p" x="608" y="807"/><use href="#p" x="681" y="809"/><use href="#p" x="630" y="810"/><use href="#p" x="618" y="811"/><use href="#p" x="624" y="814"/><use href="#p" x="668" y="813"/><use href="#p" x="674" y="816"/><use href="#p" x="686" y="817"/><use href="#p" x="598" y="817"/><use href="#p" x="677" y="821"/><use href="#p" x="589" y="823"/><use href="#p" x="619" y="823"/><use href="#p" x="583" y="827"/><use href="#p" x="684" y="826"/><use href="#p" x="650" y="828"/><use href="#p" x="656" y="827"/><use href="#p" x="623" y="828"/><use href="#p" x="604" y="829"/><use href="#p" x="665" y="830"/><use href="#p" x="657" y="832"/><use href="#p" x="592" y="840"/><use href="#p" x="596" y="840"/><use href="#p" x="627" y="843"/><use href="#p" x="647" y="846"/><use href="#p" x="649" y="850"/><use href="#p" x="621" y="853"/><use href="#p" x="664" y="852"/><use href="#p" x="674" y="854"/><use href="#p" x="636" y="855"/><use href="#p" x="666" y="858"/><use href="#p" x="585" y="862"/><use href="#p" x="595" y="861"/><use href="#p" x="628" y="862"/><use href="#p" x="598" y="866"/><use href="#p" x="605" y="864"/><use href="#p" x="611" y="865"/><use href="#p" x="636" y="865"/><use href="#p" x="647" y="865"/><use href="#p" x="661" y="864"/><use href="#p" x="683" y="865"/>
<use href="#p" x="795" y="784"/><use href="#p" x="842" y="785"/><use href="#p" x="778" y="786"/><use href="#p" x="858" y="787"/><use href="#p" x="836" y="789"/><use href="#p" x="774" y="791"/><use href="#p" x="836" y="797"/><use href="#p" x="820" y="802"/><use href="#p" x="839" y="804"/><use href="#p" x="825" y="807"/><use href="#p" x="858" y="805"/><use href="#p" x="865" y="808"/><use href="#p" x="783" y="809"/><use href="#p" x="798" y="812"/><use href="#p" x="783" y="812"/><use href="#p" x="765" y="816"/><use href="#p" x="786" y="817"/><use href="#p" x="816" y="829"/><use href="#p" x="828" y="829"/><use href="#p" x="834" y="832"/><use href="#p" x="831" y="830"/><use href="#p" x="867" y="832"/><use href="#p" x="778" y="838"/><use href="#p" x="809" y="838"/><use href="#p" x="783" y="853"/><use href="#p" x="809" y="852"/><use href="#p" x="868" y="855"/><use href="#p" x="846" y="856"/><use href="#p" x="838" y="857"/><use href="#p" x="766" y="865"/><use href="#p" x="776" y="863"/><use href="#p" x="793" y="863"/><use href="#p" x="786" y="867"/><use href="#p" x="802" y="867"/><use href="#p" x="864" y="863"/>
<path d="M530 691h393v1.1h-393zM530 691h1.1v183h-1.1zM921.1 691h1.9v183h-1.9zM530 736h393v2h-393zM530 872h393v2h-393z" fill="#333333"/>
<text x="622.8" y="723.4" font-size="23.47" fill="#1A1A1A" textLength="206.5" lengthAdjust="spacingAndGlyphs">__Selenomonadales</text>
<path d="M636 874h2v6.9h-2zM814 874h2v6.9h-2z" fill="#333333"/>
<text x="636.5" y="905.8" font-size="23.47" fill="#4D4D4D" text-anchor="middle">A</text>
<text x="814.5" y="905.8" font-size="23.47" fill="#4D4D4D" text-anchor="middle">B</text>
</g>
<text x="725.1" y="940.2" font-size="29.33" fill="#000" text-anchor="middle" textLength="149.5" lengthAdjust="spacingAndGlyphs">Intervention</text>
<text transform="translate(37.5 707) rotate(-90)" font-size="29.33" fill="#000" text-anchor="middle" textLength="257.4" lengthAdjust="spacingAndGlyphs">Relative Abundance</text>
</svg>
</body></html>
